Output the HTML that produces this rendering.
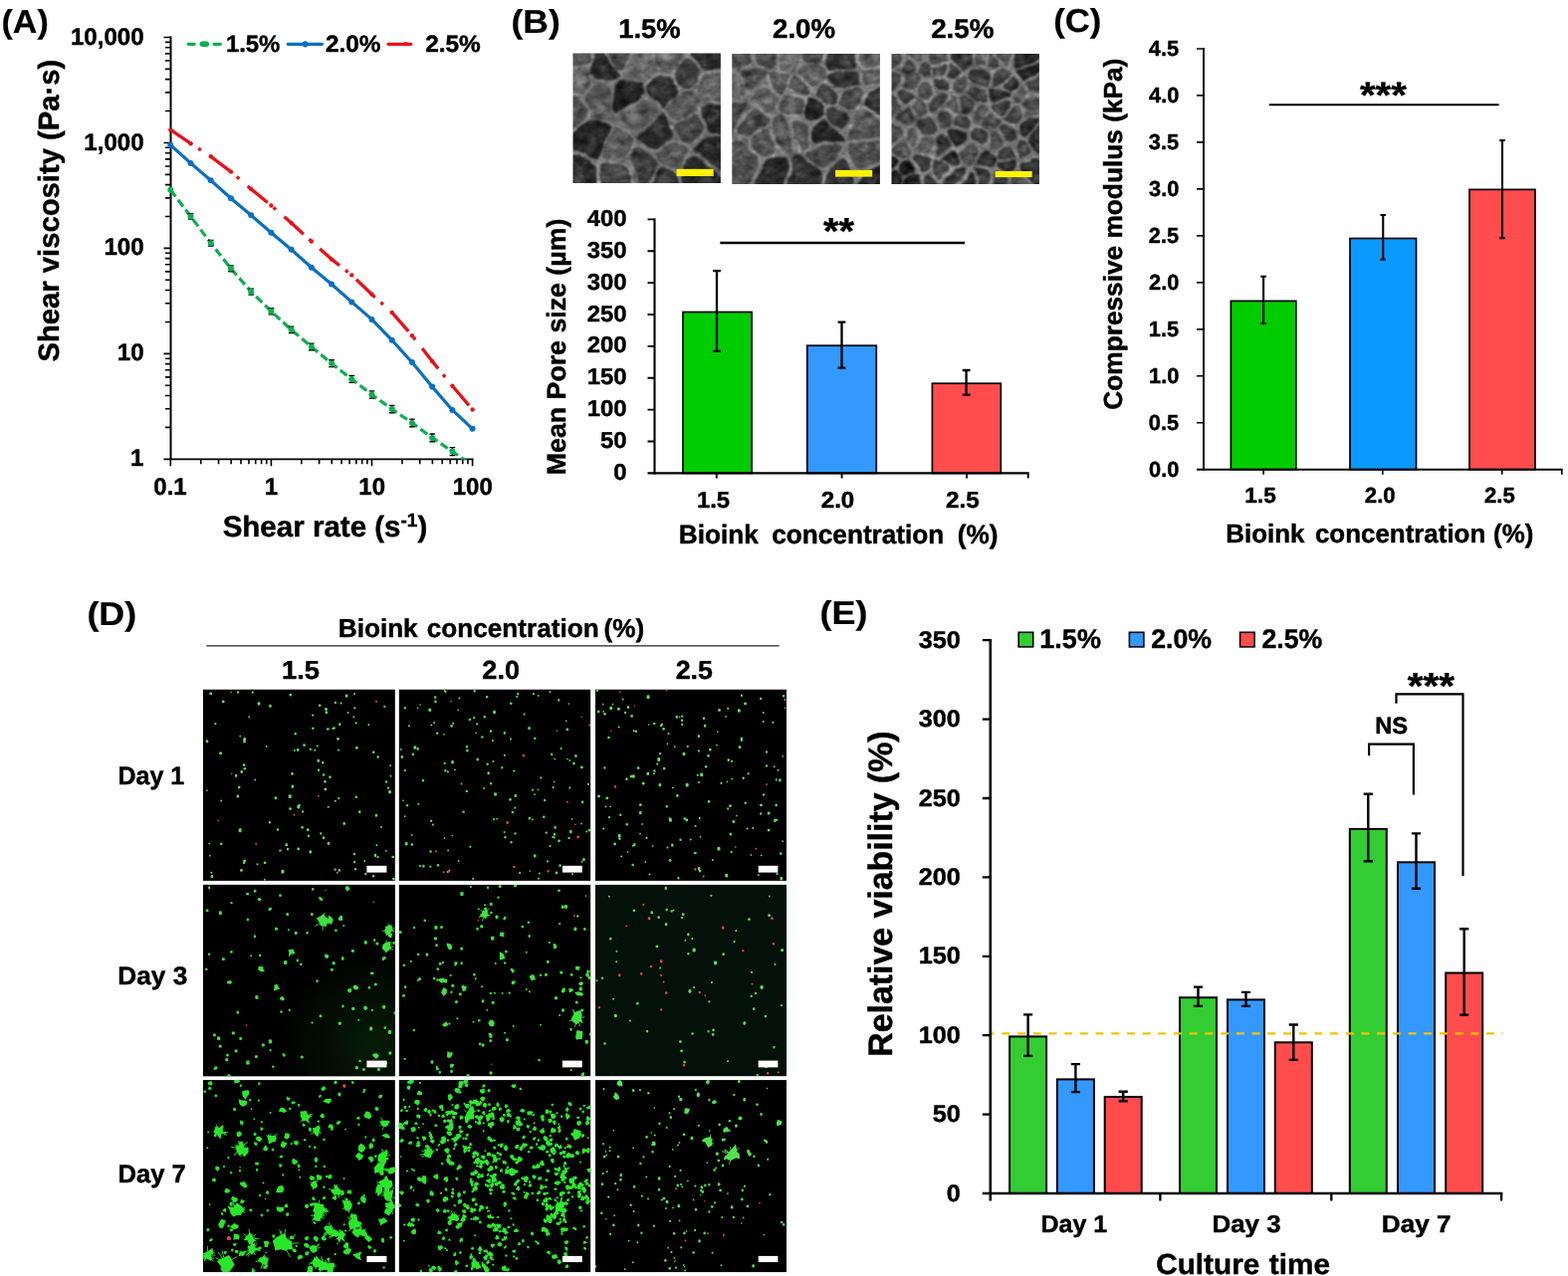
<!DOCTYPE html>
<html><head><meta charset="utf-8"><title>Figure</title>
<style>
html,body{margin:0;padding:0;background:#fff;width:1575px;height:1282px;overflow:hidden;}
svg{display:block;}
text{font-family:"Liberation Sans",sans-serif;font-weight:bold;fill:#000;stroke:#000;stroke-width:0.45px;stroke-linejoin:round;font-kerning:none;text-rendering:geometricPrecision;}
text.pl{stroke-width:0.2px;}
</style></head><body>
<svg width="1575" height="1282" viewBox="0 0 1575 1282">
<defs>
<filter id="semblur" x="-5%" y="-5%" width="110%" height="110%"><feGaussianBlur stdDeviation="0.8"/></filter>
<filter id="semtex" x="0" y="0" width="100%" height="100%" color-interpolation-filters="sRGB"><feTurbulence type="fractalNoise" baseFrequency="0.045" numOctaves="2" seed="3" result="w"/><feDisplacementMap in="SourceGraphic" in2="w" scale="9" xChannelSelector="R" yChannelSelector="G" result="d"/><feGaussianBlur in="d" stdDeviation="0.8" result="b"/><feTurbulence type="fractalNoise" baseFrequency="0.09 0.13" numOctaves="3" seed="7" result="n"/><feColorMatrix in="n" type="matrix" values="0.33 0.33 0.33 0 0  0.33 0.33 0.33 0 0  0.33 0.33 0.33 0 0  0 0 0 0 1" result="ng"/><feComposite in="b" in2="ng" operator="arithmetic" k1="0.9" k2="0.62" k3="0.3" k4="-0.15"/></filter>
<filter id="fblur" x="-5%" y="-5%" width="110%" height="110%"><feGaussianBlur stdDeviation="0.45"/></filter>
<radialGradient id="glow1" gradientUnits="userSpaceOnUse" cx="170" cy="160" r="95"><stop offset="0" stop-color="#071c07"/><stop offset="1" stop-color="#000"/></radialGradient>
</defs>
<rect x="0" y="0" width="1575" height="1282" fill="#fff"/>
<g id="panelA">
<text class="pl" transform="translate(1.51 33.3) scale(1.0300 1)" font-size="33">(A)</text>
<line x1="171.5" y1="36.6" x2="171.5" y2="462.2" stroke="#000" stroke-width="2" />
<line x1="164.5" y1="461.3" x2="475.5" y2="461.3" stroke="#000" stroke-width="1.8" />
<path d="M166 429.41H171.5M166 410.75H171.5M166 397.51H171.5M166 387.24H171.5M166 378.85H171.5M166 371.76H171.5M166 365.62H171.5M166 360.2H171.5M164.5 355.35H171.5M166 323.46H171.5M166 304.8H171.5M166 291.56H171.5M166 281.29H171.5M166 272.9H171.5M166 265.81H171.5M166 259.67H171.5M166 254.25H171.5M164.5 249.4H171.5M166 217.51H171.5M166 198.85H171.5M166 185.61H171.5M166 175.34H171.5M166 166.95H171.5M166 159.86H171.5M166 153.72H171.5M166 148.3H171.5M164.5 143.45H171.5M166 111.56H171.5M166 92.9H171.5M166 79.66H171.5M166 69.39H171.5M166 61H171.5M166 53.91H171.5M166 47.77H171.5M166 42.35H171.5M164.5 37.5H171.5M171.3 461.3V468.3M201.73 461.3V466.3M219.54 461.3V466.3M232.17 461.3V466.3M241.97 461.3V466.3M249.97 461.3V466.3M256.74 461.3V466.3M262.6 461.3V466.3M267.77 461.3V466.3M272.4 461.3V468.3M302.83 461.3V466.3M320.64 461.3V466.3M333.27 461.3V466.3M343.07 461.3V466.3M351.07 461.3V466.3M357.84 461.3V466.3M363.7 461.3V466.3M368.87 461.3V466.3M373.5 461.3V468.3M403.93 461.3V466.3M421.74 461.3V466.3M434.37 461.3V466.3M444.17 461.3V466.3M452.17 461.3V466.3M458.94 461.3V466.3M464.8 461.3V466.3M469.97 461.3V466.3M474.6 461.3V468.3" stroke="#000" stroke-width="1.6" fill="none"/>
<text transform="translate(130.96 467.9) scale(1.0050 1)" font-size="24">1</text>
<text transform="translate(117.86 362.12) scale(1.0050 1)" font-size="24">10</text>
<text transform="translate(104.45 256.34) scale(1.0050 1)" font-size="24">100</text>
<text transform="translate(84.33 150.56) scale(1.0050 1)" font-size="24">1,000</text>
<text transform="translate(70.92 44.78) scale(1.0050 1)" font-size="24">10,000</text>
<text transform="translate(154.28 497.3) scale(1.0000 1)" font-size="24">0.1</text>
<text transform="translate(265.7 497.3) scale(1.0000 1)" font-size="24">1</text>
<text transform="translate(360.29 497.3) scale(1.0000 1)" font-size="24">10</text>
<text transform="translate(454.71 497.3) scale(1.0000 1)" font-size="24">100</text>
<text transform="translate(58.8 363.54) rotate(-90) scale(1.0017 1)" font-size="29.2">Shear viscosity (Pa·s)</text>
<text transform="translate(223.64 538.5) scale(1.0009 1)" font-size="29.5">Shear rate (s<tspan dy="-9.5" font-size="19">-1</tspan><tspan dy="9.5">)</tspan></text>
<clipPath id="clipA"><rect x="165.5" y="30" width="317.1" height="431.8"/></clipPath>
<g clip-path="url(#clipA)">
<polyline points="171.3,190.7 191.52,217.4 211.74,244.3 231.96,269.8 252.18,293.1 272.4,312.8 292.62,331.3 312.84,348.4 333.06,365.2 353.28,380.9 373.5,396.5 393.72,411.1 413.94,424.9 434.16,439.9 454.38,453.6 474.6,467.5" fill="none" stroke="#0AAF50" stroke-width="3.2" stroke-dasharray="8.5 4"/>
<path d="M191.52 214.7V220.1M188.72 214.7H194.32M188.72 220.1H194.32M211.74 241.5V247.1M208.94 241.5H214.54M208.94 247.1H214.54M231.96 266.9V272.7M229.16 266.9H234.76M229.16 272.7H234.76M252.18 290.1V296.1M249.38 290.1H254.98M249.38 296.1H254.98M272.4 309.7V315.9M269.6 309.7H275.2M269.6 315.9H275.2M292.62 328.1V334.5M289.82 328.1H295.42M289.82 334.5H295.42M312.84 345.1V351.7M310.04 345.1H315.64M310.04 351.7H315.64M333.06 361.8V368.6M330.26 361.8H335.86M330.26 368.6H335.86M353.28 377.4V384.4M350.48 377.4H356.08M350.48 384.4H356.08M373.5 392.9V400.1M370.7 392.9H376.3M370.7 400.1H376.3M393.72 407.4V414.8M390.92 407.4H396.52M390.92 414.8H396.52M413.94 421.1V428.7M411.14 421.1H416.74M411.14 428.7H416.74M434.16 436V443.8M431.36 436H436.96M431.36 443.8H436.96M454.38 449.6V457.6M451.58 449.6H457.18M451.58 457.6H457.18M474.6 463.4V471.6M471.8 463.4H477.4M471.8 471.6H477.4" stroke="#000" stroke-width="1.4" fill="none"/>
<circle cx="171.3" cy="190.7" r="3" fill="#0AAF50"/>
<circle cx="191.52" cy="217.4" r="3" fill="#0AAF50"/>
<circle cx="211.74" cy="244.3" r="3" fill="#0AAF50"/>
<circle cx="231.96" cy="269.8" r="3" fill="#0AAF50"/>
<circle cx="252.18" cy="293.1" r="3" fill="#0AAF50"/>
<circle cx="272.4" cy="312.8" r="3" fill="#0AAF50"/>
<circle cx="292.62" cy="331.3" r="3" fill="#0AAF50"/>
<circle cx="312.84" cy="348.4" r="3" fill="#0AAF50"/>
<circle cx="333.06" cy="365.2" r="3" fill="#0AAF50"/>
<circle cx="353.28" cy="380.9" r="3" fill="#0AAF50"/>
<circle cx="373.5" cy="396.5" r="3" fill="#0AAF50"/>
<circle cx="393.72" cy="411.1" r="3" fill="#0AAF50"/>
<circle cx="413.94" cy="424.9" r="3" fill="#0AAF50"/>
<circle cx="434.16" cy="439.9" r="3" fill="#0AAF50"/>
<circle cx="454.38" cy="453.6" r="3" fill="#0AAF50"/>
<circle cx="474.6" cy="467.5" r="3" fill="#0AAF50"/>
<polyline points="171.3,145.7 191.52,163.9 211.74,181.3 231.96,199.3 252.18,216.3 272.4,233.8 292.62,250.8 312.84,268.7 333.06,285.5 353.28,303.4 373.5,320.9 393.72,341.8 413.94,364.1 434.16,388.6 454.38,412 474.6,430.8" fill="none" stroke="#0B6FC2" stroke-width="3.2"/>
<circle cx="171.3" cy="145.7" r="3" fill="#0B6FC2"/>
<circle cx="191.52" cy="163.9" r="3" fill="#0B6FC2"/>
<circle cx="211.74" cy="181.3" r="3" fill="#0B6FC2"/>
<circle cx="231.96" cy="199.3" r="3" fill="#0B6FC2"/>
<circle cx="252.18" cy="216.3" r="3" fill="#0B6FC2"/>
<circle cx="272.4" cy="233.8" r="3" fill="#0B6FC2"/>
<circle cx="292.62" cy="250.8" r="3" fill="#0B6FC2"/>
<circle cx="312.84" cy="268.7" r="3" fill="#0B6FC2"/>
<circle cx="333.06" cy="285.5" r="3" fill="#0B6FC2"/>
<circle cx="353.28" cy="303.4" r="3" fill="#0B6FC2"/>
<circle cx="373.5" cy="320.9" r="3" fill="#0B6FC2"/>
<circle cx="393.72" cy="341.8" r="3" fill="#0B6FC2"/>
<circle cx="413.94" cy="364.1" r="3" fill="#0B6FC2"/>
<circle cx="434.16" cy="388.6" r="3" fill="#0B6FC2"/>
<circle cx="454.38" cy="412" r="3" fill="#0B6FC2"/>
<circle cx="474.6" cy="430.8" r="3" fill="#0B6FC2"/>
<polyline points="171.3,130.4 191.52,144.2 211.74,157.3 231.96,172.6 252.18,190 272.4,206.5 292.62,224 312.84,242.5 333.06,260.4 353.28,276.4 373.5,295.7 393.72,313.9 413.94,337.2 434.16,363 454.38,387.7 474.6,411.5" fill="none" stroke="#E61218" stroke-width="3.3" stroke-dasharray="26 7.6 3.3 11.1"/>
<circle cx="171.3" cy="130.4" r="2.2" fill="#E61218"/>
<circle cx="191.52" cy="144.2" r="2.2" fill="#E61218"/>
<circle cx="211.74" cy="157.3" r="2.2" fill="#E61218"/>
<circle cx="231.96" cy="172.6" r="2.2" fill="#E61218"/>
<circle cx="252.18" cy="190" r="2.2" fill="#E61218"/>
<circle cx="272.4" cy="206.5" r="2.2" fill="#E61218"/>
<circle cx="292.62" cy="224" r="2.2" fill="#E61218"/>
<circle cx="312.84" cy="242.5" r="2.2" fill="#E61218"/>
<circle cx="333.06" cy="260.4" r="2.2" fill="#E61218"/>
<circle cx="353.28" cy="276.4" r="2.2" fill="#E61218"/>
<circle cx="373.5" cy="295.7" r="2.2" fill="#E61218"/>
<circle cx="393.72" cy="313.9" r="2.2" fill="#E61218"/>
<circle cx="413.94" cy="337.2" r="2.2" fill="#E61218"/>
<circle cx="434.16" cy="363" r="2.2" fill="#E61218"/>
<circle cx="454.38" cy="387.7" r="2.2" fill="#E61218"/>
<circle cx="474.6" cy="411.5" r="2.2" fill="#E61218"/>
</g>
<line x1="189.3" y1="44.3" x2="195.1" y2="44.3" stroke="#0AAF50" stroke-width="3.3" stroke-linecap="round"/>
<line x1="215.2" y1="44.3" x2="221.3" y2="44.3" stroke="#0AAF50" stroke-width="3.3" stroke-linecap="round"/>
<ellipse cx="205.3" cy="44.3" rx="4.8" ry="3" fill="#0AAF50"/>
<text transform="translate(226.9 51.9) scale(1.0163 1)" font-size="23.5">1.5%</text>
<line x1="289.3" y1="44.3" x2="323.4" y2="44.3" stroke="#0B6FC2" stroke-width="3.3" stroke-linecap="round"/>
<circle cx="306.6" cy="44.3" r="3.1" fill="#0B6FC2"/>
<text transform="translate(326.96 51.9) scale(1.0340 1)" font-size="23.5">2.0%</text>
<line x1="390.1" y1="44.3" x2="412.8" y2="44.3" stroke="#E61218" stroke-width="3.3" stroke-linecap="round"/>
<circle cx="407.4" cy="44.3" r="2.2" fill="#E61218"/>
<text transform="translate(427.15 51.9) scale(1.0378 1)" font-size="23.5">2.5%</text>
</g>
<g id="panelB">
<text class="pl" transform="translate(513.43 33) scale(1.0771 1)" font-size="33">(B)</text>
<text transform="translate(621.17 37.8) scale(1.0147 1)" font-size="27">1.5%</text>
<text transform="translate(776.04 37.8) scale(1.0235 1)" font-size="27">2.0%</text>
<text transform="translate(935.14 37.8) scale(1.0302 1)" font-size="27">2.5%</text>
<clipPath id="sc1"><rect x="0" y="0" width="148.4" height="130.7"/></clipPath>
<g transform="translate(575.5 53.4)" clip-path="url(#sc1)">
<g filter="url(#semtex)" stroke-linejoin="round">
<rect x="-12" y="-12" width="172.4" height="154.7" fill="rgb(100,100,100)"/>
<path d="M48.2 23.7L49 21.3Q49.7 19.5 43.2 11L34.5 -0.4Q28 -9 27.3 -8.6L26.4 -8Q25.8 -7.6 22.3 -1.5L17.6 6.7Q14.2 12.9 17.4 17.9L21.7 24.5Q25 29.5 29.4 29.5L35.4 29.4Q39.9 29.3 42.2 28.2L45.2 26.6Q47.5 25.5 48.2 23.7Z" fill="rgb(36,36,36)" stroke="rgb(153,153,153)" stroke-width="1"/>
<ellipse cx="30.4" cy="18.5" rx="8.5" ry="4.7" fill="rgb(66,66,66)" opacity="0.5" transform="rotate(81 30.4 18.5)"/>
<path d="M40.8 55.4L40.4 43.4Q40.2 34.4 43 31.3L46.8 27.3Q49.6 24.2 56.3 26.6L65.3 29.7Q72 32.1 72.3 35.2L72.8 39.4Q73.2 42.5 63.5 49.1L50.7 57.8Q41 64.4 40.8 55.4Z" fill="rgb(30,30,30)" stroke="rgb(133,133,133)" stroke-width="1"/>
<ellipse cx="53.6" cy="37.8" rx="8.5" ry="4.7" fill="rgb(60,60,60)" opacity="0.5" transform="rotate(117 53.6 37.8)"/>
<path d="M76.5 41.7L74.8 38.2Q73.6 35.5 77 31.1L81.5 25.3Q84.9 20.9 89.5 21.2L95.8 21.7Q100.4 22.1 103.2 26.9L106.9 33.2Q109.6 38 103.8 44L96 51.9Q90.2 57.9 89.6 57.8L88.8 57.8Q88.2 57.7 85 53.7L80.9 48.4Q77.7 44.4 76.5 41.7Z" fill="rgb(42,42,42)" stroke="rgb(161,161,161)" stroke-width="1.1"/>
<ellipse cx="85.9" cy="36.6" rx="8.6" ry="4.7" fill="rgb(72,72,72)" opacity="0.5" transform="rotate(127 85.9 36.6)"/>
<path d="M34.9 68.6L25.8 66.6Q19.1 65.1 10.4 72L-1.1 81.3Q-9.8 88.2 -9.6 89.7L-9.3 91.7Q-9.1 93.2 1.2 97.7L15 103.7Q25.3 108.2 25.5 107.8L25.8 107.2Q26.1 106.7 30.7 95.7L37 81.1Q41.6 70.1 34.9 68.6Z" fill="rgb(33,33,33)" stroke="rgb(144,144,144)" stroke-width="1"/>
<ellipse cx="18.3" cy="89.1" rx="10.6" ry="5.8" fill="rgb(63,63,63)" opacity="0.5" transform="rotate(100 18.3 89.1)"/>
<path d="M64.1 85.9L65.2 87.6Q66 88.8 71.5 91.3L78.8 94.5Q84.2 97 89.8 93.3L97.2 88.5Q102.7 84.9 101.8 80.4L100.5 74.4Q99.6 69.8 95.6 65.9L90.4 60.7Q86.5 56.7 87.4 57.1L88.7 57.6Q89.6 58 81.7 66L71.2 76.6Q63.2 84.6 64.1 85.9Z" fill="rgb(38,38,38)" stroke="rgb(137,137,137)" stroke-width="1"/>
<ellipse cx="87.6" cy="76" rx="8.7" ry="4.8" fill="rgb(68,68,68)" opacity="0.5" transform="rotate(68 87.6 76)"/>
<path d="M130.6 64.9L133.2 73.3Q135.2 79.6 142.4 81.5L151.9 84Q159 85.9 159.1 75L159.2 60.4Q159.3 49.5 150.4 50.8L138.4 52.6Q129.4 53.9 129.2 55.3L128.8 57.3Q128.5 58.7 130.6 64.9Z" fill="rgb(36,36,36)" stroke="rgb(162,162,162)" stroke-width="0.8"/>
<ellipse cx="141.5" cy="63.7" rx="8.8" ry="4.8" fill="rgb(66,66,66)" opacity="0.5" transform="rotate(141 141.5 63.7)"/>
<path d="M129.5 108.5L145.2 116.9Q156.9 123.2 156.8 128.3L156.5 135Q156.4 140.1 143 140.2L125.1 140.3Q111.7 140.4 110.4 133.6L108.6 124.6Q107.3 117.9 110.4 113.2L114.6 106.9Q117.7 102.2 129.5 108.5Z" fill="rgb(34,34,34)" stroke="rgb(131,131,131)" stroke-width="0.9"/>
<ellipse cx="131.2" cy="129.1" rx="11" ry="6" fill="rgb(64,64,64)" opacity="0.5" transform="rotate(141 131.2 129.1)"/>
<path d="M122.7 91.5L128.7 86.6Q133.1 83 140.6 83.3L150.5 83.7Q158 84 157.2 94.9L156.2 109.5Q155.4 120.4 144.9 114.2L130.8 106Q120.2 99.8 119.7 98.4L118.9 96.6Q118.3 95.2 122.7 91.5Z" fill="rgb(36,36,36)" stroke="rgb(149,149,149)" stroke-width="0.8"/>
<ellipse cx="135.6" cy="92.9" rx="9.1" ry="5" fill="rgb(66,66,66)" opacity="0.5" transform="rotate(40 135.6 92.9)"/>
<path d="M102.4 76.4L103.7 81.2Q104.6 84.9 107.8 87.5L112.1 91.1Q115.3 93.7 120.6 89.4L127.7 83.5Q133 79.1 130.9 72.9L128 64.5Q125.9 58.2 118.6 62.6L108.8 68.4Q101.5 72.8 102.4 76.4Z" fill="rgb(62,62,62)" stroke="rgb(134,134,134)" stroke-width="1.3"/>
<ellipse cx="114.6" cy="79.3" rx="7.6" ry="4.2" fill="rgb(92,92,92)" opacity="0.5" transform="rotate(53 114.6 79.3)"/>
<path d="M129.1 -9.8L146.3 -10.2Q159.1 -10.4 158.4 -3L157.5 6.8Q156.8 14.3 149.8 15.3L140.4 16.7Q133.3 17.8 127.8 13.1L120.5 6.9Q115 2.2 115.4 -1.4L115.8 -6.1Q116.2 -9.6 129.1 -9.8Z" fill="rgb(36,36,36)" stroke="rgb(164,164,164)" stroke-width="1.3"/>
<ellipse cx="136.3" cy="5.4" rx="9.5" ry="5.2" fill="rgb(66,66,66)" opacity="0.5" transform="rotate(115 136.3 5.4)"/>
<path d="M0.4 140.2L14.6 140.1Q25.2 140 24.9 130.9L24.4 118.7Q24 109.6 13.5 105.3L-0.4 99.6Q-10.9 95.3 -10.7 108.8L-10.4 126.8Q-10.2 140.3 0.4 140.2Z" fill="rgb(42,42,42)" stroke="rgb(159,159,159)" stroke-width="1.4"/>
<ellipse cx="5.9" cy="125" rx="10.9" ry="6" fill="rgb(72,72,72)" opacity="0.5" transform="rotate(79 5.9 125)"/>
<path d="M-8.4 32.6L-9.7 24.2Q-10.6 17.9 -3.5 17.3L5.9 16.4Q13 15.7 16.2 20.3L20.5 26.4Q23.7 30.9 19.6 35L14.2 40.4Q10.1 44.4 4.8 42.8L-2.2 40.6Q-7.5 38.9 -8.4 32.6Z" fill="rgb(92,92,92)" stroke="rgb(157,157,157)" stroke-width="1"/>
<ellipse cx="8.8" cy="31.4" rx="7.9" ry="4.3" fill="rgb(122,122,122)" opacity="0.5" transform="rotate(159 8.8 31.4)"/>
<path d="M41 67.6L40.6 67.4Q40.4 67.2 34.4 66.5L26.3 65.6Q20.2 64.9 17.5 58.2L13.9 49.2Q11.3 42.5 15.1 39L20.3 34.4Q24.2 31 28.6 31.5L34.4 32.1Q38.8 32.6 40.1 43.4L41.8 57.8Q43.2 68.6 42.6 68.3L41.8 68Q41.2 67.8 41 67.6Z" fill="rgb(78,78,78)" stroke="rgb(132,132,132)" stroke-width="0.7"/>
<ellipse cx="29.7" cy="58.2" rx="8.7" ry="4.8" fill="rgb(108,108,108)" opacity="0.5" transform="rotate(34 29.7 58.2)"/>
<path d="M80 11.8L78.2 0.8Q76.8 -7.5 74.6 -8.1L71.7 -8.9Q69.6 -9.5 64.3 -0.3L57.2 12Q51.8 21.2 51.5 22.6L51 24.5Q50.6 26 56.9 28.2L65.4 31.3Q71.7 33.5 74.7 29.5L78.5 24.1Q81.4 20.1 80 11.8Z" fill="rgb(92,92,92)" stroke="rgb(130,130,130)" stroke-width="0.8"/>
<ellipse cx="70.1" cy="11" rx="8.4" ry="4.6" fill="rgb(122,122,122)" opacity="0.5" transform="rotate(85 70.1 11)"/>
<path d="M104.3 15.2L109 7.6Q112.6 1.9 112.3 -1L111.9 -4.9Q111.6 -7.8 101.5 -7.7L88.1 -7.5Q78 -7.4 80.2 0.6L83 11.3Q85.2 19.3 89.9 19.8L96.1 20.4Q100.8 20.9 104.3 15.2Z" fill="rgb(88,88,88)" stroke="rgb(128,128,128)" stroke-width="1.1"/>
<ellipse cx="93.7" cy="1.4" rx="8.2" ry="4.5" fill="rgb(118,118,118)" opacity="0.5" transform="rotate(37 93.7 1.4)"/>
<path d="M139.9 50.2L150.2 49.6Q157.9 49.1 157.6 39.8L157.3 27.3Q157 18 149.1 17.9L138.5 17.9Q130.6 17.9 127.6 24.5L123.4 33.3Q120.4 40 123.9 43.2L128.6 47.5Q132.1 50.7 139.9 50.2Z" fill="rgb(86,86,86)" stroke="rgb(161,161,161)" stroke-width="1.1"/>
<ellipse cx="139.4" cy="32.9" rx="9.6" ry="5.3" fill="rgb(116,116,116)" opacity="0.5" transform="rotate(11 139.4 32.9)"/>
<path d="M49.8 71.2L57.5 77.1Q63.3 81.4 69.9 74.6L78.7 65.5Q85.3 58.7 81.5 53.9L76.5 47.6Q72.8 42.9 64.5 50.2L53.5 59.9Q45.2 67.2 44.8 67.1L44.4 67Q44 66.9 49.8 71.2Z" fill="rgb(84,84,84)" stroke="rgb(130,130,130)" stroke-width="0.8"/>
<ellipse cx="59.9" cy="66.1" rx="8.1" ry="4.5" fill="rgb(114,114,114)" opacity="0.5" transform="rotate(26 59.9 66.1)"/>
<path d="M83.1 103.4L84.6 108Q85.8 111.4 80.6 119.4L73.7 130.1Q68.5 138.1 64.5 129L59.1 116.7Q55.1 107.5 57.9 102.4L61.5 95.6Q64.2 90.5 69.5 93.3L76.6 97.1Q81.9 100 83.1 103.4Z" fill="rgb(56,56,56)" stroke="rgb(156,156,156)" stroke-width="0.7"/>
<ellipse cx="74.3" cy="111.3" rx="8.5" ry="4.7" fill="rgb(86,86,86)" opacity="0.5" transform="rotate(81 74.3 111.3)"/>
<path d="M88.9 94L96.1 90.1Q101.5 87.1 106.3 89.8L112.5 93.3Q117.2 96 116.8 97.2L116.3 98.7Q115.9 99.9 113.1 106.1L109.4 114.3Q106.5 120.5 100.5 117.8L92.4 114.2Q86.3 111.6 85.5 107.2L84.3 101.3Q83.5 97 88.9 94Z" fill="rgb(76,76,76)" stroke="rgb(134,134,134)" stroke-width="1.2"/>
<ellipse cx="102.3" cy="99.7" rx="8" ry="4.4" fill="rgb(106,106,106)" opacity="0.5" transform="rotate(63 102.3 99.7)"/>
<path d="M44.2 110.2L33.4 110.1Q25.2 110 25.1 109.9L25 109.6Q24.9 109.5 25.5 118.3L26.2 130Q26.8 138.8 39.1 138.6L55.4 138.3Q67.7 138 66.7 138.6L65.5 139.3Q64.6 139.9 61 131L56.1 119.2Q52.4 110.3 44.2 110.2Z" fill="rgb(62,62,62)" stroke="rgb(161,161,161)" stroke-width="1.1"/>
<ellipse cx="41.9" cy="120.7" rx="9.1" ry="5" fill="rgb(92,92,92)" opacity="0.5" transform="rotate(156 41.9 120.7)"/>
<path d="M114.2 36.4L117 36.1Q119.1 35.9 122.2 30.3L126.4 22.9Q129.5 17.3 124.9 12.6L118.8 6.4Q114.2 1.8 109.8 7.5L104 15.2Q99.6 21 103.3 25.7L108.4 32Q112.1 36.7 114.2 36.4Z" fill="rgb(52,52,52)" stroke="rgb(156,156,156)" stroke-width="0.9"/>
<ellipse cx="115.5" cy="26" rx="7.2" ry="4" fill="rgb(82,82,82)" opacity="0.5" transform="rotate(39 115.5 26)"/>
<path d="M-10.6 -0.9L-10.2 9Q-9.9 16.4 -2.4 15.3L7.6 13.9Q15.1 12.9 17.3 5.8L20.2 -3.7Q22.4 -10.8 12.4 -10L-0.9 -9Q-10.9 -8.2 -10.6 -0.9Z" fill="rgb(70,70,70)" stroke="rgb(136,136,136)" stroke-width="1.3"/>
<ellipse cx="6.6" cy="5.6" rx="7.9" ry="4.3" fill="rgb(100,100,100)" opacity="0.5" transform="rotate(154 6.6 5.6)"/>
<path d="M33.9 0.9L42 12.6Q48 21.4 53.1 11.9L59.9 -0.7Q65.1 -10.2 53.9 -9.5L39.1 -8.6Q27.9 -7.9 33.9 0.9Z" fill="rgb(60,60,60)" stroke="rgb(156,156,156)" stroke-width="1.3"/>
<ellipse cx="51.3" cy="2.7" rx="7.1" ry="3.9" fill="rgb(90,90,90)" opacity="0.5" transform="rotate(176 51.3 2.7)"/>
<path d="M113.4 37.1L117.2 37.3Q120.1 37.5 123.4 41.6L127.7 47Q131 51.2 129.9 53.3L128.6 56.2Q127.6 58.3 120 61.7L109.8 66.1Q102.1 69.4 98.1 65.5L92.8 60.3Q88.8 56.4 95.3 50.6L104 42.8Q110.5 36.9 113.4 37.1Z" fill="rgb(80,80,80)" stroke="rgb(124,124,124)" stroke-width="1.1"/>
<ellipse cx="116.2" cy="49.4" rx="8.5" ry="4.7" fill="rgb(110,110,110)" opacity="0.5" transform="rotate(124 116.2 49.4)"/>
<path d="M40.5 70.5L41.1 70.4Q41.6 70.3 36.7 81.2L30.2 95.7Q25.3 106.6 33.2 106.3L43.8 106Q51.7 105.7 55.2 101.4L59.8 95.7Q63.3 91.4 62.8 89.2L62.1 86.1Q61.5 83.9 55.1 79.9L46.5 74.6Q40.1 70.6 40.5 70.5Z" fill="rgb(80,80,80)" stroke="rgb(133,133,133)" stroke-width="1.1"/>
<ellipse cx="44.2" cy="88.4" rx="8.5" ry="4.7" fill="rgb(110,110,110)" opacity="0.5" transform="rotate(128 44.2 88.4)"/>
<path d="M69.6 140.7L69.6 140.7Q69.7 140.7 81.1 140.3L96.5 139.8Q108 139.4 107.4 134.2L106.6 127.1Q106.1 121.8 100.1 118.8L92.2 114.7Q86.2 111.6 81.2 120.3L74.6 132Q69.6 140.7 69.6 140.7Z" fill="rgb(50,50,50)" stroke="rgb(153,153,153)" stroke-width="1.1"/>
<ellipse cx="88.4" cy="134.1" rx="8" ry="4.4" fill="rgb(80,80,80)" opacity="0.5" transform="rotate(56 88.4 134.1)"/>
<path d="M-4.5 41.4L4.4 43.9Q11.1 45.8 12.8 52L15 60.3Q16.7 66.5 9.4 72L-0.5 79.3Q-7.8 84.8 -8.8 71.2L-10.2 53.1Q-11.2 39.5 -4.5 41.4Z" fill="rgb(70,70,70)" stroke="rgb(158,158,158)" stroke-width="1.2"/>
<ellipse cx="1.5" cy="60.8" rx="8.5" ry="4.7" fill="rgb(100,100,100)" opacity="0.5" transform="rotate(118 1.5 60.8)"/>
</g></g>
<rect x="679.6" y="169.8" width="37.1" height="7.2" fill="#FFF200"/>
<clipPath id="sc2"><rect x="0" y="0" width="148.6" height="131"/></clipPath>
<g transform="translate(735.3 54.1)" clip-path="url(#sc2)">
<g filter="url(#semtex)" stroke-linejoin="round">
<rect x="-12" y="-12" width="172.6" height="155" fill="rgb(105,105,105)"/>
<path d="M147.9 140.7L132.8 139.4Q121.5 138.3 123.4 133.3L125.8 126.5Q127.7 121.4 136.8 116.5L148.9 110Q158.1 105.1 158.4 116.1L158.9 130.8Q159.2 141.8 147.9 140.7Z" fill="rgb(31,31,31)" stroke="rgb(153,153,153)" stroke-width="1.1"/>
<ellipse cx="141.8" cy="123.5" rx="9" ry="4.9" fill="rgb(61,61,61)" opacity="0.5" transform="rotate(110 141.8 123.5)"/>
<path d="M16.9 94.3L24.2 100.1Q29.7 104.6 25.4 115.3L19.6 129.7Q15.3 140.4 8.1 140.4L-1.6 140.3Q-8.8 140.3 -8.4 124.6L-7.8 103.7Q-7.4 88 -4.3 88.1L-0.1 88.4Q3 88.5 5.5 88.9L8.9 89.4Q11.4 89.8 16.9 94.3Z" fill="rgb(73,73,73)" stroke="rgb(165,165,165)" stroke-width="1"/>
<ellipse cx="2.5" cy="103.8" rx="11.8" ry="6.5" fill="rgb(103,103,103)" opacity="0.5" transform="rotate(59 2.5 103.8)"/>
<path d="M97.1 27.5L103.4 33Q108.1 37 108 40.7L107.8 45.6Q107.7 49.2 103.2 50.7L97.3 52.6Q92.9 54 90.2 50.2L86.7 45.3Q84 41.5 84.5 39.9L85.2 37.7Q85.7 36.1 87.7 32.3L90.3 27.3Q92.3 23.5 97.1 27.5Z" fill="rgb(59,59,59)" stroke="rgb(142,142,142)" stroke-width="1.3"/>
<ellipse cx="98.2" cy="42.6" rx="6.5" ry="3.6" fill="rgb(89,89,89)" opacity="0.5" transform="rotate(41 98.2 42.6)"/>
<path d="M113.9 86.8L113.1 87.8Q112.6 88.7 102.3 89.1L88.7 89.6Q78.4 90 79.2 84.3L80.3 76.7Q81.1 71 85.2 69.2L90.7 66.8Q94.8 65.1 100 71.1L106.9 79.1Q112.1 85.1 112.8 85.4L113.8 85.7Q114.5 85.9 113.9 86.8Z" fill="rgb(30,30,30)" stroke="rgb(158,158,158)" stroke-width="0.9"/>
<ellipse cx="98.9" cy="80.4" rx="7.1" ry="3.9" fill="rgb(60,60,60)" opacity="0.5" transform="rotate(168 98.9 80.4)"/>
<path d="M48.2 47.9L47.2 54Q46.4 58.5 49.6 59.9L54 61.9Q57.2 63.3 61.2 62.6L66.4 61.6Q70.3 60.9 72.5 56.1L75.3 49.8Q77.5 45 70.3 44L60.7 42.7Q53.5 41.8 52.1 42.3L50.4 42.9Q49 43.4 48.2 47.9Z" fill="rgb(78,78,78)" stroke="rgb(152,152,152)" stroke-width="1.2"/>
<ellipse cx="56.9" cy="50.7" rx="6.6" ry="3.6" fill="rgb(108,108,108)" opacity="0.5" transform="rotate(131 56.9 50.7)"/>
<path d="M93.1 57.1L93.6 60.9Q94 63.8 89.6 64.8L83.7 66.2Q79.3 67.2 77 66.2L74 64.9Q71.7 63.8 72.9 58.1L74.5 50.4Q75.8 44.7 77.1 43.9L78.8 42.9Q80.1 42.1 83.9 45.7L89 50.6Q92.7 54.3 93.1 57.1Z" fill="rgb(33,33,33)" stroke="rgb(166,166,166)" stroke-width="1.2"/>
<ellipse cx="84" cy="53.5" rx="5.8" ry="3.2" fill="rgb(63,63,63)" opacity="0.5" transform="rotate(68 84 53.5)"/>
<path d="M-9.2 8L-8.1 -1.8Q-7.4 -9.3 0.8 -9.7L11.7 -10.4Q19.9 -10.8 19.5 -5.5L19.1 1.7Q18.7 7 15.8 9.8L12 13.5Q9.1 16.2 3.4 16L-4.2 15.7Q-9.9 15.5 -9.2 8Z" fill="rgb(64,64,64)" stroke="rgb(128,128,128)" stroke-width="1.4"/>
<ellipse cx="7.6" cy="1.3" rx="7.8" ry="4.3" fill="rgb(94,94,94)" opacity="0.5" transform="rotate(65 7.6 1.3)"/>
<path d="M126.9 87L144.5 86.2Q157.7 85.6 156.8 81.7L155.7 76.3Q154.8 72.4 148.1 66.8L139.2 59.3Q132.5 53.8 129.8 55.5L126.2 57.7Q123.5 59.4 121.3 66.6L118.5 76.3Q116.4 83.5 115.6 84.8L114.5 86.4Q113.6 87.6 126.9 87Z" fill="rgb(77,77,77)" stroke="rgb(139,139,139)" stroke-width="1.2"/>
<ellipse cx="132.6" cy="72" rx="9.1" ry="5" fill="rgb(107,107,107)" opacity="0.5" transform="rotate(141 132.6 72)"/>
<path d="M32.7 15L27.1 11.7Q22.9 9.3 22.7 4L22.6 -3Q22.4 -8.2 29.7 -8.8L39.4 -9.6Q46.7 -10.1 46.2 -3.6L45.6 5.1Q45.1 11.7 42.6 13.4L39.3 15.7Q36.9 17.4 32.7 15Z" fill="rgb(65,65,65)" stroke="rgb(146,146,146)" stroke-width="0.8"/>
<ellipse cx="36.5" cy="1.2" rx="6.9" ry="3.8" fill="rgb(95,95,95)" opacity="0.5" transform="rotate(149 36.5 1.2)"/>
<path d="M34 59.9L25 56.2Q18.3 53.5 13.3 62.5L6.7 74.4Q1.7 83.4 5.4 84.4L10.2 85.7Q13.9 86.7 20.9 82.1L30.3 76.1Q37.3 71.5 38.3 68.9L39.7 65.3Q40.7 62.7 34 59.9Z" fill="rgb(66,66,66)" stroke="rgb(138,138,138)" stroke-width="1.2"/>
<ellipse cx="19" cy="68.4" rx="7.8" ry="4.3" fill="rgb(96,96,96)" opacity="0.5" transform="rotate(116 19 68.4)"/>
<path d="M145.1 87.8L129 88.6Q116.9 89.2 116.6 88.9L116.1 88.5Q115.8 88.1 115.2 90.9L114.3 94.7Q113.7 97.5 117.4 103.9L122.3 112.5Q125.9 118.9 135.5 114.7L148.2 109Q157.8 104.7 157.6 99.5L157.4 92.5Q157.2 87.2 145.1 87.8Z" fill="rgb(73,73,73)" stroke="rgb(145,145,145)" stroke-width="0.9"/>
<ellipse cx="130.5" cy="92.8" rx="9.4" ry="5.2" fill="rgb(103,103,103)" opacity="0.5" transform="rotate(9 130.5 92.8)"/>
<path d="M130.7 46.5L131.4 40.1Q132 35.3 130.4 34.1L128.3 32.5Q126.7 31.3 122.4 32.6L116.7 34.4Q112.4 35.8 110.4 39.9L107.7 45.4Q105.6 49.6 110.1 52.5L116.1 56.5Q120.6 59.5 123.5 57L127.3 53.8Q130.1 51.4 130.7 46.5Z" fill="rgb(71,71,71)" stroke="rgb(156,156,156)" stroke-width="1"/>
<ellipse cx="123.5" cy="42.8" rx="6.6" ry="3.6" fill="rgb(101,101,101)" opacity="0.5" transform="rotate(111 123.5 42.8)"/>
<path d="M157.1 25.6L157.4 18.7Q157.6 13.6 149.3 13.8L138.2 14Q129.8 14.2 129.6 14.9L129.3 15.7Q129 16.4 129.1 20.4L129.3 25.8Q129.4 29.8 131.1 31L133.3 32.7Q135 33.9 141.5 32.9L150.3 31.7Q156.9 30.7 157.1 25.6Z" fill="rgb(84,84,84)" stroke="rgb(156,156,156)" stroke-width="1"/>
<ellipse cx="141.7" cy="22.3" rx="6.8" ry="3.7" fill="rgb(114,114,114)" opacity="0.5" transform="rotate(175 141.7 22.3)"/>
<path d="M106.5 75.7L98.7 69.1Q92.9 64.2 93.9 61.5L95.2 57.9Q96.2 55.2 98.7 53.8L102.1 52Q104.7 50.6 109.1 54.1L115.1 58.7Q119.5 62.1 117.4 67.7L114.5 75.1Q112.4 80.6 106.5 75.7Z" fill="rgb(46,46,46)" stroke="rgb(127,127,127)" stroke-width="1.1"/>
<ellipse cx="102.6" cy="60.8" rx="6.3" ry="3.5" fill="rgb(76,76,76)" opacity="0.5" transform="rotate(19 102.6 60.8)"/>
<path d="M67.2 99.2L68.2 98.9Q68.9 98.6 75.3 105.2L83.7 114Q90.1 120.6 90 126.7L89.8 134.8Q89.7 140.9 79.4 140L65.7 138.7Q55.4 137.8 56.4 127.6L57.7 114Q58.7 103.7 61 102.4L64.1 100.7Q66.4 99.4 67.2 99.2Z" fill="rgb(46,46,46)" stroke="rgb(136,136,136)" stroke-width="1"/>
<ellipse cx="68.1" cy="118.4" rx="9.9" ry="5.4" fill="rgb(76,76,76)" opacity="0.5" transform="rotate(120 68.1 118.4)"/>
<path d="M69.1 97.2L69.8 96.6Q70.3 96 72.4 94.9L75.2 93.3Q77.3 92.1 77.5 85.8L77.9 77.4Q78.1 71.1 75.5 69.4L72 67.1Q69.4 65.4 65.9 66.2L61.2 67.2Q57.6 67.9 60.9 76.9L65.3 88.8Q68.5 97.8 69.1 97.2Z" fill="rgb(79,79,79)" stroke="rgb(140,140,140)" stroke-width="1.3"/>
<ellipse cx="68.4" cy="80.8" rx="6.1" ry="3.4" fill="rgb(109,109,109)" opacity="0.5" transform="rotate(66 68.4 80.8)"/>
<path d="M47.3 48.5L45.7 53.8Q44.5 57.8 43.5 58.8L42.2 60.3Q41.2 61.4 34.2 57.7L24.9 52.7Q17.9 49 17.7 48.4L17.3 47.5Q17.1 46.8 18.1 44.9L19.4 42.4Q20.4 40.5 25 37.9L31.1 34.6Q35.7 32.1 39.5 35.8L44.6 40.8Q48.5 44.5 47.3 48.5Z" fill="rgb(87,87,87)" stroke="rgb(129,129,129)" stroke-width="1.3"/>
<ellipse cx="35" cy="46.5" rx="6.9" ry="3.8" fill="rgb(117,117,117)" opacity="0.5" transform="rotate(171 35 46.5)"/>
<path d="M56.2 114.2L54.4 128.1Q52.9 138.5 42.1 139.4L27.7 140.5Q16.9 141.3 21.6 130.4L27.9 115.9Q32.6 104.9 36.9 103.8L42.7 102.2Q47 101 50.2 101.8L54.5 102.9Q57.7 103.8 56.2 114.2Z" fill="rgb(34,34,34)" stroke="rgb(134,134,134)" stroke-width="1.1"/>
<ellipse cx="38" cy="122.6" rx="10" ry="5.5" fill="rgb(64,64,64)" opacity="0.5" transform="rotate(60 38 122.6)"/>
<path d="M45.1 40.1L40 34.5Q36.2 30.2 35.9 26.5L35.5 21.6Q35.3 17.9 37.7 16.8L41 15.5Q43.4 14.5 48.3 15.9L54.8 17.9Q59.7 19.3 57.6 25.5L54.8 33.7Q52.7 39.9 51.5 41.2L50 43Q48.9 44.4 45.1 40.1Z" fill="rgb(81,81,81)" stroke="rgb(157,157,157)" stroke-width="1"/>
<ellipse cx="49" cy="28.8" rx="6.4" ry="3.5" fill="rgb(111,111,111)" opacity="0.5" transform="rotate(120 49 28.8)"/>
<path d="M101.2 140.5L113 141.1Q121.9 141.5 122 135.5L122.2 127.6Q122.4 121.6 119.6 115.3L116 106.8Q113.3 100.5 106.5 107.5L97.3 116.8Q90.5 123.8 91 128.7L91.8 135.2Q92.3 140 101.2 140.5Z" fill="rgb(46,46,46)" stroke="rgb(164,164,164)" stroke-width="1"/>
<ellipse cx="112.2" cy="122.9" rx="9" ry="5" fill="rgb(76,76,76)" opacity="0.5" transform="rotate(134 112.2 122.9)"/>
<path d="M105.7 17.7L117.3 16.6Q126 15.8 125.5 15.4L124.8 14.8Q124.2 14.4 124.2 7.6L124.1 -1.6Q124.1 -8.4 116.9 -8.1L107.3 -7.7Q100 -7.3 97.8 -1.5L94.8 6.3Q92.5 12.1 93.9 14L95.7 16.6Q97 18.6 105.7 17.7Z" fill="rgb(45,45,45)" stroke="rgb(135,135,135)" stroke-width="1.2"/>
<ellipse cx="112.5" cy="6.9" rx="8" ry="4.4" fill="rgb(75,75,75)" opacity="0.5" transform="rotate(49 112.5 6.9)"/>
<path d="M156.8 5.1L156.1 -2.7Q155.5 -8.5 146.4 -8.7L134.3 -9Q125.3 -9.2 125.8 -2.5L126.5 6.5Q127.1 13.1 136.2 12.5L148.3 11.6Q157.4 11 156.8 5.1Z" fill="rgb(83,83,83)" stroke="rgb(159,159,159)" stroke-width="1.4"/>
<ellipse cx="141" cy="4.2" rx="7.6" ry="4.2" fill="rgb(113,113,113)" opacity="0.5" transform="rotate(136 141 4.2)"/>
<path d="M15.6 33.2L12 25.6Q9.3 19.8 4.1 19.3L-3 18.5Q-8.3 18 -8.8 26.4L-9.4 37.6Q-9.9 46 -3 45.1L6.2 43.9Q13.1 42.9 14.7 41.7L16.7 40.1Q18.3 38.9 15.6 33.2Z" fill="rgb(86,86,86)" stroke="rgb(134,134,134)" stroke-width="1.2"/>
<ellipse cx="6.3" cy="35.5" rx="7.3" ry="4" fill="rgb(116,116,116)" opacity="0.5" transform="rotate(103 6.3 35.5)"/>
<path d="M30.4 15.9L25.5 12.8Q21.8 10.5 17.7 13.1L12.1 16.5Q7.9 19.1 11.6 24.9L16.5 32.5Q20.2 38.3 23.8 35.4L28.5 31.6Q32.1 28.8 32.7 25.6L33.5 21.4Q34.1 18.3 30.4 15.9Z" fill="rgb(72,72,72)" stroke="rgb(127,127,127)" stroke-width="1"/>
<ellipse cx="20.5" cy="24.9" rx="6.1" ry="3.4" fill="rgb(102,102,102)" opacity="0.5" transform="rotate(144 20.5 24.9)"/>
<path d="M60.6 19.7L59.2 19.8Q58.2 19.8 54.6 17.7L49.7 14.9Q46 12.8 47.3 5.8L49 -3.5Q50.2 -10.5 54.8 -10.2L60.9 -9.9Q65.4 -9.6 66.5 -3.7L67.9 4.1Q69 10 66.8 12.9L63.9 16.8Q61.7 19.7 60.6 19.7Z" fill="rgb(96,96,96)" stroke="rgb(144,144,144)" stroke-width="1.2"/>
<ellipse cx="60.3" cy="4.1" rx="6.9" ry="3.8" fill="rgb(126,126,126)" opacity="0.5" transform="rotate(162 60.3 4.1)"/>
<path d="M42.2 62.7L44.6 61.3Q46.4 60.3 49 61.6L52.4 63.2Q55 64.5 57.8 74.7L61.4 88.4Q64.2 98.6 62 99.6L59.1 100.9Q57 101.9 53.8 100.6L49.7 99Q46.5 97.8 44.3 89.9L41.4 79.3Q39.2 71.4 39.5 69.1L40 66.1Q40.4 63.7 42.2 62.7Z" fill="rgb(78,78,78)" stroke="rgb(136,136,136)" stroke-width="1.3"/>
<ellipse cx="49.1" cy="78.7" rx="7.6" ry="4.2" fill="rgb(108,108,108)" opacity="0.5" transform="rotate(92 49.1 78.7)"/>
<path d="M-3.2 84.6L-7 85.9Q-9.9 87 -9.2 75.2L-8.2 59.6Q-7.4 47.8 -0.5 48L8.6 48.2Q15.5 48.4 15.9 48.8L16.5 49.4Q16.9 49.8 11.8 60L4.9 73.4Q-0.3 83.5 -3.2 84.6Z" fill="rgb(59,59,59)" stroke="rgb(135,135,135)" stroke-width="0.9"/>
<ellipse cx="4.4" cy="62.1" rx="7.5" ry="4.1" fill="rgb(89,89,89)" opacity="0.5" transform="rotate(91 4.4 62.1)"/>
<path d="M38.8 78.8L43 91Q46.1 100.2 41.1 101.5L34.5 103.3Q29.6 104.5 24.8 99.1L18.4 91.9Q13.7 86.5 20.3 81.5L29.1 74.7Q35.7 69.6 38.8 78.8Z" fill="rgb(70,70,70)" stroke="rgb(152,152,152)" stroke-width="1.2"/>
<ellipse cx="32.3" cy="92.2" rx="7.4" ry="4.1" fill="rgb(100,100,100)" opacity="0.5" transform="rotate(82 32.3 92.2)"/>
<path d="M95.1 20.6L95 22.8Q94.8 24.5 91.7 27.8L87.4 32.2Q84.2 35.5 77.8 30.8L69.2 24.4Q62.8 19.6 65.2 16.5L68.4 12.3Q70.8 9.2 77.1 9.5L85.5 10.1Q91.8 10.4 92.8 13L94.2 16.4Q95.2 19 95.1 20.6Z" fill="rgb(85,85,85)" stroke="rgb(142,142,142)" stroke-width="1.4"/>
<ellipse cx="82.6" cy="21.9" rx="7" ry="3.9" fill="rgb(115,115,115)" opacity="0.5" transform="rotate(47 82.6 21.9)"/>
<path d="M61.9 19.5L61.7 19.5Q61.6 19.4 59 25.2L55.5 32.9Q52.9 38.6 60.4 40.2L70.4 42.2Q78 43.7 79.1 42.1L80.5 39.8Q81.6 38.2 81.6 37.5L81.6 36.6Q81.5 35.9 75.7 31L67.8 24.5Q62 19.6 61.9 19.5Z" fill="rgb(73,73,73)" stroke="rgb(150,150,150)" stroke-width="1.1"/>
<ellipse cx="69.2" cy="35.5" rx="5.8" ry="3.2" fill="rgb(103,103,103)" opacity="0.5" transform="rotate(92 69.2 35.5)"/>
<path d="M87.7 92.2L100.2 89.7Q109.6 87.9 109.7 90.8L110 94.7Q110.1 97.6 104.2 104.3L96.3 113.2Q90.3 119.8 84.6 113L77 103.8Q71.3 96.9 73.4 96L76.2 94.9Q78.3 94 87.7 92.2Z" fill="rgb(62,62,62)" stroke="rgb(153,153,153)" stroke-width="0.9"/>
<ellipse cx="91.6" cy="98.8" rx="7.7" ry="4.2" fill="rgb(92,92,92)" opacity="0.5" transform="rotate(156 91.6 98.8)"/>
<path d="M92.6 3.4L95.5 -4Q97.8 -9.6 88.5 -9.9L76.1 -10.4Q66.9 -10.8 67.8 -4.6L69.1 3.6Q70.1 9.7 76.1 9.5L84.2 9.2Q90.3 9 92.6 3.4Z" fill="rgb(56,56,56)" stroke="rgb(160,160,160)" stroke-width="0.9"/>
<ellipse cx="81.8" cy="-0.7" rx="6.7" ry="3.7" fill="rgb(86,86,86)" opacity="0.5" transform="rotate(13 81.8 -0.7)"/>
<path d="M157.5 59.2L157.9 44.6Q158.1 33.7 151.2 34.8L141.9 36.4Q134.9 37.6 134.2 42.3L133.3 48.5Q132.6 53.2 140 58.3L149.8 65.1Q157.2 70.1 157.5 59.2Z" fill="rgb(45,45,45)" stroke="rgb(169,169,169)" stroke-width="1.4"/>
<ellipse cx="147.9" cy="48.4" rx="7.6" ry="4.2" fill="rgb(75,75,75)" opacity="0.5" transform="rotate(105 147.9 48.4)"/>
<path d="M105.1 17.4L117.6 16.4Q126.9 15.6 127.2 20L127.6 25.9Q127.9 30.3 123.2 32L117 34.3Q112.4 36 106.9 32L99.5 26.7Q94 22.7 94.6 21.4L95.2 19.5Q95.7 18.2 105.1 17.4Z" fill="rgb(43,43,43)" stroke="rgb(157,157,157)" stroke-width="1"/>
<ellipse cx="109.4" cy="26.1" rx="6.5" ry="3.6" fill="rgb(73,73,73)" opacity="0.5" transform="rotate(56 109.4 26.1)"/>
</g></g>
<rect x="839.1" y="170.9" width="37.1" height="6.7" fill="#FFF200"/>
<clipPath id="sc3"><rect x="0" y="0" width="148.4" height="131"/></clipPath>
<g transform="translate(895.5 54.1)" clip-path="url(#sc3)">
<g filter="url(#semtex)" stroke-linejoin="round">
<rect x="-12" y="-12" width="172.4" height="155" fill="rgb(105,105,105)"/>
<path d="M35.3 80.2L39.9 80.4Q43.4 80.6 44.7 79.3L46.4 77.5Q47.7 76.2 45.6 72.2L42.9 66.9Q40.9 62.9 40.3 62L39.5 60.7Q38.9 59.8 35.4 61.7L30.8 64.4Q27.4 66.4 26.9 67.8L26.2 69.8Q25.7 71.2 27.5 73.8L29.9 77.3Q31.8 80 35.3 80.2Z" fill="rgb(56,56,56)" stroke="rgb(129,129,129)" stroke-width="1.1"/>
<ellipse cx="37.3" cy="73" rx="5.1" ry="2.8" fill="rgb(86,86,86)" opacity="0.5" transform="rotate(133 37.3 73)"/>
<path d="M86.1 89.1L82.1 85.7Q79 83.2 79.1 81.3L79.4 78.8Q79.5 76.9 80.4 76L81.6 74.8Q82.4 73.9 84 73.6L86 73.3Q87.6 73 91.4 74.9L96.4 77.5Q100.2 79.4 98.7 83.1L96.6 88.1Q95.1 91.8 93.3 91.8L91 91.7Q89.2 91.7 86.1 89.1Z" fill="rgb(52,52,52)" stroke="rgb(147,147,147)" stroke-width="1.2"/>
<ellipse cx="89.3" cy="80.1" rx="4.9" ry="2.7" fill="rgb(82,82,82)" opacity="0.5" transform="rotate(93 89.3 80.1)"/>
<path d="M-8.8 95.7L-9.5 96.6Q-10.1 97.4 -9.9 103.8L-9.6 112.3Q-9.4 118.8 -5.2 118.1L0.4 117.3Q4.6 116.7 5.9 113.9L7.5 110.2Q8.8 107.4 3.7 103.6L-3.1 98.7Q-8.3 95 -8.8 95.7Z" fill="rgb(23,23,23)" stroke="rgb(147,147,147)" stroke-width="1.1"/>
<ellipse cx="-0.2" cy="107.9" rx="5.1" ry="2.8" fill="rgb(53,53,53)" opacity="0.5" transform="rotate(7 -0.2 107.9)"/>
<path d="M51.4 137.9L50.4 133.3Q49.7 129.8 46.5 127.3L42.2 124Q39 121.5 36.5 121.5L33.2 121.6Q30.8 121.6 30.3 126.9L29.8 133.8Q29.4 139.1 36.2 139.8L45.3 140.7Q52.1 141.4 51.4 137.9Z" fill="rgb(45,45,45)" stroke="rgb(147,147,147)" stroke-width="1.3"/>
<ellipse cx="38.1" cy="128.1" rx="5.5" ry="3" fill="rgb(75,75,75)" opacity="0.5" transform="rotate(163 38.1 128.1)"/>
<path d="M126.1 51.6L127.6 52.3Q128.7 52.9 130.7 55.6L133.3 59.3Q135.2 62 132 65.2L127.7 69.5Q124.5 72.7 120.7 71.6L115.7 70.2Q111.9 69.1 111.7 68.2L111.3 67Q111.1 66.1 115.3 61.6L120.8 55.5Q124.9 51 126.1 51.6Z" fill="rgb(55,55,55)" stroke="rgb(160,160,160)" stroke-width="0.9"/>
<ellipse cx="125.3" cy="62.3" rx="5.1" ry="2.8" fill="rgb(85,85,85)" opacity="0.5" transform="rotate(9 125.3 62.3)"/>
<path d="M28.1 83.9L25 89.5Q22.7 93.7 19.4 91.8L15.1 89.2Q11.8 87.2 12.6 84L13.6 79.6Q14.4 76.4 16.6 75.5L19.5 74.4Q21.7 73.5 24.3 75.4L27.8 77.9Q30.4 79.7 28.1 83.9Z" fill="rgb(77,77,77)" stroke="rgb(163,163,163)" stroke-width="0.9"/>
<ellipse cx="22.4" cy="82.1" rx="4.5" ry="2.5" fill="rgb(107,107,107)" opacity="0.5" transform="rotate(117 22.4 82.1)"/>
<path d="M86.3 92.4L81.7 89.1Q78.3 86.7 74.4 89.7L69.3 93.7Q65.5 96.7 68 100.6L71.3 105.9Q73.8 109.8 75.1 110.9L76.9 112.4Q78.2 113.5 79.4 112.7L81 111.7Q82.2 110.9 84.4 106.1L87.4 99.7Q89.7 94.8 86.3 92.4Z" fill="rgb(71,71,71)" stroke="rgb(136,136,136)" stroke-width="0.9"/>
<ellipse cx="76.4" cy="103.5" rx="5.7" ry="3.1" fill="rgb(101,101,101)" opacity="0.5" transform="rotate(148 76.4 103.5)"/>
<path d="M21.5 96.5L22 96.8Q22.4 97 21.6 99L20.6 101.6Q19.9 103.6 17 105L13.1 106.8Q10.2 108.2 5.6 104.1L-0.5 98.6Q-5.2 94.5 -0 93L6.9 90.9Q12 89.3 14.7 91.4L18.4 94.2Q21.1 96.3 21.5 96.5Z" fill="rgb(68,68,68)" stroke="rgb(124,124,124)" stroke-width="1.4"/>
<ellipse cx="12.7" cy="99" rx="5.1" ry="2.8" fill="rgb(98,98,98)" opacity="0.5" transform="rotate(76 12.7 99)"/>
<path d="M57.5 5.1L57.4 4.9Q57.3 4.8 57.9 0.8L58.6 -4.6Q59.2 -8.6 52.4 -8.8L43.3 -9Q36.5 -9.2 36.3 -5.6L36 -0.7Q35.8 2.9 37.7 5.5L40.2 9Q42.1 11.7 46.7 9.7L52.9 7.2Q57.5 5.2 57.5 5.1Z" fill="rgb(72,72,72)" stroke="rgb(132,132,132)" stroke-width="0.9"/>
<ellipse cx="49.9" cy="-0.1" rx="5.8" ry="3.2" fill="rgb(102,102,102)" opacity="0.5" transform="rotate(47 49.9 -0.1)"/>
<path d="M134 86.5L130.2 85.9Q127.4 85.5 126.1 87.5L124.3 90.3Q123 92.4 123.9 96.8L125.1 102.6Q126 107 126.7 106.4L127.7 105.6Q128.4 105 132.5 103.5L137.8 101.5Q141.8 100 140.3 96.1L138.3 90.9Q136.8 86.9 134 86.5Z" fill="rgb(64,64,64)" stroke="rgb(134,134,134)" stroke-width="1.1"/>
<ellipse cx="131.6" cy="93.9" rx="4.8" ry="2.7" fill="rgb(94,94,94)" opacity="0.5" transform="rotate(48 131.6 93.9)"/>
<path d="M67.5 112.8L63.2 114.2Q60 115.2 56.2 112L51.2 107.7Q47.4 104.4 52.1 101.8L58.2 98.2Q62.8 95.5 63.6 95.4L64.6 95.3Q65.3 95.2 67 100.2L69.1 106.7Q70.8 111.7 67.5 112.8Z" fill="rgb(39,39,39)" stroke="rgb(158,158,158)" stroke-width="1.1"/>
<ellipse cx="61.5" cy="104.4" rx="4.9" ry="2.7" fill="rgb(69,69,69)" opacity="0.5" transform="rotate(74 61.5 104.4)"/>
<path d="M157.2 116.3L157.8 128.6Q158.3 137.7 156.2 138.4L153.4 139.4Q151.3 140.1 144.7 132.8L136 123.2Q129.4 115.9 129.1 114.1L128.6 111.7Q128.3 109.9 132.9 107.6L139.1 104.5Q143.8 102.2 147.7 103.7L152.9 105.7Q156.8 107.2 157.2 116.3Z" fill="rgb(43,43,43)" stroke="rgb(158,158,158)" stroke-width="1.2"/>
<ellipse cx="145.6" cy="118.7" rx="8" ry="4.4" fill="rgb(73,73,73)" opacity="0.5" transform="rotate(73 145.6 118.7)"/>
<path d="M21.2 36.7L16.8 34.9Q13.5 33.5 14.1 29.5L15 24.1Q15.7 20.1 17.7 19.5L20.3 18.6Q22.3 18 25.2 20.9L29.1 24.9Q32 27.8 29.8 30.9L26.8 35Q24.6 38.1 21.2 36.7Z" fill="rgb(75,75,75)" stroke="rgb(160,160,160)" stroke-width="0.8"/>
<ellipse cx="20.7" cy="25.5" rx="4.6" ry="2.5" fill="rgb(105,105,105)" opacity="0.5" transform="rotate(123 20.7 25.5)"/>
<path d="M56.4 82.7L60.7 89Q63.9 93.7 64.4 93.5L65.1 93.3Q65.6 93.2 69.1 90.6L73.8 87.3Q77.4 84.7 76.8 82.6L76.1 79.8Q75.6 77.7 71.4 76.7L65.9 75.4Q61.8 74.4 59.2 75.5L55.8 77Q53.2 78.1 56.4 82.7Z" fill="rgb(34,34,34)" stroke="rgb(138,138,138)" stroke-width="1.2"/>
<ellipse cx="64.4" cy="84" rx="5" ry="2.7" fill="rgb(64,64,64)" opacity="0.5" transform="rotate(30 64.4 84)"/>
<path d="M75.1 60.7L73.4 59.7Q72.1 58.9 71.1 54L69.6 47.5Q68.5 42.5 71.1 42.3L74.6 41.9Q77.2 41.7 78.9 44.5L81.3 48.2Q83 51 81 54.1L78.4 58.3Q76.4 61.4 75.1 60.7Z" fill="rgb(56,56,56)" stroke="rgb(145,145,145)" stroke-width="0.9"/>
<ellipse cx="75.1" cy="50.9" rx="4" ry="2.2" fill="rgb(86,86,86)" opacity="0.5" transform="rotate(0 75.1 50.9)"/>
<path d="M153.6 102.9L146.8 100.3Q141.7 98.3 140.7 94L139.3 88.3Q138.2 84 143.2 79.2L149.8 72.8Q154.8 68 155.6 67.5L156.7 66.7Q157.5 66.2 157.9 77.8L158.3 93.3Q158.6 104.9 153.6 102.9Z" fill="rgb(40,40,40)" stroke="rgb(139,139,139)" stroke-width="0.8"/>
<ellipse cx="149.4" cy="83.6" rx="6.7" ry="3.7" fill="rgb(70,70,70)" opacity="0.5" transform="rotate(67 149.4 83.6)"/>
<path d="M118.3 128.4L118 135Q117.8 140 128.1 139.9L141.7 139.7Q151.9 139.5 144 132.1L133.4 122.1Q125.5 114.6 123.4 117.3L120.6 120.7Q118.5 123.4 118.3 128.4Z" fill="rgb(68,68,68)" stroke="rgb(148,148,148)" stroke-width="1"/>
<ellipse cx="131" cy="129" rx="6.6" ry="3.6" fill="rgb(98,98,98)" opacity="0.5" transform="rotate(11 131 129)"/>
<path d="M29.3 99.9L35.9 101.2Q40.8 102.1 41.5 102.5L42.3 103Q43 103.4 41.4 107.7L39.3 113.5Q37.7 117.9 34.8 118.3L30.9 119Q28 119.4 27.7 118.7L27.2 117.6Q26.9 116.8 25.1 113.3L22.8 108.5Q21.1 104.9 22 103.2L23.3 100.8Q24.3 99 29.3 99.9Z" fill="rgb(48,48,48)" stroke="rgb(162,162,162)" stroke-width="1.3"/>
<ellipse cx="30.9" cy="111.4" rx="5.2" ry="2.9" fill="rgb(78,78,78)" opacity="0.5" transform="rotate(67 30.9 111.4)"/>
<path d="M55.5 24.3L58.8 26.6Q61.2 28.4 64.8 25.9L69.7 22.7Q73.4 20.2 68.9 15.9L63 10.1Q58.6 5.7 58.4 6.2L58.2 6.9Q58 7.4 56.5 11.9L54.6 18Q53.1 22.5 55.5 24.3Z" fill="rgb(54,54,54)" stroke="rgb(153,153,153)" stroke-width="1.3"/>
<ellipse cx="60.7" cy="15.6" rx="4.6" ry="2.5" fill="rgb(84,84,84)" opacity="0.5" transform="rotate(99 60.7 15.6)"/>
<path d="M118.8 107L111.6 107.7Q106.2 108.2 105.1 109.9L103.7 112.2Q102.6 114 107.6 116.1L114.3 118.9Q119.3 121 121.5 119L124.5 116.4Q126.6 114.4 126.7 112.9L126.8 110.8Q126.8 109.3 126 108.4L125 107.3Q124.2 106.5 118.8 107Z" fill="rgb(36,36,36)" stroke="rgb(156,156,156)" stroke-width="1.1"/>
<ellipse cx="115.6" cy="113.6" rx="4.6" ry="2.5" fill="rgb(66,66,66)" opacity="0.5" transform="rotate(130 115.6 113.6)"/>
<path d="M82.2 -3.8L83.1 4.3Q83.7 10.3 87.2 10.9L91.9 11.6Q95.3 12.1 97.3 6.1L99.9 -1.9Q101.8 -7.9 101 -7.8L100 -7.6Q99.2 -7.5 93.9 -8.2L86.8 -9.1Q81.5 -9.8 82.2 -3.8Z" fill="rgb(72,72,72)" stroke="rgb(142,142,142)" stroke-width="1.2"/>
<ellipse cx="93.3" cy="2.1" rx="5.4" ry="2.9" fill="rgb(102,102,102)" opacity="0.5" transform="rotate(64 93.3 2.1)"/>
<path d="M46.2 125.7L41.7 121.4Q38.3 118.2 39.6 114L41.4 108.4Q42.7 104.1 44.3 104.2L46.4 104.2Q47.9 104.2 51.3 107.2L55.7 111.2Q59.1 114.2 56.2 118.6L52.5 124.5Q49.6 128.9 46.2 125.7Z" fill="rgb(61,61,61)" stroke="rgb(154,154,154)" stroke-width="1.2"/>
<ellipse cx="48.4" cy="114.4" rx="5.2" ry="2.8" fill="rgb(91,91,91)" opacity="0.5" transform="rotate(123 48.4 114.4)"/>
<path d="M80.5 139.6L71.3 139.3Q64.3 139.1 68.3 132.1L73.7 122.9Q77.7 115.9 80.6 123.1L84.5 132.6Q87.4 139.8 80.5 139.6Z" fill="rgb(39,39,39)" stroke="rgb(162,162,162)" stroke-width="1.2"/>
<ellipse cx="76.8" cy="133.8" rx="4.9" ry="2.7" fill="rgb(69,69,69)" opacity="0.5" transform="rotate(34 76.8 133.8)"/>
<path d="M10.7 28.3L11.8 24Q12.7 20.7 10.9 20L8.6 19Q6.9 18.3 2.6 18.3L-3.1 18.3Q-7.4 18.3 -7.6 24.1L-7.9 31.7Q-8.2 37.4 -5.1 37.9L-1.1 38.5Q2 38.9 4.3 36.7L7.5 33.8Q9.8 31.6 10.7 28.3Z" fill="rgb(53,53,53)" stroke="rgb(132,132,132)" stroke-width="0.9"/>
<ellipse cx="-0.3" cy="27.7" rx="5.6" ry="3.1" fill="rgb(83,83,83)" opacity="0.5" transform="rotate(97 -0.3 27.7)"/>
<path d="M78.6 23.9L80.4 27.1Q81.7 29.5 86.7 29.9L93.3 30.6Q98.3 31.1 98.6 30.9L99 30.7Q99.4 30.5 99.2 27.4L99 23.1Q98.9 20 98.1 18.4L97 16.3Q96.2 14.8 92 14.9L86.3 15.1Q82 15.3 80.6 17.2L78.7 19.6Q77.3 21.5 78.6 23.9Z" fill="rgb(51,51,51)" stroke="rgb(162,162,162)" stroke-width="0.8"/>
<ellipse cx="92.1" cy="24.8" rx="5.1" ry="2.8" fill="rgb(81,81,81)" opacity="0.5" transform="rotate(11 92.1 24.8)"/>
<path d="M124.9 50.1L126.4 51Q127.4 51.7 130.4 48.7L134.2 44.7Q137.2 41.7 135.8 38.4L134 34.1Q132.7 30.9 131.6 30.8L130.1 30.7Q129 30.6 125.9 33.9L121.9 38.4Q118.8 41.8 119.4 42.8L120.2 44.2Q120.8 45.3 121.7 46.5L122.9 48.1Q123.8 49.3 124.9 50.1Z" fill="rgb(75,75,75)" stroke="rgb(159,159,159)" stroke-width="0.9"/>
<ellipse cx="126.3" cy="41" rx="4.5" ry="2.5" fill="rgb(105,105,105)" opacity="0.5" transform="rotate(21 126.3 41)"/>
<path d="M65.4 73.1L72.5 74.5Q77.8 75.4 78.5 74.5L79.3 73.2Q79.9 72.2 78.9 68.8L77.5 64.2Q76.5 60.8 74.5 60.4L71.9 59.8Q70 59.3 67.7 60.4L64.8 61.8Q62.5 62.9 61.8 65.7L60.8 69.4Q60.1 72.2 65.4 73.1Z" fill="rgb(60,60,60)" stroke="rgb(143,143,143)" stroke-width="1.2"/>
<ellipse cx="69.8" cy="66.8" rx="4.5" ry="2.5" fill="rgb(90,90,90)" opacity="0.5" transform="rotate(70 69.8 66.8)"/>
<path d="M98.4 123.3L97.4 132.4Q96.7 139.3 94.3 139.3L91.2 139.3Q88.8 139.3 86 132.2L82.2 122.7Q79.4 115.6 79.1 115.4L78.7 115Q78.4 114.8 79.6 114.5L81.2 114.1Q82.4 113.7 87.4 114.5L94.1 115.6Q99.1 116.4 98.4 123.3Z" fill="rgb(46,46,46)" stroke="rgb(157,157,157)" stroke-width="1.4"/>
<ellipse cx="85.5" cy="125.5" rx="5.5" ry="3" fill="rgb(76,76,76)" opacity="0.5" transform="rotate(86 85.5 125.5)"/>
<path d="M29.4 44.9L32.6 46.8Q35.1 48.1 37.7 45.3L41.1 41.7Q43.7 38.9 42.1 35.8L40 31.7Q38.4 28.5 36.3 28.7L33.5 29Q31.4 29.2 29.8 31.5L27.7 34.6Q26.1 36.9 26.4 38.9L26.7 41.6Q27 43.6 29.4 44.9Z" fill="rgb(71,71,71)" stroke="rgb(150,150,150)" stroke-width="1.3"/>
<ellipse cx="32.1" cy="39.4" rx="4.5" ry="2.5" fill="rgb(101,101,101)" opacity="0.5" transform="rotate(36 32.1 39.4)"/>
<path d="M9.6 50.3L4.7 45Q1 41 -2.2 40.5L-6.5 39.8Q-9.7 39.3 -9.6 47.8L-9.3 59.1Q-9.2 67.5 -6.4 66.8L-2.8 65.8Q-0 65.1 4 61.9L9.3 57.6Q13.3 54.3 9.6 50.3Z" fill="rgb(63,63,63)" stroke="rgb(146,146,146)" stroke-width="0.8"/>
<ellipse cx="-0.8" cy="53" rx="6.1" ry="3.4" fill="rgb(93,93,93)" opacity="0.5" transform="rotate(25 -0.8 53)"/>
<path d="M8 74.2L3.8 70.5Q0.6 67.7 -2.3 68L-6.2 68.4Q-9 68.7 -8.8 76L-8.5 85.7Q-8.2 93 -8 93.1L-7.6 93.2Q-7.4 93.2 -1.9 91.7L5.3 89.7Q10.8 88.2 10.9 84.8L11.1 80.3Q11.2 76.9 8 74.2Z" fill="rgb(70,70,70)" stroke="rgb(158,158,158)" stroke-width="0.9"/>
<ellipse cx="-2.8" cy="80.3" rx="6" ry="3.3" fill="rgb(100,100,100)" opacity="0.5" transform="rotate(25 -2.8 80.3)"/>
<path d="M55.1 83.8L60.2 88.9Q64 92.8 59 95.7L52.3 99.5Q47.2 102.4 46.4 102.1L45.4 101.8Q44.6 101.5 44.5 100.8L44.4 99.9Q44.4 99.2 44.6 94.5L45 88.2Q45.3 83.4 46.5 82.3L48.2 80.8Q49.4 79.7 50 79.8L50.8 79.9Q51.3 80 55.1 83.8Z" fill="rgb(48,48,48)" stroke="rgb(131,131,131)" stroke-width="0.8"/>
<ellipse cx="50.4" cy="90.8" rx="4.8" ry="2.7" fill="rgb(78,78,78)" opacity="0.5" transform="rotate(75 50.4 90.8)"/>
<path d="M-9.5 -0.1L-8.4 10.1Q-7.7 17.8 -3.2 17.1L2.8 16.1Q7.3 15.4 8.4 11L9.8 5.2Q10.9 0.8 10.3 -1.9L9.4 -5.5Q8.8 -8.1 3.1 -8L-4.5 -7.9Q-10.3 -7.8 -9.5 -0.1Z" fill="rgb(61,61,61)" stroke="rgb(159,159,159)" stroke-width="0.9"/>
<ellipse cx="1.5" cy="3.6" rx="6.4" ry="3.5" fill="rgb(91,91,91)" opacity="0.5" transform="rotate(162 1.5 3.6)"/>
<path d="M149.2 19.1L140.6 25.7Q134.1 30.7 135.5 33.2L137.3 36.6Q138.7 39.2 144 40.6L151 42.6Q156.3 44 156.1 35.1L155.9 23.1Q155.7 14.2 149.2 19.1Z" fill="rgb(59,59,59)" stroke="rgb(144,144,144)" stroke-width="0.7"/>
<ellipse cx="147.5" cy="31.5" rx="5.9" ry="3.3" fill="rgb(89,89,89)" opacity="0.5" transform="rotate(144 147.5 31.5)"/>
<path d="M93.3 50.7L88.4 50.7Q84.8 50.7 82.5 47.8L79.4 43.9Q77 41 78.2 38.2L79.8 34.6Q81 31.8 85.8 32.3L92.3 32.8Q97.2 33.3 97 37.9L96.8 44Q96.7 48.6 96.8 49.2L96.9 50.1Q97 50.7 93.3 50.7Z" fill="rgb(56,56,56)" stroke="rgb(137,137,137)" stroke-width="0.9"/>
<ellipse cx="90.9" cy="40.2" rx="5.3" ry="2.9" fill="rgb(86,86,86)" opacity="0.5" transform="rotate(153 90.9 40.2)"/>
<path d="M38.6 51.6L39 56.4Q39.3 60 40.9 59.7L43.1 59.3Q44.8 59 46.6 57.5L49 55.7Q50.8 54.2 52.7 50.4L55.2 45.2Q57 41.3 53.4 41L48.5 40.7Q44.8 40.4 42.8 42.7L40.2 45.8Q38.3 48.1 38.6 51.6Z" fill="rgb(59,59,59)" stroke="rgb(158,158,158)" stroke-width="1"/>
<ellipse cx="46.8" cy="50.3" rx="4.6" ry="2.5" fill="rgb(89,89,89)" opacity="0.5" transform="rotate(121 46.8 50.3)"/>
<path d="M114.4 12.2L116.6 12.9Q118.2 13.4 119.6 6.7L121.4 -2.4Q122.8 -9.1 116.9 -9.2L109.1 -9.2Q103.2 -9.3 102.8 -8.2L102.2 -6.8Q101.7 -5.7 105 -0.5L109.4 6.5Q112.8 11.7 114.4 12.2Z" fill="rgb(68,68,68)" stroke="rgb(138,138,138)" stroke-width="1.2"/>
<ellipse cx="111.2" cy="0.1" rx="5.2" ry="2.9" fill="rgb(98,98,98)" opacity="0.5" transform="rotate(152 111.2 0.1)"/>
<path d="M117.8 43.7L118.3 41.6Q118.7 40.1 115.9 38.1L112.3 35.4Q109.5 33.3 106.8 32.5L103.2 31.3Q100.5 30.5 99.6 31.3L98.4 32.3Q97.5 33.1 98.2 37.9L99.2 44.3Q99.9 49 105.2 47.9L112.2 46.3Q117.4 45.2 117.8 43.7Z" fill="rgb(42,42,42)" stroke="rgb(148,148,148)" stroke-width="0.8"/>
<ellipse cx="107.2" cy="36.8" rx="4.8" ry="2.7" fill="rgb(72,72,72)" opacity="0.5" transform="rotate(5 107.2 36.8)"/>
<path d="M117.9 24.1L113.3 28.7Q109.8 32.1 112.4 34.1L115.7 36.7Q118.3 38.7 121.6 36.5L126 33.6Q129.2 31.5 126.9 28.2L123.7 23.9Q121.3 20.6 117.9 24.1Z" fill="rgb(40,40,40)" stroke="rgb(133,133,133)" stroke-width="1.3"/>
<ellipse cx="119.8" cy="29.5" rx="4" ry="2.2" fill="rgb(70,70,70)" opacity="0.5" transform="rotate(85 119.8 29.5)"/>
<path d="M21.9 46.1L17.9 49.4Q14.8 51.8 14.7 51.9L14.5 52.1Q14.4 52.3 11 48.6L6.5 43.8Q3.1 40.2 6.1 38.2L10.1 35.5Q13.1 33.5 16.1 34.8L20.1 36.5Q23.1 37.8 23.7 39.6L24.4 41.9Q25 43.7 21.9 46.1Z" fill="rgb(55,55,55)" stroke="rgb(149,149,149)" stroke-width="1.3"/>
<ellipse cx="14.7" cy="42" rx="4.5" ry="2.5" fill="rgb(85,85,85)" opacity="0.5" transform="rotate(174 14.7 42)"/>
<path d="M38.5 24.3L39.7 23.2Q40.5 22.4 40.7 19L40.8 14.5Q41 11.1 38.8 9.6L35.8 7.5Q33.6 5.9 31.2 7.3L28.1 9.2Q25.8 10.6 25.2 13.3L24.4 16.9Q23.8 19.6 26.6 21.6L30.3 24.3Q33.1 26.3 34.5 26L36.3 25.5Q37.7 25.1 38.5 24.3Z" fill="rgb(61,61,61)" stroke="rgb(138,138,138)" stroke-width="1"/>
<ellipse cx="34.4" cy="17.2" rx="4.7" ry="2.6" fill="rgb(91,91,91)" opacity="0.5" transform="rotate(155 34.4 17.2)"/>
<path d="M104.9 108.4L103.7 111.4Q102.9 113.8 102.3 114.1L101.6 114.5Q101 114.9 95.6 113.9L88.4 112.6Q83 111.6 85.5 106.7L88.9 100.1Q91.4 95.2 92.8 95.3L94.8 95.4Q96.2 95.5 98.2 97.1L100.8 99.3Q102.8 100.9 103.7 102.4L104.9 104.5Q105.8 106 104.9 108.4Z" fill="rgb(41,41,41)" stroke="rgb(131,131,131)" stroke-width="1"/>
<ellipse cx="98.7" cy="105" rx="5.1" ry="2.8" fill="rgb(71,71,71)" opacity="0.5" transform="rotate(113 98.7 105)"/>
<path d="M61.2 42.1L63.6 42.6Q65.5 43 66.9 47.5L68.7 53.7Q70.1 58.2 68.1 58.9L65.4 59.7Q63.4 60.4 60.5 58.5L56.6 55.9Q53.6 54 55.1 50L57.1 44.7Q58.6 40.6 58.9 41L59.2 41.4Q59.4 41.7 61.2 42.1Z" fill="rgb(69,69,69)" stroke="rgb(155,155,155)" stroke-width="1"/>
<ellipse cx="62.2" cy="48.6" rx="4.2" ry="2.3" fill="rgb(99,99,99)" opacity="0.5" transform="rotate(60 62.2 48.6)"/>
<path d="M32.9 0.9L33.1 -4.6Q33.3 -8.8 25.7 -8.9L15.7 -9.1Q8.1 -9.2 9.9 -6.3L12.2 -2.5Q13.9 0.4 17.9 2.5L23.2 5.2Q27.1 7.2 28.8 6.6L31.1 5.7Q32.8 5 32.9 0.9Z" fill="rgb(70,70,70)" stroke="rgb(156,156,156)" stroke-width="0.8"/>
<ellipse cx="25.1" cy="-1.9" rx="5.1" ry="2.8" fill="rgb(100,100,100)" opacity="0.5" transform="rotate(79 25.1 -1.9)"/>
<path d="M75.8 114L76.4 114.2Q76.9 114.4 72 121.6L65.5 131.1Q60.6 138.3 58.6 138.6L56 139.2Q54 139.6 52.9 136.5L51.4 132.4Q50.3 129.4 53.6 125.2L58.1 119.5Q61.4 115.3 64.5 114.5L68.7 113.3Q71.8 112.5 72.9 112.9L74.3 113.4Q75.3 113.8 75.8 114Z" fill="rgb(54,54,54)" stroke="rgb(148,148,148)" stroke-width="1.2"/>
<ellipse cx="66.2" cy="124.2" rx="5.6" ry="3.1" fill="rgb(84,84,84)" opacity="0.5" transform="rotate(48 66.2 124.2)"/>
<path d="M39.8 27.5L40.2 26.6Q40.5 25.9 44.4 25.5L49.6 24.9Q53.5 24.5 54.8 26.3L56.4 28.7Q57.7 30.5 57.4 33L57 36.3Q56.7 38.8 56.7 39.5L56.6 40.5Q56.6 41.2 53.5 39.8L49.4 37.9Q46.3 36.5 44.3 34L41.5 30.7Q39.5 28.1 39.8 27.5Z" fill="rgb(52,52,52)" stroke="rgb(151,151,151)" stroke-width="1"/>
<ellipse cx="51.3" cy="31.5" rx="4.1" ry="2.3" fill="rgb(82,82,82)" opacity="0.5" transform="rotate(169 51.3 31.5)"/>
<path d="M148.4 65.2L142.8 64.6Q138.6 64.1 134.8 66.4L129.7 69.5Q125.9 71.9 127 75.2L128.3 79.6Q129.3 82.9 131.8 82.9L135.1 83Q137.6 83 142.1 77.8L148.1 70.9Q152.6 65.7 148.4 65.2Z" fill="rgb(35,35,35)" stroke="rgb(143,143,143)" stroke-width="0.9"/>
<ellipse cx="134.1" cy="74.4" rx="5.1" ry="2.8" fill="rgb(65,65,65)" opacity="0.5" transform="rotate(93 134.1 74.4)"/>
<path d="M117.6 23.3L113.7 27Q110.7 29.7 107.6 30.1L103.5 30.7Q100.5 31.2 100.8 27.6L101.2 22.9Q101.5 19.3 104.3 17.4L108.1 14.8Q110.9 12.9 112.9 13.9L115.5 15.3Q117.5 16.3 118.6 16.9L120 17.7Q121.1 18.3 120.9 19L120.7 19.9Q120.6 20.6 117.6 23.3Z" fill="rgb(59,59,59)" stroke="rgb(149,149,149)" stroke-width="1.4"/>
<ellipse cx="114.1" cy="21" rx="4.6" ry="2.5" fill="rgb(89,89,89)" opacity="0.5" transform="rotate(107 114.1 21)"/>
<path d="M110.6 66.5L111.2 68.1Q111.7 69.2 110.8 71.6L109.5 74.8Q108.6 77.2 106.2 77.7L102.9 78.3Q100.5 78.8 96.9 77L92.1 74.7Q88.5 72.9 91.8 68.7L96 63.1Q99.3 58.9 102.5 60.8L106.9 63.4Q110.1 65.3 110.6 66.5Z" fill="rgb(63,63,63)" stroke="rgb(129,129,129)" stroke-width="0.7"/>
<ellipse cx="103.4" cy="67.7" rx="5" ry="2.8" fill="rgb(93,93,93)" opacity="0.5" transform="rotate(120 103.4 67.7)"/>
<path d="M155 -5L155.3 -1.1Q155.5 1.9 145.6 6.1L132.3 11.8Q122.4 16 122.2 15L121.9 13.6Q121.7 12.6 122.6 6L123.8 -2.8Q124.7 -9.3 133.7 -8.9L145.8 -8.4Q154.8 -8 155 -5Z" fill="rgb(33,33,33)" stroke="rgb(126,126,126)" stroke-width="1"/>
<ellipse cx="133.9" cy="4.5" rx="7.1" ry="3.9" fill="rgb(63,63,63)" opacity="0.5" transform="rotate(179 133.9 4.5)"/>
<path d="M22.7 69.1L23.8 67.5Q24.6 66.3 22.4 62.9L19.5 58.4Q17.3 55.1 16.6 55L15.7 55Q15 55 11.3 58.4L6.3 63.1Q2.5 66.6 6.2 69.1L11.2 72.5Q14.9 75 17 73.6L19.8 71.7Q21.9 70.3 22.7 69.1Z" fill="rgb(55,55,55)" stroke="rgb(139,139,139)" stroke-width="0.7"/>
<ellipse cx="14.4" cy="66.5" rx="4.7" ry="2.6" fill="rgb(85,85,85)" opacity="0.5" transform="rotate(62 14.4 66.5)"/>
<path d="M50.1 22.5L44.4 23.2Q40.2 23.8 40.4 19.9L40.7 14.8Q40.9 11 46.2 9.4L53.3 7.3Q58.6 5.8 57.3 10.6L55.6 17.1Q54.3 21.9 50.1 22.5Z" fill="rgb(62,62,62)" stroke="rgb(156,156,156)" stroke-width="1.4"/>
<ellipse cx="47.8" cy="18.3" rx="4.5" ry="2.5" fill="rgb(92,92,92)" opacity="0.5" transform="rotate(92 47.8 18.3)"/>
<path d="M119.8 88.5L116.9 88.1Q114.8 87.7 113 84.3L110.5 79.7Q108.7 76.3 109.5 74.6L110.6 72.4Q111.5 70.7 114.6 71.4L118.8 72.2Q122 72.8 123.4 76.4L125.2 81Q126.6 84.5 125.2 85.8L123.3 87.6Q121.9 88.9 119.8 88.5Z" fill="rgb(53,53,53)" stroke="rgb(134,134,134)" stroke-width="1"/>
<ellipse cx="116.1" cy="80.3" rx="4.4" ry="2.4" fill="rgb(83,83,83)" opacity="0.5" transform="rotate(160 116.1 80.3)"/>
<path d="M55 75.5L58 74.1Q60.2 73.1 61.1 70.2L62.4 66.2Q63.3 63.2 60.5 61.2L56.7 58.6Q53.9 56.6 51.1 58L47.5 59.7Q44.7 61.1 45.7 65.5L46.9 71.4Q47.8 75.8 49.3 76L51.3 76.3Q52.7 76.5 55 75.5Z" fill="rgb(62,62,62)" stroke="rgb(143,143,143)" stroke-width="0.7"/>
<ellipse cx="51" cy="69.6" rx="4.8" ry="2.6" fill="rgb(92,92,92)" opacity="0.5" transform="rotate(117 51 69.6)"/>
<path d="M64.9 27.6L70.4 24.7Q74.6 22.6 75.1 22.4L75.9 22.1Q76.4 21.9 77.7 24.2L79.3 27.2Q80.5 29.4 79 32.4L76.9 36.3Q75.4 39.2 73.3 40.1L70.6 41.4Q68.5 42.3 65.7 41.5L62 40.4Q59.2 39.5 59.6 36.6L60.3 32.6Q60.7 29.7 64.9 27.6Z" fill="rgb(67,67,67)" stroke="rgb(156,156,156)" stroke-width="1"/>
<ellipse cx="70.3" cy="34.3" rx="5" ry="2.7" fill="rgb(97,97,97)" opacity="0.5" transform="rotate(39 70.3 34.3)"/>
<path d="M103.8 15.9L107.3 14Q109.8 12.5 107.2 7L103.6 -0.5Q100.9 -6.1 99.6 -0.6L97.8 6.8Q96.5 12.3 97.9 13.8L99.8 15.8Q101.2 17.3 103.8 15.9Z" fill="rgb(63,63,63)" stroke="rgb(148,148,148)" stroke-width="0.9"/>
<ellipse cx="101.1" cy="8.1" rx="3.8" ry="2.1" fill="rgb(93,93,93)" opacity="0.5" transform="rotate(68 101.1 8.1)"/>
<path d="M156.2 59.2L156.5 51.9Q156.8 46.3 151.6 45.3L144.8 44Q139.7 43 137 45.6L133.3 49Q130.5 51.6 133.3 54.4L137.1 58.1Q139.8 60.9 143.9 62.4L149.3 64.5Q153.4 66 154.1 65.6L155.2 65.1Q156 64.8 156.2 59.2Z" fill="rgb(73,73,73)" stroke="rgb(134,134,134)" stroke-width="0.9"/>
<ellipse cx="148.6" cy="57.9" rx="6" ry="3.3" fill="rgb(103,103,103)" opacity="0.5" transform="rotate(81 148.6 57.9)"/>
<path d="M9.5 111.3L7.3 114.7Q5.6 117.2 7.9 119.5L10.9 122.6Q13.2 124.9 16.6 123.5L21.2 121.5Q24.6 120.1 23.4 115.9L21.7 110.4Q20.4 106.3 17.6 107L13.9 108Q11.2 108.8 9.5 111.3Z" fill="rgb(20,20,20)" stroke="rgb(149,149,149)" stroke-width="0.8"/>
<ellipse cx="13.4" cy="116.3" rx="4.4" ry="2.4" fill="rgb(50,50,50)" opacity="0.5" transform="rotate(1 13.4 116.3)"/>
<path d="M126.7 23.6L129.4 26.6Q131.5 28.8 132.3 28.9L133.3 29.1Q134.1 29.3 140.5 24.1L149.2 17.3Q155.6 12.2 155.5 9.6L155.4 6.2Q155.3 3.6 145.3 7.3L131.9 12.2Q121.9 15.9 122.7 17.5L123.8 19.7Q124.6 21.4 126.7 23.6Z" fill="rgb(28,28,28)" stroke="rgb(152,152,152)" stroke-width="1.2"/>
<ellipse cx="136.8" cy="17.9" rx="6.1" ry="3.4" fill="rgb(58,58,58)" opacity="0.5" transform="rotate(2 136.8 17.9)"/>
<path d="M35 80.8L40.3 81.1Q44.2 81.4 43.1 87.4L41.5 95.4Q40.4 101.3 35.8 99.8L29.8 97.6Q25.2 96.1 25.1 96.1L25 96.1Q25 96.1 26.8 91.4L29.3 85.2Q31.1 80.5 35 80.8Z" fill="rgb(80,80,80)" stroke="rgb(128,128,128)" stroke-width="1"/>
<ellipse cx="32.4" cy="94" rx="4.9" ry="2.7" fill="rgb(110,110,110)" opacity="0.5" transform="rotate(71 32.4 94)"/>
<path d="M12.2 128.7L11.3 134.8Q10.6 139.5 15.9 139.7L23 139.9Q28.2 140.1 28.5 134L28.8 125.9Q29 119.8 27.8 119.6L26.1 119.3Q24.9 119 21.3 120.5L16.5 122.5Q12.9 124 12.2 128.7Z" fill="rgb(30,30,30)" stroke="rgb(126,126,126)" stroke-width="1"/>
<ellipse cx="21.3" cy="131.4" rx="5.3" ry="2.9" fill="rgb(60,60,60)" opacity="0.5" transform="rotate(26 21.3 131.4)"/>
<path d="M93.9 51.7L88.4 52Q84.3 52.2 82.8 55.3L80.9 59.3Q79.4 62.4 80.2 64.9L81.2 68.2Q82 70.7 83.9 70.6L86.6 70.5Q88.5 70.4 91.8 66.6L96.1 61.6Q99.3 57.8 99 56L98.5 53.4Q98.1 51.5 93.9 51.7Z" fill="rgb(76,76,76)" stroke="rgb(148,148,148)" stroke-width="0.8"/>
<ellipse cx="90.6" cy="62.5" rx="4.9" ry="2.7" fill="rgb(106,106,106)" opacity="0.5" transform="rotate(45 90.6 62.5)"/>
<path d="M101.3 124.4L100.7 132.8Q100.3 139.1 105.5 138.9L112.6 138.7Q117.8 138.5 117.8 133.7L117.7 127.2Q117.6 122.3 113.2 120.4L107.3 117.8Q102.9 115.9 102.6 116.6L102.1 117.5Q101.7 118.1 101.3 124.4Z" fill="rgb(49,49,49)" stroke="rgb(130,130,130)" stroke-width="1.1"/>
<ellipse cx="105.5" cy="126.8" rx="5.5" ry="3" fill="rgb(79,79,79)" opacity="0.5" transform="rotate(145 105.5 126.8)"/>
<path d="M102.1 96L99 93.4Q96.7 91.4 98 88L99.6 83.5Q100.8 80.2 102.5 79.4L104.8 78.5Q106.5 77.8 108.7 81.4L111.7 86.3Q113.9 89.9 111 92.3L107.3 95.5Q104.4 97.9 102.1 96Z" fill="rgb(70,70,70)" stroke="rgb(136,136,136)" stroke-width="1"/>
<ellipse cx="103.9" cy="88.1" rx="4.2" ry="2.3" fill="rgb(100,100,100)" opacity="0.5" transform="rotate(88 103.9 88.1)"/>
<path d="M120.4 107.3L112.4 107.2Q106.5 107.1 105.8 104.3L104.9 100.6Q104.2 97.8 107.6 96L112 93.5Q115.4 91.7 116.7 91.9L118.4 92.3Q119.6 92.5 121.6 97L124.3 102.9Q126.3 107.4 120.4 107.3Z" fill="rgb(49,49,49)" stroke="rgb(163,163,163)" stroke-width="0.9"/>
<ellipse cx="114.3" cy="98.7" rx="4.7" ry="2.6" fill="rgb(79,79,79)" opacity="0.5" transform="rotate(136 114.3 98.7)"/>
<path d="M24.1 47.2L20.4 51.3Q17.6 54.3 20.3 57.1L23.9 60.7Q26.5 63.5 30.1 62.2L34.9 60.4Q38.5 59 37.8 56.1L36.8 52.2Q36 49.2 33.3 47.7L29.6 45.7Q26.8 44.2 24.1 47.2Z" fill="rgb(68,68,68)" stroke="rgb(139,139,139)" stroke-width="0.9"/>
<ellipse cx="27.2" cy="52.6" rx="4.7" ry="2.6" fill="rgb(98,98,98)" opacity="0.5" transform="rotate(131 27.2 52.6)"/>
<path d="M118.5 55.3L114.9 60.5Q112.2 64.3 109.2 62.1L105.3 59Q102.3 56.7 101.4 54.9L100 52.5Q99.1 50.7 99.3 50.5L99.7 50.1Q100 49.8 105.3 48.6L112.2 46.9Q117.4 45.7 118.6 47.4L120.1 49.7Q121.2 51.5 118.5 55.3Z" fill="rgb(55,55,55)" stroke="rgb(147,147,147)" stroke-width="1.3"/>
<ellipse cx="107" cy="51.8" rx="4.6" ry="2.5" fill="rgb(85,85,85)" opacity="0.5" transform="rotate(94 107 51.8)"/>
<path d="M77.3 16.1L80.4 13.4Q82.7 11.3 81.7 5.2L80.3 -3.1Q79.2 -9.2 73.6 -8.8L66.2 -8.1Q60.6 -7.6 60.3 -3.6L59.8 1.7Q59.5 5.7 63.6 9.9L69 15.6Q73 19.8 73.6 19.3L74.4 18.6Q75 18.1 77.3 16.1Z" fill="rgb(45,45,45)" stroke="rgb(132,132,132)" stroke-width="1.3"/>
<ellipse cx="71.1" cy="7.2" rx="6.6" ry="3.6" fill="rgb(75,75,75)" opacity="0.5" transform="rotate(130 71.1 7.2)"/>
<path d="M12.1 129.6L10.5 136.1Q9.2 141 3.6 140.3L-3.8 139.5Q-9.4 138.9 -9 133.5L-8.3 126.3Q-7.8 120.9 -4.2 119.8L0.7 118.5Q4.4 117.4 7.1 119.6L10.6 122.6Q13.3 124.8 12.1 129.6Z" fill="rgb(22,22,22)" stroke="rgb(124,124,124)" stroke-width="0.9"/>
<ellipse cx="3.9" cy="126.9" rx="6.1" ry="3.3" fill="rgb(52,52,52)" opacity="0.5" transform="rotate(70 3.9 126.9)"/>
<path d="M20.5 7L16 3.9Q12.6 1.7 12 5.8L11.1 11.4Q10.5 15.6 11.3 17L12.4 18.8Q13.2 20.2 16.2 19.9L20.3 19.4Q23.3 19 23.5 16.1L23.7 12.2Q23.9 9.2 20.5 7Z" fill="rgb(60,60,60)" stroke="rgb(159,159,159)" stroke-width="0.7"/>
<ellipse cx="17.5" cy="12.4" rx="4" ry="2.2" fill="rgb(90,90,90)" opacity="0.5" transform="rotate(2 17.5 12.4)"/>
</g></g>
<rect x="999.6" y="172" width="37.1" height="6.1" fill="#FFF200"/>
<rect x="686" y="313.5" width="69.1" height="161.9" fill="#00CC00" stroke="#000" stroke-width="1.7"/>
<path d="M720 272.2V352.9M716.1 272.2H723.9M716.1 352.9H723.9" stroke="#000" stroke-width="2.3" fill="none"/>
<rect x="810.8" y="347.2" width="69.5" height="128.2" fill="#3399FF" stroke="#000" stroke-width="1.7"/>
<path d="M845.5 323.7V369.7M841.6 323.7H849.4M841.6 369.7H849.4" stroke="#000" stroke-width="2.3" fill="none"/>
<rect x="936.4" y="385.2" width="68.9" height="90.2" fill="#FF4D4D" stroke="#000" stroke-width="1.7"/>
<path d="M970.6 372V396.7M966.7 372H974.5M966.7 396.7H974.5" stroke="#000" stroke-width="2.3" fill="none"/>
<line x1="657.5" y1="219.4" x2="657.5" y2="476.4" stroke="#000" stroke-width="2.1" />
<line x1="650.5" y1="475.4" x2="1033.6" y2="475.4" stroke="#000" stroke-width="2.1" />
<path d="M650.5 443.52H657.5M650.5 411.65H657.5M650.5 379.77H657.5M650.5 347.9H657.5M650.5 316.02H657.5M650.5 284.15H657.5M650.5 252.28H657.5M650.5 220.4H657.5M719.8 475.4V480.4M845.6 475.4V480.4M971 475.4V480.4M1032.7 475.4V480.4" stroke="#000" stroke-width="1.9" fill="none"/>
<text transform="translate(616.24 481.9) scale(1.0350 1)" font-size="23">0</text>
<text transform="translate(603 450.02) scale(1.0350 1)" font-size="23">50</text>
<text transform="translate(589.76 418.15) scale(1.0350 1)" font-size="23">100</text>
<text transform="translate(589.76 386.27) scale(1.0350 1)" font-size="23">150</text>
<text transform="translate(589.76 354.4) scale(1.0350 1)" font-size="23">200</text>
<text transform="translate(589.76 322.52) scale(1.0350 1)" font-size="23">250</text>
<text transform="translate(589.76 290.65) scale(1.0350 1)" font-size="23">300</text>
<text transform="translate(589.76 258.77) scale(1.0350 1)" font-size="23">350</text>
<text transform="translate(589.76 226.9) scale(1.0350 1)" font-size="23">400</text>
<text transform="translate(699.9 510) scale(1.0373 1)" font-size="23">1.5</text>
<text transform="translate(824.76 510) scale(1.0485 1)" font-size="23">2.0</text>
<text transform="translate(949.96 510) scale(1.0545 1)" font-size="23">2.5</text>
<line x1="723.3" y1="244" x2="969.1" y2="244" stroke="#000" stroke-width="2.4" />
<text transform="translate(826.98 244.79) scale(1.0568 1)" font-size="37.63">**</text>
<text transform="translate(568.1 477.19) rotate(-90) scale(1.0087 1)" font-size="26.5">Mean Pore size (µm)</text>
<text transform="translate(0 545.8) scale(0.9882 1)" font-size="26.5" xml:space="preserve"><tspan x="689.89">Bioink </tspan><tspan x="784.48">concentration </tspan><tspan x="973.27">(%)</tspan></text>
</g>
<g id="panelC">
<text class="pl" transform="translate(1058.17 32.3) scale(1.0535 1)" font-size="33">(C)</text>
<rect x="1236.4" y="302.4" width="65.4" height="169.3" fill="#00CC00" stroke="#000" stroke-width="1.7"/>
<path d="M1269.1 277.8V325M1266.3 277.8H1271.9M1266.3 325H1271.9" stroke="#000" stroke-width="2.1" fill="none"/>
<rect x="1356" y="239.5" width="66.5" height="232.2" fill="#0A99FF" stroke="#000" stroke-width="1.7"/>
<path d="M1389.25 216V260.7M1386.45 216H1392.05M1386.45 260.7H1392.05" stroke="#000" stroke-width="2.1" fill="none"/>
<rect x="1476" y="190.4" width="66" height="281.3" fill="#FF4D4D" stroke="#000" stroke-width="1.7"/>
<path d="M1509 141V239.1M1506.2 141H1511.8M1506.2 239.1H1511.8" stroke="#000" stroke-width="2.1" fill="none"/>
<line x1="1209" y1="48" x2="1209" y2="472.7" stroke="#000" stroke-width="2" />
<line x1="1202" y1="471.7" x2="1569.5" y2="471.7" stroke="#000" stroke-width="2" />
<path d="M1202 424.73H1209M1202 377.77H1209M1202 330.8H1209M1202 283.83H1209M1202 236.87H1209M1202 189.9H1209M1202 142.93H1209M1202 95.97H1209M1202 49H1209M1269.1 471.7V476.7M1388.8 471.7V476.7M1508.7 471.7V476.7M1568.8 471.7V476.7" stroke="#000" stroke-width="1.7" fill="none"/>
<text transform="translate(1154.09 478.5) scale(1.0000 1)" font-size="21.8">0.0</text>
<text transform="translate(1153.8 431.53) scale(1.0000 1)" font-size="21.8">0.5</text>
<text transform="translate(1154.09 384.57) scale(1.0000 1)" font-size="21.8">1.0</text>
<text transform="translate(1153.8 337.6) scale(1.0000 1)" font-size="21.8">1.5</text>
<text transform="translate(1154.09 290.63) scale(1.0000 1)" font-size="21.8">2.0</text>
<text transform="translate(1153.8 243.67) scale(1.0000 1)" font-size="21.8">2.5</text>
<text transform="translate(1154.09 196.7) scale(1.0000 1)" font-size="21.8">3.0</text>
<text transform="translate(1153.8 149.73) scale(1.0000 1)" font-size="21.8">3.5</text>
<text transform="translate(1154.09 102.77) scale(1.0000 1)" font-size="21.8">4.0</text>
<text transform="translate(1153.8 55.8) scale(1.0000 1)" font-size="21.8">4.5</text>
<text transform="translate(1250.27 505.2) scale(1.0379 1)" font-size="21.8">1.5</text>
<text transform="translate(1370.83 505.2) scale(1.0190 1)" font-size="21.8">2.0</text>
<text transform="translate(1491.03 505.2) scale(1.0158 1)" font-size="21.8">2.5</text>
<line x1="1274.9" y1="105.3" x2="1505.6" y2="105.3" stroke="#000" stroke-width="2" />
<text transform="translate(1365.98 107.64) scale(1.0875 1)" font-size="36.83">***</text>
<text transform="translate(1127.4 411.68) rotate(-90) scale(1.0024 1)" font-size="26.2">Compressive modulus (kPa)</text>
<text transform="translate(0 544.8) scale(0.9897 1)" font-size="26.2" xml:space="preserve"><tspan x="1244.11">Bioink </tspan><tspan x="1334.66">concentration </tspan><tspan x="1515.73">(%)</tspan></text>
</g>
<g id="panelD">
<text class="pl" transform="translate(87.41 627.6) scale(1.0865 1)" font-size="33">(D)</text>
<text transform="translate(0 640) scale(1.0060 1)" font-size="26" xml:space="preserve"><tspan x="337.73">Bioink </tspan><tspan x="426.13">concentration </tspan><tspan x="603.01">(%)</tspan></text>
<line x1="207.3" y1="648.9" x2="782.7" y2="648.9" stroke="#222" stroke-width="1.3" />
<text transform="translate(283.08 682) scale(1.0508 1)" font-size="26">1.5</text>
<text transform="translate(484.36 682) scale(1.0387 1)" font-size="26">2.0</text>
<text transform="translate(678.67 682) scale(1.0284 1)" font-size="26">2.5</text>
<text transform="translate(118.42 787.7) scale(0.9828 1)" font-size="25.5">Day 1</text>
<text transform="translate(118.35 988.5) scale(1.0272 1)" font-size="25.5">Day 3</text>
<text transform="translate(118.39 1188.3) scale(1.0043 1)" font-size="25.5">Day 7</text>
<clipPath id="fc00"><rect x="0" y="0" width="193" height="192.4"/></clipPath>
<g transform="translate(203.9 692.5)" clip-path="url(#fc00)">
<rect x="0" y="0" width="193" height="192.4" fill="#000"/>
<g filter="url(#fblur)" fill="#62df62">
<path d="M85.9 107.6a1.5 1.5 0 1 0 2.9 0a1.5 1.5 0 1 0 -2.9 0ZM88.7 97.7a1.3 1.3 0 1 0 2.5 0a1.3 1.3 0 1 0 -2.5 0ZM35 98.5a1.3 1.3 0 1 0 2.6 0a1.3 1.3 0 1 0 -2.6 0ZM151.4 18.9a1.1 1.1 0 1 0 2.2 0a1.1 1.1 0 1 0 -2.2 0ZM17 155.2a1.3 1.3 0 1 0 2.6 0a1.3 1.3 0 1 0 -2.6 0ZM7.5 188a1.5 1.5 0 1 0 3 0a1.5 1.5 0 1 0 -3 0ZM124.9 118.2a1 1 0 1 0 2 0a1 1 0 1 0 -2 0ZM2.9 101.6a0.9 0.9 0 1 0 1.9 0a0.9 0.9 0 1 0 -1.9 0ZM36.4 47.1a0.9 0.9 0 1 0 1.8 0a0.9 0.9 0 1 0 -1.8 0ZM88.2 84.9a1.4 1.4 0 1 0 2.8 0a1.4 1.4 0 1 0 -2.8 0ZM99 122.9a1.2 1.2 0 1 0 2.4 0a1.2 1.2 0 1 0 -2.4 0ZM126.5 88.1a1.1 1.1 0 1 0 2.1 0a1.1 1.1 0 1 0 -2.1 0ZM190.1 190.6a1.4 1.4 0 1 0 2.8 0a1.4 1.4 0 1 0 -2.8 0ZM135.2 61a1 1 0 1 0 2.1 0a1 1 0 1 0 -2.1 0ZM54.8 14.4a1.4 1.4 0 1 0 2.7 0a1.4 1.4 0 1 0 -2.7 0ZM76.3 162.2a1.1 1.1 0 1 0 2.3 0a1.1 1.1 0 1 0 -2.3 0ZM183.1 162.3a0.9 0.9 0 1 0 1.8 0a0.9 0.9 0 1 0 -1.8 0ZM39.9 174.3a1.2 1.2 0 1 0 2.4 0a1.2 1.2 0 1 0 -2.4 0ZM187.3 76.7a0.9 0.9 0 1 0 1.9 0a0.9 0.9 0 1 0 -1.9 0ZM120.2 149.2a1.1 1.1 0 1 0 2.1 0a1.1 1.1 0 1 0 -2.1 0ZM16.2 64.3a1.5 1.5 0 1 0 3 0a1.5 1.5 0 1 0 -3 0ZM144.7 23.5a1 1 0 1 0 2.1 0a1 1 0 1 0 -2.1 0ZM18.9 12.4a1.4 1.4 0 1 0 2.8 0a1.4 1.4 0 1 0 -2.8 0ZM33.8 107.5a1.2 1.2 0 1 0 2.3 0a1.2 1.2 0 1 0 -2.3 0ZM36.4 140.4a1 1 0 1 0 2 0a1 1 0 1 0 -2 0ZM122.8 23.2a1.2 1.2 0 1 0 2.3 0a1.2 1.2 0 1 0 -2.3 0ZM40.2 52.4a1.5 1.5 0 1 0 3 0a1.5 1.5 0 1 0 -3 0ZM153 58.9a1.4 1.4 0 1 0 2.9 0a1.4 1.4 0 1 0 -2.9 0ZM39.8 76.1a1.4 1.4 0 1 0 2.8 0a1.4 1.4 0 1 0 -2.8 0ZM122.1 20.1a1.5 1.5 0 1 0 3 0a1.5 1.5 0 1 0 -3 0ZM40.4 50.2a1.4 1.4 0 1 0 2.7 0a1.4 1.4 0 1 0 -2.7 0ZM62.9 57.4a0.9 0.9 0 1 0 1.9 0a0.9 0.9 0 1 0 -1.9 0ZM17.2 112a1 1 0 1 0 2.1 0a1 1 0 1 0 -2.1 0ZM114.7 71.8a1.2 1.2 0 1 0 2.3 0a1.2 1.2 0 1 0 -2.3 0ZM182.9 93.1a1.2 1.2 0 1 0 2.5 0a1.2 1.2 0 1 0 -2.5 0ZM165.5 35.8a1 1 0 1 0 2 0a1 1 0 1 0 -2 0ZM173.5 156.7a1 1 0 1 0 2.1 0a1 1 0 1 0 -2.1 0ZM35.8 141.8a1.5 1.5 0 1 0 2.9 0a1.5 1.5 0 1 0 -2.9 0ZM37.1 181.9a1.4 1.4 0 1 0 2.9 0a1.4 1.4 0 1 0 -2.9 0ZM115.3 81.2a1 1 0 1 0 1.9 0a1 1 0 1 0 -1.9 0ZM7.3 184.3a1 1 0 1 0 2.1 0a1 1 0 1 0 -2.1 0ZM134.2 49.9a1.4 1.4 0 1 0 2.8 0a1.4 1.4 0 1 0 -2.8 0ZM113.9 56.9a1 1 0 1 0 2 0a1 1 0 1 0 -2 0ZM137.6 14.1a1 1 0 1 0 2.1 0a1 1 0 1 0 -2.1 0ZM106.6 163.3a1.3 1.3 0 1 0 2.5 0a1.3 1.3 0 1 0 -2.5 0ZM53.5 175.7a1 1 0 1 0 2 0a1 1 0 1 0 -2 0ZM3 52.3a1.2 1.2 0 1 0 2.3 0a1.2 1.2 0 1 0 -2.3 0ZM11.4 34.6a1.1 1.1 0 1 0 2.2 0a1.1 1.1 0 1 0 -2.2 0ZM109.2 26.1a1.1 1.1 0 1 0 2.2 0a1.1 1.1 0 1 0 -2.2 0ZM169.9 187.7a1.3 1.3 0 1 0 2.6 0a1.3 1.3 0 1 0 -2.6 0ZM132 112.3a1 1 0 1 0 2 0a1 1 0 1 0 -2 0ZM6.3 4.4a1.4 1.4 0 1 0 2.9 0a1.4 1.4 0 1 0 -2.9 0ZM134 184.3a0.9 0.9 0 1 0 1.8 0a0.9 0.9 0 1 0 -1.8 0ZM121.2 92.8a1.3 1.3 0 1 0 2.7 0a1.3 1.3 0 1 0 -2.7 0ZM61 191.3a0.9 0.9 0 1 0 1.9 0a0.9 0.9 0 1 0 -1.9 0ZM103.9 141.3a1.4 1.4 0 1 0 2.9 0a1.4 1.4 0 1 0 -2.9 0ZM140.4 135a1.4 1.4 0 1 0 2.8 0a1.4 1.4 0 1 0 -2.8 0ZM174.5 68a1.3 1.3 0 1 0 2.6 0a1.3 1.3 0 1 0 -2.6 0ZM171.9 166.9a1.2 1.2 0 1 0 2.3 0a1.2 1.2 0 1 0 -2.3 0ZM150.7 165.4a1.2 1.2 0 1 0 2.5 0a1.2 1.2 0 1 0 -2.5 0ZM119.1 73.8a1.2 1.2 0 1 0 2.5 0a1.2 1.2 0 1 0 -2.5 0ZM116 16.3a1.3 1.3 0 1 0 2.6 0a1.3 1.3 0 1 0 -2.6 0ZM189.4 168.5a1.3 1.3 0 1 0 2.7 0a1.3 1.3 0 1 0 -2.7 0ZM73.9 141a1.2 1.2 0 1 0 2.5 0a1.2 1.2 0 1 0 -2.5 0ZM84.2 160.6a1 1 0 1 0 1.9 0a1 1 0 1 0 -1.9 0ZM143 6.7a1.3 1.3 0 1 0 2.5 0a1.3 1.3 0 1 0 -2.5 0ZM91.5 44.8a1.3 1.3 0 1 0 2.6 0a1.3 1.3 0 1 0 -2.6 0ZM94.5 118a1.5 1.5 0 1 0 2.9 0a1.5 1.5 0 1 0 -2.9 0ZM48.8 3.2a1.1 1.1 0 1 0 2.2 0a1.1 1.1 0 1 0 -2.2 0ZM129.5 39.6a1 1 0 1 0 2 0a1 1 0 1 0 -2 0ZM172.8 126.7a1.2 1.2 0 1 0 2.3 0a1.2 1.2 0 1 0 -2.3 0ZM170 63.3a1.3 1.3 0 1 0 2.6 0a1.3 1.3 0 1 0 -2.6 0ZM37.5 83a1.4 1.4 0 1 0 2.8 0a1.4 1.4 0 1 0 -2.8 0ZM174.5 168.6a1.1 1.1 0 1 0 2.3 0a1.1 1.1 0 1 0 -2.3 0ZM111.4 61.3a1 1 0 1 0 2 0a1 1 0 1 0 -2 0ZM94.4 160.4a1.4 1.4 0 1 0 2.8 0a1.4 1.4 0 1 0 -2.8 0ZM135.8 181.9a1.1 1.1 0 1 0 2.1 0a1.1 1.1 0 1 0 -2.1 0ZM32.2 86.8a1.1 1.1 0 1 0 2.1 0a1.1 1.1 0 1 0 -2.1 0ZM40.6 79.8a1.3 1.3 0 1 0 2.6 0a1.3 1.3 0 1 0 -2.6 0ZM93.9 61a1.4 1.4 0 1 0 2.8 0a1.4 1.4 0 1 0 -2.8 0ZM187.6 87.2a0.9 0.9 0 1 0 1.9 0a0.9 0.9 0 1 0 -1.9 0ZM6.1 167.2a0.9 0.9 0 1 0 1.8 0a0.9 0.9 0 1 0 -1.8 0ZM135.3 109.6a1.1 1.1 0 1 0 2.2 0a1.1 1.1 0 1 0 -2.2 0ZM151.2 4.6a1 1 0 1 0 2 0a1 1 0 1 0 -2 0ZM86.5 5.7a1.4 1.4 0 1 0 2.8 0a1.4 1.4 0 1 0 -2.8 0ZM45.4 27.8a0.9 0.9 0 1 0 1.9 0a0.9 0.9 0 1 0 -1.9 0ZM119.9 86a1.3 1.3 0 1 0 2.6 0a1.3 1.3 0 1 0 -2.6 0ZM124.6 154.7a1.5 1.5 0 1 0 3 0a1.5 1.5 0 1 0 -3 0ZM130.6 39a1.2 1.2 0 1 0 2.4 0a1.2 1.2 0 1 0 -2.4 0ZM33.9 3a1.2 1.2 0 1 0 2.4 0a1.2 1.2 0 1 0 -2.4 0ZM136.3 35.1a1.1 1.1 0 1 0 2.1 0a1.1 1.1 0 1 0 -2.1 0ZM65.8 133.8a1.2 1.2 0 1 0 2.4 0a1.2 1.2 0 1 0 -2.4 0ZM117.2 145a1.1 1.1 0 1 0 2.3 0a1.1 1.1 0 1 0 -2.3 0ZM151.3 173.5a1 1 0 1 0 1.9 0a1 1 0 1 0 -1.9 0ZM178.1 138.5a1 1 0 1 0 2 0a1 1 0 1 0 -2 0ZM86.2 120.1a1.4 1.4 0 1 0 2.9 0a1.4 1.4 0 1 0 -2.9 0ZM71.5 109.3a1.4 1.4 0 1 0 2.9 0a1.4 1.4 0 1 0 -2.9 0ZM152 180.8a1.2 1.2 0 1 0 2.4 0a1.2 1.2 0 1 0 -2.4 0ZM124.1 40a1.3 1.3 0 1 0 2.7 0a1.3 1.3 0 1 0 -2.7 0ZM156 123.2a1.3 1.3 0 1 0 2.7 0a1.3 1.3 0 1 0 -2.7 0ZM40.3 172.4a1.5 1.5 0 1 0 3 0a1.5 1.5 0 1 0 -3 0ZM186.3 103.2a1.4 1.4 0 1 0 2.7 0a1.4 1.4 0 1 0 -2.7 0ZM60.8 174.3a1.4 1.4 0 1 0 2.8 0a1.4 1.4 0 1 0 -2.8 0ZM66.4 16.8a1.2 1.2 0 1 0 2.3 0a1.2 1.2 0 1 0 -2.3 0ZM104.9 147.3a1.2 1.2 0 1 0 2.4 0a1.2 1.2 0 1 0 -2.4 0ZM5.5 155.1a0.9 0.9 0 1 0 1.9 0a0.9 0.9 0 1 0 -1.9 0ZM152.7 33.9a1.1 1.1 0 1 0 2.2 0a1.1 1.1 0 1 0 -2.2 0ZM150.5 27.8a1 1 0 1 0 2 0a1 1 0 1 0 -2 0ZM98.3 138.8a1.4 1.4 0 1 0 2.8 0a1.4 1.4 0 1 0 -2.8 0ZM131.5 181.1a1.2 1.2 0 1 0 2.4 0a1.2 1.2 0 1 0 -2.4 0ZM181.3 17.4a1 1 0 1 0 2.1 0a1 1 0 1 0 -2.1 0ZM100.3 56.2a1.3 1.3 0 1 0 2.7 0a1.3 1.3 0 1 0 -2.7 0ZM121.6 100.5a1.4 1.4 0 1 0 2.8 0a1.4 1.4 0 1 0 -2.8 0ZM106.8 60.3a1.1 1.1 0 1 0 2.3 0a1.1 1.1 0 1 0 -2.3 0ZM161.4 172.5a1 1 0 1 0 2 0a1 1 0 1 0 -2 0ZM162.3 185.4a1.2 1.2 0 1 0 2.4 0a1.2 1.2 0 1 0 -2.4 0ZM109.2 39.3a1.2 1.2 0 1 0 2.4 0a1.2 1.2 0 1 0 -2.4 0ZM96.2 116.2a0.9 0.9 0 1 0 1.8 0a0.9 0.9 0 1 0 -1.8 0ZM185 99.2a1.1 1.1 0 1 0 2.3 0a1.1 1.1 0 1 0 -2.3 0ZM152.8 108.2a1.2 1.2 0 1 0 2.4 0a1.2 1.2 0 1 0 -2.4 0ZM131.8 13.5a1.2 1.2 0 1 0 2.4 0a1.2 1.2 0 1 0 -2.4 0ZM78.6 183.2a1.5 1.5 0 1 0 2.9 0a1.5 1.5 0 1 0 -2.9 0ZM51.4 91.1a1 1 0 1 0 2 0a1 1 0 1 0 -2 0ZM82.4 156.3a1.4 1.4 0 1 0 2.9 0a1.4 1.4 0 1 0 -2.9 0ZM91 61.4a1 1 0 1 0 2 0a1 1 0 1 0 -2 0Z"/>
</g>
<path d="M90.6 126.2a1 1 0 1 0 2 0a1 1 0 1 0 -2 0ZM27.3 3.1a0.9 0.9 0 1 0 1.8 0a0.9 0.9 0 1 0 -1.8 0ZM52.3 155.3a1 1 0 1 0 2 0a1 1 0 1 0 -2 0ZM114.9 107.3a1 1 0 1 0 2 0a1 1 0 1 0 -2 0ZM27.9 84.8a0.8 0.8 0 1 0 1.7 0a0.8 0.8 0 1 0 -1.7 0ZM173 12.2a1 1 0 1 0 2.1 0a1 1 0 1 0 -2.1 0ZM14.3 131.8a0.9 0.9 0 1 0 1.8 0a0.9 0.9 0 1 0 -1.8 0ZM77.5 161.4a0.8 0.8 0 1 0 1.6 0a0.8 0.8 0 1 0 -1.6 0Z" fill="#e0453f" filter="url(#fblur)"/>
</g>
<rect x="368.4" y="869.8" width="20" height="6.8" fill="#fff"/>
<clipPath id="fc01"><rect x="0" y="0" width="192.8" height="192.4"/></clipPath>
<g transform="translate(400.6 692.5)" clip-path="url(#fc01)">
<rect x="0" y="0" width="192.8" height="192.4" fill="#000"/>
<g filter="url(#fblur)" fill="#55dd55">
<path d="M31.3 132.3a1.2 1.2 0 1 0 2.4 0a1.2 1.2 0 1 0 -2.4 0ZM91.1 42.1a1.3 1.3 0 1 0 2.6 0a1.3 1.3 0 1 0 -2.6 0ZM154 98.6a1.1 1.1 0 1 0 2.2 0a1.1 1.1 0 1 0 -2.2 0ZM45 1.6a1 1 0 1 0 2 0a1 1 0 1 0 -2 0ZM111.4 14.2a1.3 1.3 0 1 0 2.6 0a1.3 1.3 0 1 0 -2.6 0ZM44.5 45.3a0.8 0.8 0 1 0 1.7 0a0.8 0.8 0 1 0 -1.7 0ZM190 141.6a1.3 1.3 0 1 0 2.7 0a1.3 1.3 0 1 0 -2.7 0ZM117.5 7.5a1 1 0 1 0 2 0a1 1 0 1 0 -2 0ZM94.6 23.1a1.4 1.4 0 1 0 2.7 0a1.4 1.4 0 1 0 -2.7 0ZM70 30.5a1.3 1.3 0 1 0 2.6 0a1.3 1.3 0 1 0 -2.6 0ZM23.8 177.7a1.1 1.1 0 1 0 2.1 0a1.1 1.1 0 1 0 -2.1 0ZM105.2 66.3a1.1 1.1 0 1 0 2.2 0a1.1 1.1 0 1 0 -2.2 0ZM35.3 8.1a1.3 1.3 0 1 0 2.6 0a1.3 1.3 0 1 0 -2.6 0ZM44.9 149.6a0.9 0.9 0 1 0 1.9 0a0.9 0.9 0 1 0 -1.9 0ZM184.6 171.2a1.3 1.3 0 1 0 2.5 0a1.3 1.3 0 1 0 -2.5 0ZM145.3 111.6a1.2 1.2 0 1 0 2.5 0a1.2 1.2 0 1 0 -2.5 0ZM23.1 91.7a1.3 1.3 0 1 0 2.6 0a1.3 1.3 0 1 0 -2.6 0ZM38 176.8a1.3 1.3 0 1 0 2.7 0a1.3 1.3 0 1 0 -2.7 0ZM78.1 70.5a1.1 1.1 0 1 0 2.1 0a1.1 1.1 0 1 0 -2.1 0ZM73.6 190.4a1 1 0 1 0 2.1 0a1 1 0 1 0 -2.1 0ZM4.9 18.8a1.2 1.2 0 1 0 2.5 0a1.2 1.2 0 1 0 -2.5 0ZM189.3 95.4a1.1 1.1 0 1 0 2.2 0a1.1 1.1 0 1 0 -2.2 0ZM105.1 143.5a0.9 0.9 0 1 0 1.9 0a0.9 0.9 0 1 0 -1.9 0ZM116 107a1.2 1.2 0 1 0 2.3 0a1.2 1.2 0 1 0 -2.3 0ZM34.5 33.4a1 1 0 1 0 2 0a1 1 0 1 0 -2 0ZM176.7 67a1.2 1.2 0 1 0 2.3 0a1.2 1.2 0 1 0 -2.3 0ZM58.7 20.7a0.8 0.8 0 1 0 1.7 0a0.8 0.8 0 1 0 -1.7 0ZM155.2 148.9a1 1 0 1 0 2 0a1 1 0 1 0 -2 0ZM130 129.7a1.3 1.3 0 1 0 2.7 0a1.3 1.3 0 1 0 -2.7 0ZM182.4 78.5a1.4 1.4 0 1 0 2.8 0a1.4 1.4 0 1 0 -2.8 0ZM183.1 113.4a1.3 1.3 0 1 0 2.7 0a1.3 1.3 0 1 0 -2.7 0ZM93.7 72.5a0.9 0.9 0 1 0 1.9 0a0.9 0.9 0 1 0 -1.9 0ZM167.3 31.9a0.8 0.8 0 1 0 1.7 0a0.8 0.8 0 1 0 -1.7 0ZM153.6 148.4a1.1 1.1 0 1 0 2.2 0a1.1 1.1 0 1 0 -2.2 0ZM159.7 10.9a1 1 0 1 0 1.9 0a1 1 0 1 0 -1.9 0ZM55.4 80.9a0.9 0.9 0 1 0 1.8 0a0.9 0.9 0 1 0 -1.8 0ZM12.9 65.4a1.3 1.3 0 1 0 2.7 0a1.3 1.3 0 1 0 -2.7 0ZM187.6 143a1.1 1.1 0 1 0 2.2 0a1.1 1.1 0 1 0 -2.2 0ZM48 183.6a1.1 1.1 0 1 0 2.2 0a1.1 1.1 0 1 0 -2.2 0ZM139.1 6.4a0.9 0.9 0 1 0 1.9 0a0.9 0.9 0 1 0 -1.9 0ZM159.6 152.4a1.3 1.3 0 1 0 2.7 0a1.3 1.3 0 1 0 -2.7 0ZM114.6 82.1a1.1 1.1 0 1 0 2.3 0a1.1 1.1 0 1 0 -2.3 0ZM161.9 59.6a1.1 1.1 0 1 0 2.2 0a1.1 1.1 0 1 0 -2.2 0ZM52.9 147.3a0.8 0.8 0 1 0 1.6 0a0.8 0.8 0 1 0 -1.6 0ZM130.9 182.6a0.8 0.8 0 1 0 1.6 0a0.8 0.8 0 1 0 -1.6 0ZM113 123.6a1.3 1.3 0 1 0 2.6 0a1.3 1.3 0 1 0 -2.6 0ZM111.4 50a1 1 0 1 0 2.1 0a1 1 0 1 0 -2.1 0ZM183 173.4a0.9 0.9 0 1 0 1.8 0a0.9 0.9 0 1 0 -1.8 0ZM18.3 18.9a0.8 0.8 0 1 0 1.6 0a0.8 0.8 0 1 0 -1.6 0ZM84.9 27.8a1.3 1.3 0 1 0 2.6 0a1.3 1.3 0 1 0 -2.6 0ZM124.9 25.1a1.1 1.1 0 1 0 2.2 0a1.1 1.1 0 1 0 -2.2 0ZM61.9 95a0.9 0.9 0 1 0 1.9 0a0.9 0.9 0 1 0 -1.9 0ZM31.7 36a1 1 0 1 0 2.1 0a1 1 0 1 0 -2.1 0ZM135.6 105.7a0.8 0.8 0 1 0 1.7 0a0.8 0.8 0 1 0 -1.7 0ZM135.4 167.4a1.3 1.3 0 1 0 2.5 0a1.3 1.3 0 1 0 -2.5 0ZM150.8 2.5a1.1 1.1 0 1 0 2.2 0a1.1 1.1 0 1 0 -2.2 0ZM12.2 146.5a0.9 0.9 0 1 0 1.8 0a0.9 0.9 0 1 0 -1.8 0ZM135.5 49.2a1.2 1.2 0 1 0 2.4 0a1.2 1.2 0 1 0 -2.4 0ZM59.8 9a1 1 0 1 0 2.1 0a1 1 0 1 0 -2.1 0ZM59.1 172.5a1 1 0 1 0 2 0a1 1 0 1 0 -2 0ZM95.6 105.6a1.4 1.4 0 1 0 2.7 0a1.4 1.4 0 1 0 -2.7 0ZM18.7 115.5a1.1 1.1 0 1 0 2.2 0a1.1 1.1 0 1 0 -2.2 0ZM140.2 185.1a1 1 0 1 0 2 0a1 1 0 1 0 -2 0ZM133.3 101.1a1.1 1.1 0 1 0 2.3 0a1.1 1.1 0 1 0 -2.3 0ZM11.8 156.1a1.4 1.4 0 1 0 2.8 0a1.4 1.4 0 1 0 -2.8 0ZM67.4 61.6a1.4 1.4 0 1 0 2.8 0a1.4 1.4 0 1 0 -2.8 0ZM20.7 15.5a0.8 0.8 0 1 0 1.7 0a0.8 0.8 0 1 0 -1.7 0ZM155.3 145.7a1.1 1.1 0 1 0 2.1 0a1.1 1.1 0 1 0 -2.1 0ZM118.4 4.8a1.2 1.2 0 1 0 2.4 0a1.2 1.2 0 1 0 -2.4 0ZM84.4 99.5a1 1 0 1 0 2.1 0a1 1 0 1 0 -2.1 0ZM76.8 43.9a0.8 0.8 0 1 0 1.7 0a0.8 0.8 0 1 0 -1.7 0ZM82.6 48a1.2 1.2 0 1 0 2.4 0a1.2 1.2 0 1 0 -2.4 0ZM155.9 138.8a1.1 1.1 0 1 0 2.1 0a1.1 1.1 0 1 0 -2.1 0ZM45 74.4a1.1 1.1 0 1 0 2.2 0a1.1 1.1 0 1 0 -2.2 0ZM120.7 184.4a0.9 0.9 0 1 0 1.7 0a0.9 0.9 0 1 0 -1.7 0ZM91.3 94.7a1.2 1.2 0 1 0 2.5 0a1.2 1.2 0 1 0 -2.5 0ZM169.7 149.4a1.2 1.2 0 1 0 2.4 0a1.2 1.2 0 1 0 -2.4 0ZM144.4 128.2a1.3 1.3 0 1 0 2.6 0a1.3 1.3 0 1 0 -2.6 0ZM133.4 131a0.9 0.9 0 1 0 1.9 0a0.9 0.9 0 1 0 -1.9 0ZM174.7 74.5a1.2 1.2 0 1 0 2.3 0a1.2 1.2 0 1 0 -2.3 0ZM157 184.5a1.4 1.4 0 1 0 2.8 0a1.4 1.4 0 1 0 -2.8 0ZM1.2 60.5a1 1 0 1 0 2 0a1 1 0 1 0 -2 0ZM74.5 28.7a1.1 1.1 0 1 0 2.3 0a1.1 1.1 0 1 0 -2.3 0ZM14.8 58.6a1.4 1.4 0 1 0 2.7 0a1.4 1.4 0 1 0 -2.7 0ZM141.8 89a0.9 0.9 0 1 0 1.7 0a0.9 0.9 0 1 0 -1.7 0ZM182.5 135a0.9 0.9 0 1 0 1.8 0a0.9 0.9 0 1 0 -1.8 0ZM63.8 123.2a1.2 1.2 0 1 0 2.4 0a1.2 1.2 0 1 0 -2.4 0ZM49.8 182.1a1 1 0 1 0 2 0a1 1 0 1 0 -2 0ZM48.6 162a0.9 0.9 0 1 0 1.8 0a0.9 0.9 0 1 0 -1.8 0ZM129.8 39.1a1.2 1.2 0 1 0 2.3 0a1.2 1.2 0 1 0 -2.3 0ZM52.6 73.2a1.4 1.4 0 1 0 2.7 0a1.4 1.4 0 1 0 -2.7 0ZM88.9 84.2a1.2 1.2 0 1 0 2.3 0a1.2 1.2 0 1 0 -2.3 0ZM53.5 34.2a1 1 0 1 0 2.1 0a1 1 0 1 0 -2.1 0ZM51.6 36.9a1.4 1.4 0 1 0 2.8 0a1.4 1.4 0 1 0 -2.8 0ZM6.2 155.3a1.4 1.4 0 1 0 2.7 0a1.4 1.4 0 1 0 -2.7 0ZM134.3 4.6a1.1 1.1 0 1 0 2.2 0a1.1 1.1 0 1 0 -2.2 0ZM7.3 116.7a1.2 1.2 0 1 0 2.4 0a1.2 1.2 0 1 0 -2.4 0ZM45.7 2.4a1.1 1.1 0 1 0 2.3 0a1.1 1.1 0 1 0 -2.3 0ZM18 59.8a1.1 1.1 0 1 0 2.1 0a1.1 1.1 0 1 0 -2.1 0ZM170.8 71.5a0.9 0.9 0 1 0 1.8 0a0.9 0.9 0 1 0 -1.8 0ZM150.9 157.6a1.1 1.1 0 1 0 2.2 0a1.1 1.1 0 1 0 -2.2 0ZM9.3 36.7a1 1 0 1 0 2.1 0a1 1 0 1 0 -2.1 0ZM105 43.9a1.3 1.3 0 1 0 2.6 0a1.3 1.3 0 1 0 -2.6 0ZM160.6 177.2a1.3 1.3 0 1 0 2.7 0a1.3 1.3 0 1 0 -2.7 0ZM3.5 111.8a0.8 0.8 0 1 0 1.7 0a0.8 0.8 0 1 0 -1.7 0ZM171.4 143.2a1.3 1.3 0 1 0 2.5 0a1.3 1.3 0 1 0 -2.5 0ZM35.6 12.4a1.3 1.3 0 1 0 2.6 0a1.3 1.3 0 1 0 -2.6 0ZM115.6 119.1a1.1 1.1 0 1 0 2.2 0a1.1 1.1 0 1 0 -2.2 0ZM152.7 65.4a1 1 0 1 0 1.9 0a1 1 0 1 0 -1.9 0ZM67.2 57.7a1.2 1.2 0 1 0 2.4 0a1.2 1.2 0 1 0 -2.4 0ZM170 14.5a0.8 0.8 0 1 0 1.7 0a0.8 0.8 0 1 0 -1.7 0ZM97.7 130.1a0.9 0.9 0 1 0 1.8 0a0.9 0.9 0 1 0 -1.8 0ZM51.7 12.2a0.8 0.8 0 1 0 1.6 0a0.8 0.8 0 1 0 -1.6 0ZM94.3 130.6a1.2 1.2 0 1 0 2.4 0a1.2 1.2 0 1 0 -2.4 0ZM29.8 20.8a1.4 1.4 0 1 0 2.7 0a1.4 1.4 0 1 0 -2.7 0ZM102.5 78.8a1.2 1.2 0 1 0 2.4 0a1.2 1.2 0 1 0 -2.4 0ZM139 100.9a0.8 0.8 0 1 0 1.7 0a0.8 0.8 0 1 0 -1.7 0ZM158 41.7a0.8 0.8 0 1 0 1.6 0a0.8 0.8 0 1 0 -1.6 0ZM67 102.4a1.2 1.2 0 1 0 2.4 0a1.2 1.2 0 1 0 -2.4 0ZM33.1 136.1a1.1 1.1 0 1 0 2.2 0a1.1 1.1 0 1 0 -2.2 0ZM30.6 163a1.3 1.3 0 1 0 2.6 0a1.3 1.3 0 1 0 -2.6 0ZM173 130.4a0.9 0.9 0 1 0 1.9 0a0.9 0.9 0 1 0 -1.9 0ZM148.3 172.9a1.1 1.1 0 1 0 2.2 0a1.1 1.1 0 1 0 -2.2 0ZM173.3 185.7a1 1 0 1 0 2.1 0a1 1 0 1 0 -2.1 0ZM179.4 179.4a1.3 1.3 0 1 0 2.6 0a1.3 1.3 0 1 0 -2.6 0ZM2 68a1.2 1.2 0 1 0 2.3 0a1.2 1.2 0 1 0 -2.3 0ZM115.7 144.9a1.2 1.2 0 1 0 2.4 0a1.2 1.2 0 1 0 -2.4 0ZM30.7 178.2a1.1 1.1 0 1 0 2.2 0a1.1 1.1 0 1 0 -2.2 0ZM167.8 40.4a1.4 1.4 0 1 0 2.8 0a1.4 1.4 0 1 0 -2.8 0ZM105.6 148.7a1.2 1.2 0 1 0 2.5 0a1.2 1.2 0 1 0 -2.5 0ZM168.6 70a0.8 0.8 0 1 0 1.7 0a0.8 0.8 0 1 0 -1.7 0ZM77.3 34.9a1.1 1.1 0 1 0 2.2 0a1.1 1.1 0 1 0 -2.2 0ZM155.6 70a0.9 0.9 0 1 0 1.8 0a0.9 0.9 0 1 0 -1.8 0ZM5 81.5a1.1 1.1 0 1 0 2.3 0a1.1 1.1 0 1 0 -2.3 0ZM5.1 127.7a0.9 0.9 0 1 0 1.9 0a0.9 0.9 0 1 0 -1.9 0ZM20.3 177.6a1.1 1.1 0 1 0 2.2 0a1.1 1.1 0 1 0 -2.2 0ZM170.9 98.9a0.9 0.9 0 1 0 1.7 0a0.9 0.9 0 1 0 -1.7 0ZM45.6 81.8a1.2 1.2 0 1 0 2.4 0a1.2 1.2 0 1 0 -2.4 0ZM146.9 144.1a1.2 1.2 0 1 0 2.4 0a1.2 1.2 0 1 0 -2.4 0ZM48.2 82.9a1 1 0 1 0 2.1 0a1 1 0 1 0 -2.1 0ZM93.3 51.5a1.1 1.1 0 1 0 2.2 0a1.1 1.1 0 1 0 -2.2 0ZM87.2 7.8a1.3 1.3 0 1 0 2.6 0a1.3 1.3 0 1 0 -2.6 0ZM111.7 153.8a1.2 1.2 0 1 0 2.5 0a1.2 1.2 0 1 0 -2.5 0ZM139.4 190.2a1 1 0 1 0 2.1 0a1 1 0 1 0 -2.1 0ZM74.9 1.7a1.2 1.2 0 1 0 2.4 0a1.2 1.2 0 1 0 -2.4 0ZM110.5 110.8a1.4 1.4 0 1 0 2.8 0a1.4 1.4 0 1 0 -2.8 0ZM37.3 44.3a1.2 1.2 0 1 0 2.5 0a1.2 1.2 0 1 0 -2.5 0ZM155.2 92.9a0.8 0.8 0 1 0 1.7 0a0.8 0.8 0 1 0 -1.7 0ZM70.6 158.3a1.1 1.1 0 1 0 2.2 0a1.1 1.1 0 1 0 -2.2 0ZM87.9 75.2a1.2 1.2 0 1 0 2.4 0a1.2 1.2 0 1 0 -2.4 0Z"/>
</g>
<path d="M183 27.7a0.8 0.8 0 1 0 1.6 0a0.8 0.8 0 1 0 -1.6 0ZM190.7 36.1a0.9 0.9 0 1 0 1.7 0a0.9 0.9 0 1 0 -1.7 0ZM124 66.8a1.3 1.3 0 1 0 2.7 0a1.3 1.3 0 1 0 -2.7 0ZM44.2 183.7a1 1 0 1 0 2 0a1 1 0 1 0 -2 0ZM114.5 178.5a1.2 1.2 0 1 0 2.4 0a1.2 1.2 0 1 0 -2.4 0ZM176.4 135.8a0.8 0.8 0 1 0 1.7 0a0.8 0.8 0 1 0 -1.7 0ZM168.2 113.3a1 1 0 1 0 2 0a1 1 0 1 0 -2 0ZM36.1 162.8a1.1 1.1 0 1 0 2.3 0a1.1 1.1 0 1 0 -2.3 0ZM178.6 148.4a1.4 1.4 0 1 0 2.8 0a1.4 1.4 0 1 0 -2.8 0ZM107.9 134a1.2 1.2 0 1 0 2.3 0a1.2 1.2 0 1 0 -2.3 0ZM49.3 183.2a1 1 0 1 0 2 0a1 1 0 1 0 -2 0ZM148.8 182.8a1.2 1.2 0 1 0 2.4 0a1.2 1.2 0 1 0 -2.4 0Z" fill="#e0453f" filter="url(#fblur)"/>
</g>
<rect x="564.9" y="869.8" width="19.9" height="6.8" fill="#fff"/>
<clipPath id="fc02"><rect x="0" y="0" width="192.3" height="192.4"/></clipPath>
<g transform="translate(597.9 692.5)" clip-path="url(#fc02)">
<rect x="0" y="0" width="192.3" height="192.4" fill="#000"/>
<g filter="url(#fblur)" fill="#62df62">
<path d="M2.3 22.4a1.1 1.1 0 1 0 2.1 0a1.1 1.1 0 1 0 -2.1 0ZM130.3 27.4a0.9 0.9 0 1 0 1.8 0a0.9 0.9 0 1 0 -1.8 0ZM44.2 145.2a0.9 0.9 0 1 0 1.8 0a0.9 0.9 0 1 0 -1.8 0ZM141.1 127.1a0.9 0.9 0 1 0 1.8 0a0.9 0.9 0 1 0 -1.8 0ZM101.8 86.3a1.1 1.1 0 1 0 2.2 0a1.1 1.1 0 1 0 -2.2 0ZM189.8 18.7a0.8 0.8 0 1 0 1.6 0a0.8 0.8 0 1 0 -1.6 0ZM178.9 77.7a0.9 0.9 0 1 0 1.9 0a0.9 0.9 0 1 0 -1.9 0ZM62.4 70.5a1.5 1.5 0 1 0 2.9 0a1.5 1.5 0 1 0 -2.9 0ZM39.8 42.3a1.2 1.2 0 1 0 2.4 0a1.2 1.2 0 1 0 -2.4 0ZM103.8 182.6a1.4 1.4 0 1 0 2.8 0a1.4 1.4 0 1 0 -2.8 0ZM67.3 39.8a1.4 1.4 0 1 0 2.8 0a1.4 1.4 0 1 0 -2.8 0ZM187.9 6.8a1.3 1.3 0 1 0 2.6 0a1.3 1.3 0 1 0 -2.6 0ZM165.3 125a1 1 0 1 0 1.9 0a1 1 0 1 0 -1.9 0ZM151.7 140a0.9 0.9 0 1 0 1.9 0a0.9 0.9 0 1 0 -1.9 0ZM122.1 42.7a0.8 0.8 0 1 0 1.7 0a0.8 0.8 0 1 0 -1.7 0ZM63.9 64.7a1.1 1.1 0 1 0 2.2 0a1.1 1.1 0 1 0 -2.2 0ZM122.6 160.2a1.5 1.5 0 1 0 2.9 0a1.5 1.5 0 1 0 -2.9 0ZM185.5 190.2a1.4 1.4 0 1 0 2.7 0a1.4 1.4 0 1 0 -2.7 0ZM58.1 34.6a1.2 1.2 0 1 0 2.5 0a1.2 1.2 0 1 0 -2.5 0ZM104 129.4a0.9 0.9 0 1 0 1.7 0a0.9 0.9 0 1 0 -1.7 0ZM36.5 176.4a1.2 1.2 0 1 0 2.4 0a1.2 1.2 0 1 0 -2.4 0ZM132.2 19.2a1.1 1.1 0 1 0 2.2 0a1.1 1.1 0 1 0 -2.2 0ZM172.7 124.6a1.5 1.5 0 1 0 3 0a1.5 1.5 0 1 0 -3 0ZM37.1 87.6a1.4 1.4 0 1 0 2.7 0a1.4 1.4 0 1 0 -2.7 0ZM84.4 151.2a1.2 1.2 0 1 0 2.4 0a1.2 1.2 0 1 0 -2.4 0ZM22 19.8a1.5 1.5 0 1 0 3 0a1.5 1.5 0 1 0 -3 0ZM22.7 38a1 1 0 1 0 2.1 0a1 1 0 1 0 -2.1 0ZM135.6 163.6a1.1 1.1 0 1 0 2.3 0a1.1 1.1 0 1 0 -2.3 0ZM94.8 151.1a1 1 0 1 0 2 0a1 1 0 1 0 -2 0ZM70.6 117.7a1.2 1.2 0 1 0 2.5 0a1.2 1.2 0 1 0 -2.5 0ZM7.3 22.3a0.9 0.9 0 1 0 1.8 0a0.9 0.9 0 1 0 -1.8 0ZM137.5 132.9a1.5 1.5 0 1 0 3 0a1.5 1.5 0 1 0 -3 0ZM145.7 49.5a1.3 1.3 0 1 0 2.7 0a1.3 1.3 0 1 0 -2.7 0ZM187.6 67.4a0.8 0.8 0 1 0 1.6 0a0.8 0.8 0 1 0 -1.6 0ZM71.5 54.8a0.9 0.9 0 1 0 1.8 0a0.9 0.9 0 1 0 -1.8 0ZM8.2 24.8a1.4 1.4 0 1 0 2.8 0a1.4 1.4 0 1 0 -2.8 0ZM9.6 117.9a0.9 0.9 0 1 0 1.9 0a0.9 0.9 0 1 0 -1.9 0ZM36.8 157.3a1 1 0 1 0 2 0a1 1 0 1 0 -2 0ZM34.7 87.6a1.3 1.3 0 1 0 2.6 0a1.3 1.3 0 1 0 -2.6 0ZM99.7 164.7a1.1 1.1 0 1 0 2.2 0a1.1 1.1 0 1 0 -2.2 0ZM99.6 137.5a1.1 1.1 0 1 0 2.2 0a1.1 1.1 0 1 0 -2.2 0ZM136.6 89.9a0.9 0.9 0 1 0 1.8 0a0.9 0.9 0 1 0 -1.8 0ZM23.2 150.1a1.3 1.3 0 1 0 2.6 0a1.3 1.3 0 1 0 -2.6 0ZM179.2 132.4a1.2 1.2 0 1 0 2.4 0a1.2 1.2 0 1 0 -2.4 0ZM31.7 163.4a0.9 0.9 0 1 0 1.8 0a0.9 0.9 0 1 0 -1.8 0ZM80.8 27.8a1.1 1.1 0 1 0 2.1 0a1.1 1.1 0 1 0 -2.1 0ZM58.2 82a1.3 1.3 0 1 0 2.6 0a1.3 1.3 0 1 0 -2.6 0ZM102.7 47.2a1.3 1.3 0 1 0 2.7 0a1.3 1.3 0 1 0 -2.7 0ZM140.1 158.5a0.8 0.8 0 1 0 1.6 0a0.8 0.8 0 1 0 -1.6 0ZM117 171.5a1 1 0 1 0 2 0a1 1 0 1 0 -2 0ZM38.4 156a1.1 1.1 0 1 0 2.1 0a1.1 1.1 0 1 0 -2.1 0ZM76.3 156.7a1.1 1.1 0 1 0 2.1 0a1.1 1.1 0 1 0 -2.1 0ZM37.7 41.8a1 1 0 1 0 2.1 0a1 1 0 1 0 -2.1 0ZM132.5 71.1a1.3 1.3 0 1 0 2.7 0a1.3 1.3 0 1 0 -2.7 0ZM12.3 48.4a1.2 1.2 0 1 0 2.5 0a1.2 1.2 0 1 0 -2.5 0ZM90.8 96.2a1.5 1.5 0 1 0 2.9 0a1.5 1.5 0 1 0 -2.9 0ZM53 35.6a0.8 0.8 0 1 0 1.6 0a0.8 0.8 0 1 0 -1.6 0ZM91.7 57.6a1.1 1.1 0 1 0 2.3 0a1.1 1.1 0 1 0 -2.3 0ZM1 1a1.1 1.1 0 1 0 2.1 0a1.1 1.1 0 1 0 -2.1 0ZM143.7 58.2a1.4 1.4 0 1 0 2.9 0a1.4 1.4 0 1 0 -2.9 0ZM109.9 77.8a1.3 1.3 0 1 0 2.7 0a1.3 1.3 0 1 0 -2.7 0ZM44 116.2a1.4 1.4 0 1 0 2.8 0a1.4 1.4 0 1 0 -2.8 0ZM103.1 61.9a0.9 0.9 0 1 0 1.7 0a0.9 0.9 0 1 0 -1.7 0ZM109.2 36.7a1.1 1.1 0 1 0 2.1 0a1.1 1.1 0 1 0 -2.1 0ZM103 180.2a1.3 1.3 0 1 0 2.5 0a1.3 1.3 0 1 0 -2.5 0ZM98.8 164.4a1 1 0 1 0 2 0a1 1 0 1 0 -2 0ZM73.6 129.9a1.2 1.2 0 1 0 2.4 0a1.2 1.2 0 1 0 -2.4 0ZM41.8 79.2a1.4 1.4 0 1 0 2.8 0a1.4 1.4 0 1 0 -2.8 0ZM46.3 135.4a0.8 0.8 0 1 0 1.7 0a0.8 0.8 0 1 0 -1.7 0ZM181.6 131.2a1 1 0 1 0 2.1 0a1 1 0 1 0 -2.1 0ZM187.3 152.7a0.8 0.8 0 1 0 1.7 0a0.8 0.8 0 1 0 -1.7 0ZM46.8 94.6a1.5 1.5 0 1 0 3 0a1.5 1.5 0 1 0 -3 0ZM26.8 10.1a1 1 0 1 0 2 0a1 1 0 1 0 -2 0ZM8.3 78.9a1.2 1.2 0 1 0 2.4 0a1.2 1.2 0 1 0 -2.4 0ZM84 27.9a0.8 0.8 0 1 0 1.6 0a0.8 0.8 0 1 0 -1.6 0ZM152.6 84.8a1.1 1.1 0 1 0 2.3 0a1.1 1.1 0 1 0 -2.3 0ZM90.5 131.5a1.4 1.4 0 1 0 2.9 0a1.4 1.4 0 1 0 -2.9 0ZM157.4 139.5a1 1 0 1 0 2.1 0a1 1 0 1 0 -2.1 0ZM31.7 18.1a1.4 1.4 0 1 0 2.8 0a1.4 1.4 0 1 0 -2.8 0ZM10.4 109.4a1.4 1.4 0 1 0 2.9 0a1.4 1.4 0 1 0 -2.9 0ZM61.2 75.1a1.1 1.1 0 1 0 2.2 0a1.1 1.1 0 1 0 -2.2 0ZM179.3 131.3a1.4 1.4 0 1 0 2.8 0a1.4 1.4 0 1 0 -2.8 0ZM7.3 140.1a1.1 1.1 0 1 0 2.2 0a1.1 1.1 0 1 0 -2.2 0ZM76.1 156.5a1.3 1.3 0 1 0 2.6 0a1.3 1.3 0 1 0 -2.6 0ZM172.8 141.6a1.4 1.4 0 1 0 2.9 0a1.4 1.4 0 1 0 -2.9 0ZM81.1 106.9a1.3 1.3 0 1 0 2.7 0a1.3 1.3 0 1 0 -2.7 0ZM86.1 27.1a1.2 1.2 0 1 0 2.4 0a1.2 1.2 0 1 0 -2.4 0ZM165.9 166.8a0.9 0.9 0 1 0 1.8 0a0.9 0.9 0 1 0 -1.8 0ZM72.5 44.5a1 1 0 1 0 2.1 0a1 1 0 1 0 -2.1 0ZM182.6 81.2a1 1 0 1 0 2 0a1 1 0 1 0 -2 0ZM51.6 84.8a1.3 1.3 0 1 0 2.5 0a1.3 1.3 0 1 0 -2.5 0ZM65.2 36.5a1 1 0 1 0 1.9 0a1 1 0 1 0 -1.9 0ZM49.5 173.5a0.9 0.9 0 1 0 1.8 0a0.9 0.9 0 1 0 -1.8 0ZM143.1 21.6a1.4 1.4 0 1 0 2.7 0a1.4 1.4 0 1 0 -2.7 0ZM50.5 149.4a1.1 1.1 0 1 0 2.2 0a1.1 1.1 0 1 0 -2.2 0ZM14.5 19a1.4 1.4 0 1 0 2.7 0a1.4 1.4 0 1 0 -2.7 0ZM103.1 93.5a1 1 0 1 0 2.1 0a1 1 0 1 0 -2.1 0ZM131.7 92.8a0.8 0.8 0 1 0 1.7 0a0.8 0.8 0 1 0 -1.7 0ZM114 60.7a1.4 1.4 0 1 0 2.8 0a1.4 1.4 0 1 0 -2.8 0ZM104.6 148.3a0.9 0.9 0 1 0 1.8 0a0.9 0.9 0 1 0 -1.8 0ZM134.2 117.2a1.4 1.4 0 1 0 2.8 0a1.4 1.4 0 1 0 -2.8 0ZM168 106a1.2 1.2 0 1 0 2.4 0a1.2 1.2 0 1 0 -2.4 0ZM145.8 51.2a1.2 1.2 0 1 0 2.4 0a1.2 1.2 0 1 0 -2.4 0ZM149.6 114.2a1.2 1.2 0 1 0 2.4 0a1.2 1.2 0 1 0 -2.4 0ZM162.9 186.7a1 1 0 1 0 2 0a1 1 0 1 0 -2 0ZM14.3 117.8a0.9 0.9 0 1 0 1.8 0a0.9 0.9 0 1 0 -1.8 0ZM184.3 91.4a1.2 1.2 0 1 0 2.3 0a1.2 1.2 0 1 0 -2.3 0ZM155.6 166.6a0.9 0.9 0 1 0 1.8 0a0.9 0.9 0 1 0 -1.8 0ZM86.2 35.4a1.1 1.1 0 1 0 2.2 0a1.1 1.1 0 1 0 -2.2 0ZM25.3 168a1 1 0 1 0 2.1 0a1 1 0 1 0 -2.1 0ZM73.7 171.9a1.4 1.4 0 1 0 2.8 0a1.4 1.4 0 1 0 -2.8 0ZM63.7 96.2a1.3 1.3 0 1 0 2.5 0a1.3 1.3 0 1 0 -2.5 0ZM35.3 26.9a1.4 1.4 0 1 0 2.8 0a1.4 1.4 0 1 0 -2.8 0ZM30.5 135.8a1.3 1.3 0 1 0 2.6 0a1.3 1.3 0 1 0 -2.6 0ZM112.2 66.8a1.4 1.4 0 1 0 2.8 0a1.4 1.4 0 1 0 -2.8 0ZM149.2 14.5a1.4 1.4 0 1 0 2.9 0a1.4 1.4 0 1 0 -2.9 0ZM121.2 56.1a0.9 0.9 0 1 0 1.8 0a0.9 0.9 0 1 0 -1.8 0ZM18.3 155.5a1.4 1.4 0 1 0 2.8 0a1.4 1.4 0 1 0 -2.8 0ZM66.3 35.3a0.9 0.9 0 1 0 1.7 0a0.9 0.9 0 1 0 -1.7 0ZM78.9 57.7a0.8 0.8 0 1 0 1.7 0a0.8 0.8 0 1 0 -1.7 0ZM56.8 157.4a0.8 0.8 0 1 0 1.7 0a0.8 0.8 0 1 0 -1.7 0ZM77 98.9a0.9 0.9 0 1 0 1.8 0a0.9 0.9 0 1 0 -1.8 0ZM7 15.1a0.9 0.9 0 1 0 1.8 0a0.9 0.9 0 1 0 -1.8 0ZM185.1 165.1a1.3 1.3 0 1 0 2.6 0a1.3 1.3 0 1 0 -2.6 0ZM171.2 63a1 1 0 1 0 1.9 0a1 1 0 1 0 -1.9 0ZM165.1 116.4a1.4 1.4 0 1 0 2.9 0a1.4 1.4 0 1 0 -2.9 0ZM68 79.6a1.3 1.3 0 1 0 2.6 0a1.3 1.3 0 1 0 -2.6 0ZM167.9 32.5a1 1 0 1 0 2 0a1 1 0 1 0 -2 0ZM2.2 107.5a1.4 1.4 0 1 0 2.9 0a1.4 1.4 0 1 0 -2.9 0ZM107.8 29.3a1.3 1.3 0 1 0 2.6 0a1.3 1.3 0 1 0 -2.6 0ZM123.2 21a1.4 1.4 0 1 0 2.9 0a1.4 1.4 0 1 0 -2.9 0ZM125.5 94.4a1 1 0 1 0 2.1 0a1 1 0 1 0 -2.1 0ZM30.5 90.1a1.1 1.1 0 1 0 2.1 0a1.1 1.1 0 1 0 -2.1 0ZM44.1 124.1a1.3 1.3 0 1 0 2.5 0a1.3 1.3 0 1 0 -2.5 0ZM181.5 185.4a1.1 1.1 0 1 0 2.3 0a1.1 1.1 0 1 0 -2.3 0ZM136.2 72.4a1.1 1.1 0 1 0 2.2 0a1.1 1.1 0 1 0 -2.2 0ZM108.1 187.8a0.8 0.8 0 1 0 1.7 0a0.8 0.8 0 1 0 -1.7 0ZM87.7 65.1a1.4 1.4 0 1 0 2.7 0a1.4 1.4 0 1 0 -2.7 0ZM181 90.9a0.9 0.9 0 1 0 1.7 0a0.9 0.9 0 1 0 -1.7 0ZM112.8 112.9a1.3 1.3 0 1 0 2.6 0a1.3 1.3 0 1 0 -2.6 0ZM147.6 89.2a1.2 1.2 0 1 0 2.4 0a1.2 1.2 0 1 0 -2.4 0ZM146.1 6.2a1 1 0 1 0 1.9 0a1 1 0 1 0 -1.9 0ZM130.4 187.1a1.5 1.5 0 1 0 2.9 0a1.5 1.5 0 1 0 -2.9 0ZM53.6 186.1a1 1 0 1 0 2 0a1 1 0 1 0 -2 0ZM85.9 31.2a1.2 1.2 0 1 0 2.4 0a1.2 1.2 0 1 0 -2.4 0ZM74.1 131.4a1.5 1.5 0 1 0 2.9 0a1.5 1.5 0 1 0 -2.9 0ZM24.1 126.2a1.2 1.2 0 1 0 2.4 0a1.2 1.2 0 1 0 -2.4 0ZM51.7 7.7a1.5 1.5 0 1 0 2.9 0a1.5 1.5 0 1 0 -2.9 0ZM132.4 120a0.9 0.9 0 1 0 1.7 0a0.9 0.9 0 1 0 -1.7 0ZM171.1 77a1.1 1.1 0 1 0 2.3 0a1.1 1.1 0 1 0 -2.3 0ZM105.4 85.9a1.5 1.5 0 1 0 2.9 0a1.5 1.5 0 1 0 -2.9 0ZM88.6 130a1.3 1.3 0 1 0 2.7 0a1.3 1.3 0 1 0 -2.7 0ZM177.5 33.4a1 1 0 1 0 2.1 0a1 1 0 1 0 -2.1 0ZM180.7 116.4a1.1 1.1 0 1 0 2.1 0a1.1 1.1 0 1 0 -2.1 0ZM167.8 23.6a1 1 0 1 0 2 0a1 1 0 1 0 -2 0ZM13 128.7a1.1 1.1 0 1 0 2.3 0a1.1 1.1 0 1 0 -2.3 0ZM58 84.7a1 1 0 1 0 2 0a1 1 0 1 0 -2 0ZM134.9 145.6a1.1 1.1 0 1 0 2.1 0a1.1 1.1 0 1 0 -2.1 0ZM165.1 9.5a1.2 1.2 0 1 0 2.4 0a1.2 1.2 0 1 0 -2.4 0ZM29 23.4a1.2 1.2 0 1 0 2.4 0a1.2 1.2 0 1 0 -2.4 0ZM16.7 15.1a0.9 0.9 0 1 0 1.8 0a0.9 0.9 0 1 0 -1.8 0ZM71.6 159.1a1 1 0 1 0 2 0a1 1 0 1 0 -2 0ZM22.9 147.2a1.4 1.4 0 1 0 2.7 0a1.4 1.4 0 1 0 -2.7 0ZM189.6 10.4a0.9 0.9 0 1 0 1.8 0a0.9 0.9 0 1 0 -1.8 0ZM82.3 189.8a1.2 1.2 0 1 0 2.4 0a1.2 1.2 0 1 0 -2.4 0Z"/>
</g>
<path d="M14.9 41.7a0.8 0.8 0 1 0 1.6 0a0.8 0.8 0 1 0 -1.6 0ZM171.4 95.5a0.9 0.9 0 1 0 1.8 0a0.9 0.9 0 1 0 -1.8 0ZM19.1 97.9a1 1 0 1 0 1.9 0a1 1 0 1 0 -1.9 0ZM99.5 180.9a1 1 0 1 0 1.9 0a1 1 0 1 0 -1.9 0ZM70.7 1.1a0.9 0.9 0 1 0 1.9 0a0.9 0.9 0 1 0 -1.9 0ZM24.1 2.8a0.9 0.9 0 1 0 1.8 0a0.9 0.9 0 1 0 -1.8 0ZM160.4 160.3a1 1 0 1 0 2 0a1 1 0 1 0 -2 0ZM38.6 16.5a0.7 0.7 0 1 0 1.5 0a0.7 0.7 0 1 0 -1.5 0Z" fill="#e0453f" filter="url(#fblur)"/>
</g>
<rect x="761.7" y="869.8" width="19.7" height="6.8" fill="#fff"/>
<clipPath id="fc10"><rect x="0" y="0" width="193" height="192.7"/></clipPath>
<g transform="translate(203.9 888.7)" clip-path="url(#fc10)">
<rect x="0" y="0" width="193" height="192.7" fill="#000"/>
<rect x="0" y="0" width="193.0" height="192.7" fill="url(#glow1)"/>
<g filter="url(#fblur)" fill="#3fe03f">
<path d="M71.9 44.5a1.6 1.6 0 1 0 3.3 0a1.6 1.6 0 1 0 -3.3 0ZM83.3 29.9a1.5 1.5 0 1 0 3 0a1.5 1.5 0 1 0 -3 0ZM9.9 151.1a1.6 1.6 0 1 0 3.2 0a1.6 1.6 0 1 0 -3.2 0ZM22.2 176a1.7 1.7 0 1 0 3.4 0a1.7 1.7 0 1 0 -3.4 0ZM161.9 58.1a1.5 1.5 0 1 0 2.9 0a1.5 1.5 0 1 0 -2.9 0ZM77.3 127.8a1.3 1.3 0 1 0 2.6 0a1.3 1.3 0 1 0 -2.6 0ZM2.7 26a1.5 1.5 0 1 0 3 0a1.5 1.5 0 1 0 -3 0ZM168.8 126.2a1.1 1.1 0 1 0 2.2 0a1.1 1.1 0 1 0 -2.2 0ZM167.3 144.8a1.5 1.5 0 1 0 2.9 0a1.5 1.5 0 1 0 -2.9 0ZM23.1 171.3a1.5 1.5 0 1 0 3 0a1.5 1.5 0 1 0 -3 0ZM184.1 46.6a1.5 1.5 0 1 0 3 0a1.5 1.5 0 1 0 -3 0ZM129.6 79.1a1.7 1.7 0 1 0 3.4 0a1.7 1.7 0 1 0 -3.4 0ZM51.8 172.9a1.6 1.6 0 1 0 3.3 0a1.6 1.6 0 1 0 -3.3 0ZM140.3 41.3a1 1 0 1 0 2 0a1 1 0 1 0 -2 0ZM33.7 128.4a1.2 1.2 0 1 0 2.3 0a1.2 1.2 0 1 0 -2.3 0ZM108.3 29.9a1.2 1.2 0 1 0 2.3 0a1.2 1.2 0 1 0 -2.3 0ZM180.3 123a1.5 1.5 0 1 0 2.9 0a1.5 1.5 0 1 0 -2.9 0ZM173.3 59.3a1.6 1.6 0 1 0 3.2 0a1.6 1.6 0 1 0 -3.2 0ZM52.4 113.2a1.6 1.6 0 1 0 3.1 0a1.6 1.6 0 1 0 -3.1 0ZM132.1 46.1a1.4 1.4 0 1 0 2.8 0a1.4 1.4 0 1 0 -2.8 0ZM43.9 35.2a1.1 1.1 0 1 0 2.1 0a1.1 1.1 0 1 0 -2.1 0ZM36.5 154.7a1.3 1.3 0 1 0 2.5 0a1.3 1.3 0 1 0 -2.5 0ZM31.6 167.2a1.6 1.6 0 1 0 3.2 0a1.6 1.6 0 1 0 -3.2 0ZM139 74.3a1.4 1.4 0 1 0 2.7 0a1.4 1.4 0 1 0 -2.7 0ZM108.5 138.9a1.1 1.1 0 1 0 2.3 0a1.1 1.1 0 1 0 -2.3 0ZM18.9 74.9a1.6 1.6 0 1 0 3.2 0a1.6 1.6 0 1 0 -3.2 0ZM191.7 129a1.3 1.3 0 1 0 2.5 0a1.3 1.3 0 1 0 -2.5 0ZM66.6 166.5a1.1 1.1 0 1 0 2.2 0a1.1 1.1 0 1 0 -2.2 0ZM15.6 162.4a1.6 1.6 0 1 0 3.3 0a1.6 1.6 0 1 0 -3.3 0ZM58.8 161.2a1.6 1.6 0 1 0 3.3 0a1.6 1.6 0 1 0 -3.3 0ZM186.3 169.3a1.6 1.6 0 1 0 3.3 0a1.6 1.6 0 1 0 -3.3 0ZM174.9 185.7a1.6 1.6 0 1 0 3.2 0a1.6 1.6 0 1 0 -3.2 0ZM148.8 66.6a1.6 1.6 0 1 0 3.3 0a1.6 1.6 0 1 0 -3.3 0ZM92 48.7a1.4 1.4 0 1 0 2.7 0a1.4 1.4 0 1 0 -2.7 0ZM190.6 58.8a1.4 1.4 0 1 0 2.8 0a1.4 1.4 0 1 0 -2.8 0ZM43.4 179a1.7 1.7 0 1 0 3.3 0a1.7 1.7 0 1 0 -3.3 0ZM85.7 126.2a1.1 1.1 0 1 0 2.3 0a1.1 1.1 0 1 0 -2.3 0ZM55.9 71.2a1.3 1.3 0 1 0 2.6 0a1.3 1.3 0 1 0 -2.6 0ZM139.5 122.2a1.1 1.1 0 1 0 2.1 0a1.1 1.1 0 1 0 -2.1 0ZM185.9 148.3a1.7 1.7 0 1 0 3.3 0a1.7 1.7 0 1 0 -3.3 0ZM50.8 6.6a1.4 1.4 0 1 0 2.9 0a1.4 1.4 0 1 0 -2.9 0ZM165.6 103.6a1.3 1.3 0 1 0 2.7 0a1.3 1.3 0 1 0 -2.7 0ZM171.9 100.2a1.5 1.5 0 1 0 3 0a1.5 1.5 0 1 0 -3 0ZM51 52.1a1.1 1.1 0 1 0 2.1 0a1.1 1.1 0 1 0 -2.1 0ZM14.2 154.6a1.6 1.6 0 1 0 3.1 0a1.6 1.6 0 1 0 -3.1 0ZM152.8 184.1a1.7 1.7 0 1 0 3.4 0a1.7 1.7 0 1 0 -3.4 0ZM27.2 67.7a1.3 1.3 0 1 0 2.7 0a1.3 1.3 0 1 0 -2.7 0ZM149.2 124.8a1.7 1.7 0 1 0 3.4 0a1.7 1.7 0 1 0 -3.4 0ZM69.2 183a1.2 1.2 0 1 0 2.4 0a1.2 1.2 0 1 0 -2.4 0ZM181.6 143.9a1.3 1.3 0 1 0 2.6 0a1.3 1.3 0 1 0 -2.6 0ZM103.6 48.5a1.1 1.1 0 1 0 2.1 0a1.1 1.1 0 1 0 -2.1 0ZM97 80.1a1.3 1.3 0 1 0 2.7 0a1.3 1.3 0 1 0 -2.7 0ZM27.4 18.4a1.2 1.2 0 1 0 2.4 0a1.2 1.2 0 1 0 -2.4 0ZM156.4 177.4a1.2 1.2 0 1 0 2.5 0a1.2 1.2 0 1 0 -2.5 0ZM97.9 173.4a1.5 1.5 0 1 0 3 0a1.5 1.5 0 1 0 -3 0ZM113.6 97a1.1 1.1 0 1 0 2.1 0a1.1 1.1 0 1 0 -2.1 0ZM81.1 78.3a1.7 1.7 0 1 0 3.3 0a1.7 1.7 0 1 0 -3.3 0ZM2.1 85.1a1.3 1.3 0 1 0 2.6 0a1.3 1.3 0 1 0 -2.6 0ZM160 185.7a1.5 1.5 0 1 0 3 0a1.5 1.5 0 1 0 -3 0ZM170.9 55.9a1.3 1.3 0 1 0 2.6 0a1.3 1.3 0 1 0 -2.6 0ZM76.2 11a1.4 1.4 0 1 0 2.8 0a1.4 1.4 0 1 0 -2.8 0ZM127.9 85.6a1.5 1.5 0 1 0 3.1 0a1.5 1.5 0 1 0 -3.1 0ZM16 28.5a1.5 1.5 0 1 0 2.9 0a1.5 1.5 0 1 0 -2.9 0ZM4.9 70.1a1.2 1.2 0 1 0 2.5 0a1.2 1.2 0 1 0 -2.5 0ZM47.3 71.6a1 1 0 1 0 2.1 0a1 1 0 1 0 -2.1 0ZM109 4.7a1.3 1.3 0 1 0 2.6 0a1.3 1.3 0 1 0 -2.6 0ZM155.4 136.1a1 1 0 1 0 2 0a1 1 0 1 0 -2 0ZM135.7 139.5a1.7 1.7 0 1 0 3.4 0a1.7 1.7 0 1 0 -3.4 0ZM93.9 76.3a1.1 1.1 0 1 0 2.1 0a1.1 1.1 0 1 0 -2.1 0ZM116.6 132a1.5 1.5 0 1 0 3 0a1.5 1.5 0 1 0 -3 0ZM28.7 149.2a1.7 1.7 0 1 0 3.4 0a1.7 1.7 0 1 0 -3.4 0ZM5.2 3.2a1.1 1.1 0 1 0 2.1 0a1.1 1.1 0 1 0 -2.1 0ZM182.2 179.3a1.6 1.6 0 1 0 3.2 0a1.6 1.6 0 1 0 -3.2 0ZM65.9 157.7a1.7 1.7 0 1 0 3.3 0a1.7 1.7 0 1 0 -3.3 0ZM85 45.5a1 1 0 1 0 2 0a1 1 0 1 0 -2 0Z"/>
<path d="M120.9 41.7L118.3 41.6L117 39L116 36.5L113.7 34.1L117.5 32.1L121 29.5L123.4 33L124.7 32.8L126.7 37.5L124.2 40.1L124.3 42.4ZM125.7 34.7L126 30.8L129.4 33L130.9 35.5L130.2 37.1L129.3 40.1L127.4 39L124.5 37.3ZM140 31.6L140.3 33.7L140.2 36.1L138.2 36.3L135.6 35.5L136.3 33.5L137.1 32.4L138.3 30.8ZM190 44.7L191.7 46.5L189 46.7L188.5 49.6L184.3 50.9L182.7 47.7L182.3 46.1L183.4 44.4L182.9 42.1L185.2 41.7L186.7 40.6L189.8 40.9ZM185.8 50.2L187.8 49.5L189.8 48.8L190 50.7L189.5 52.8L188.8 53.7L186.7 52.8L185.7 51.9ZM187.9 57L188.1 61.2L189.3 63.9L187.1 65.8L185.3 67.2L183.4 68.8L182.7 66.9L180.7 65.4L180 64.2L180.5 60.8L182.5 58.7L183.9 58.2ZM182.8 75L181.3 76.4L180 76.5L180.1 74.3L180.4 73.1L181.5 72.4L182.7 72.2L184.3 73.4ZM92.4 69.9L88.7 69.9L86.1 72.7L86.4 68.3L85.4 65.8L88.8 65L90.7 65L91.5 67ZM60.6 82.7L60.5 84.6L61.9 87.6L59.3 87.5L57 87L55.2 85.3L55.8 82.2L57.4 82ZM71.7 103.2L71.4 101.4L74.3 99.9L75.4 102.2L77.2 105L75 105.4L72.1 106.7L71 106.2ZM153.8 100.7L154.7 101.8L156.3 102.8L155.7 105.6L153.9 105.5L152.1 105.6L150.7 103.6L151 101.5ZM146.1 107.7L144.9 107.4L145.6 105L146.7 104.6L149.3 104.5L149.4 106L148.9 107.5L147.8 109.1ZM175.2 170.1L176.9 172L175.4 174L173.4 175.1L172.4 173.9L169.9 171.4L171.7 169.7L174.1 169.6ZM80.9 113.1L82 115L80.6 116.9L79.1 116.4L78.1 115.7L76.6 114.6L78.3 112.9L80 112.4ZM28.2 96.5L29.4 98.6L28.2 99.3L26.6 100L25.5 99.7L23.9 98.7L24.6 96.8L26.6 96.5ZM142.9 2.7L143.3 1.7L145.6 1.6L147.5 3.9L147.5 5.1L145 6.7L143.8 5.5L143.1 5.1ZM119.5 13.6L120.5 14.9L120.4 16.2L118.2 16L117.1 15.7L116.5 14.1L116 12.5L117.8 12.4ZM44.2 8.2L45.4 8.1L46.3 8.8L45.7 10.7L44.9 10.9L43.5 10.2L42.8 9.6L43.3 8.5ZM54.5 14.5L55.3 13.7L56.9 13.1L58.4 14.2L58.7 14.9L57.6 16.4L56 16.9L55.4 15.7ZM66.5 26.5L65.5 25.5L65.7 24.5L66.8 23L67.5 22.8L69.2 24.1L68.9 25.2L68.1 25.8ZM23.6 192.2L24.6 191.5L26 190L27.1 191L27.6 191.9L28.1 193.3L26.7 194.7L24.4 194.4ZM14.7 183.9L14.4 185L12.8 186L11.8 186.4L10.5 185.3L10.8 184.2L12.1 182.8L13.6 182.5ZM82.7 172.8L81 173L80.5 172.3L79.7 170.8L79.6 169.8L81.3 169.5L82.5 170.3L82.8 171.5ZM121.9 71.6L123.1 69.6L124 70L125.6 70.6L126.2 71.8L126.4 73L124.9 74.2L122.9 73.8ZM164.8 123.3L165.7 124.2L164.6 125.4L163 126.5L161.5 125.2L161.2 123L162 122.2L163.8 121.8ZM169 87.6L170.8 88.4L172.2 88.1L171.2 90.3L170.9 90.6L169.4 90.6L168.3 90.3L168.1 88.6Z"/>
<path d="M120.6 37.3L128.2 39.1M120.6 37.3L120.2 45.7M120.6 37.3L122.2 28.5M120.6 37.3L112.8 41.6M186.7 45L186.3 39.8M186.7 45L193 47.5M186.7 45L192.3 43.6M186.7 45L180.3 46.8M186.7 45L184.1 50.4M186.7 45L184.3 50.6M184.1 64L191 65.4M184.1 64L184.3 56.2M184.1 64L191.2 62.3M184.1 64L190.4 58.8M184.1 64L189.4 57.4" fill="none" stroke="#3fe03f" stroke-width="0.9" stroke-linecap="round"/>
</g>
<path d="M122.3 5.8a0.8 0.8 0 1 0 1.6 0a0.8 0.8 0 1 0 -1.6 0ZM42.7 141.4a0.9 0.9 0 1 0 1.8 0a0.9 0.9 0 1 0 -1.8 0ZM170.6 17.6a0.8 0.8 0 1 0 1.7 0a0.8 0.8 0 1 0 -1.7 0Z" fill="#e0453f" filter="url(#fblur)"/>
</g>
<rect x="368.4" y="1065.6" width="20" height="6.8" fill="#fff"/>
<clipPath id="fc11"><rect x="0" y="0" width="192.8" height="192.7"/></clipPath>
<g transform="translate(400.6 888.7)" clip-path="url(#fc11)">
<rect x="0" y="0" width="192.8" height="192.7" fill="#000"/>
<g filter="url(#fblur)" fill="#3fe03f">
<path d="M45.4 96.8a1.6 1.6 0 1 0 3.1 0a1.6 1.6 0 1 0 -3.1 0ZM67.8 192.1a1.7 1.7 0 1 0 3.4 0a1.7 1.7 0 1 0 -3.4 0ZM90.7 157a1.4 1.4 0 1 0 2.9 0a1.4 1.4 0 1 0 -2.9 0ZM82.8 161.3a1.6 1.6 0 1 0 3.3 0a1.6 1.6 0 1 0 -3.3 0ZM156.2 114.1a1.7 1.7 0 1 0 3.4 0a1.7 1.7 0 1 0 -3.4 0ZM88.2 3.1a1.3 1.3 0 1 0 2.6 0a1.3 1.3 0 1 0 -2.6 0ZM37.1 185.1a1.6 1.6 0 1 0 3.3 0a1.6 1.6 0 1 0 -3.3 0ZM104.7 34.4a1.3 1.3 0 1 0 2.6 0a1.3 1.3 0 1 0 -2.6 0ZM3.9 81.1a1.4 1.4 0 1 0 2.8 0a1.4 1.4 0 1 0 -2.8 0ZM39.8 188.6a1.3 1.3 0 1 0 2.7 0a1.3 1.3 0 1 0 -2.7 0ZM91.5 28.3a1.3 1.3 0 1 0 2.6 0a1.3 1.3 0 1 0 -2.6 0ZM148.4 77.6a1.3 1.3 0 1 0 2.5 0a1.3 1.3 0 1 0 -2.5 0ZM60.2 110a1.5 1.5 0 1 0 3 0a1.5 1.5 0 1 0 -3 0ZM105.3 78.8a1.2 1.2 0 1 0 2.5 0a1.2 1.2 0 1 0 -2.5 0ZM115.3 1.1a1.6 1.6 0 1 0 3.2 0a1.6 1.6 0 1 0 -3.2 0ZM40 79.5a1.5 1.5 0 1 0 3.1 0a1.5 1.5 0 1 0 -3.1 0ZM61.7 9.4a1.7 1.7 0 1 0 3.3 0a1.7 1.7 0 1 0 -3.3 0ZM177.1 118.3a1.5 1.5 0 1 0 3.1 0a1.5 1.5 0 1 0 -3.1 0ZM161.5 88.4a1.7 1.7 0 1 0 3.4 0a1.7 1.7 0 1 0 -3.4 0ZM163.6 126.4a1.4 1.4 0 1 0 2.7 0a1.4 1.4 0 1 0 -2.7 0ZM187.1 158a1.6 1.6 0 1 0 3.1 0a1.6 1.6 0 1 0 -3.1 0ZM181.7 93.7a1 1 0 1 0 2.1 0a1 1 0 1 0 -2.1 0ZM35.7 43.2a1.6 1.6 0 1 0 3.1 0a1.6 1.6 0 1 0 -3.1 0ZM100 1.8a1.6 1.6 0 1 0 3.2 0a1.6 1.6 0 1 0 -3.2 0ZM150.1 58.4a1.1 1.1 0 1 0 2.3 0a1.1 1.1 0 1 0 -2.3 0ZM89.9 150.3a1.5 1.5 0 1 0 3.1 0a1.5 1.5 0 1 0 -3.1 0ZM130.4 107.5a1 1 0 1 0 2 0a1 1 0 1 0 -2 0ZM96.1 79.3a1 1 0 1 0 2.1 0a1 1 0 1 0 -2.1 0ZM91.1 19.7a1.5 1.5 0 1 0 3.1 0a1.5 1.5 0 1 0 -3.1 0ZM97 32.6a1.5 1.5 0 1 0 2.9 0a1.5 1.5 0 1 0 -2.9 0ZM56.3 117.9a1.5 1.5 0 1 0 3.1 0a1.5 1.5 0 1 0 -3.1 0ZM178.4 31.7a1.2 1.2 0 1 0 2.5 0a1.2 1.2 0 1 0 -2.5 0ZM129 38.1a1.3 1.3 0 1 0 2.6 0a1.3 1.3 0 1 0 -2.6 0ZM127.2 68.1a1 1 0 1 0 2 0a1 1 0 1 0 -2 0ZM41.4 42.8a1.5 1.5 0 1 0 3 0a1.5 1.5 0 1 0 -3 0ZM0.1 47.7a1.5 1.5 0 1 0 3 0a1.5 1.5 0 1 0 -3 0ZM77.8 44.5a1.2 1.2 0 1 0 2.3 0a1.2 1.2 0 1 0 -2.3 0ZM146.2 90.6a1.6 1.6 0 1 0 3.2 0a1.6 1.6 0 1 0 -3.2 0ZM35.2 54.2a1.6 1.6 0 1 0 3.2 0a1.6 1.6 0 1 0 -3.2 0ZM73.9 138a1 1 0 1 0 2 0a1 1 0 1 0 -2 0ZM105.4 33.3a1.3 1.3 0 1 0 2.6 0a1.3 1.3 0 1 0 -2.6 0ZM122.8 42.4a1.4 1.4 0 1 0 2.8 0a1.4 1.4 0 1 0 -2.8 0ZM51.6 108a1.2 1.2 0 1 0 2.4 0a1.2 1.2 0 1 0 -2.4 0ZM172.1 186.4a1 1 0 1 0 2.1 0a1 1 0 1 0 -2.1 0ZM19.5 94.7a1.5 1.5 0 1 0 3 0a1.5 1.5 0 1 0 -3 0ZM188.8 87.4a1.2 1.2 0 1 0 2.3 0a1.2 1.2 0 1 0 -2.3 0ZM191.5 87.3a1.2 1.2 0 1 0 2.5 0a1.2 1.2 0 1 0 -2.5 0ZM103 109.4a1 1 0 1 0 2 0a1 1 0 1 0 -2 0ZM61.8 64.5a1.3 1.3 0 1 0 2.5 0a1.3 1.3 0 1 0 -2.5 0ZM163.3 22.6a1.4 1.4 0 1 0 2.7 0a1.4 1.4 0 1 0 -2.7 0ZM36.8 61a1.2 1.2 0 1 0 2.3 0a1.2 1.2 0 1 0 -2.3 0ZM43.3 78.5a1.1 1.1 0 1 0 2.2 0a1.1 1.1 0 1 0 -2.2 0ZM105.5 149a1 1 0 1 0 2 0a1 1 0 1 0 -2 0ZM18.2 70.3a1.3 1.3 0 1 0 2.7 0a1.3 1.3 0 1 0 -2.7 0ZM185.3 44.8a1.4 1.4 0 1 0 2.8 0a1.4 1.4 0 1 0 -2.8 0ZM114.1 142.3a1 1 0 1 0 2.1 0a1 1 0 1 0 -2.1 0ZM90.8 189.3a1.7 1.7 0 1 0 3.4 0a1.7 1.7 0 1 0 -3.4 0ZM187.8 90.8a1.7 1.7 0 1 0 3.3 0a1.7 1.7 0 1 0 -3.3 0ZM3.4 111.6a1.5 1.5 0 1 0 3 0a1.5 1.5 0 1 0 -3 0ZM93 118.6a1.6 1.6 0 1 0 3.2 0a1.6 1.6 0 1 0 -3.2 0ZM141.4 141a1 1 0 1 0 2 0a1 1 0 1 0 -2 0ZM14 146.3a1.2 1.2 0 1 0 2.4 0a1.2 1.2 0 1 0 -2.4 0ZM62 79a1.1 1.1 0 1 0 2.1 0a1.1 1.1 0 1 0 -2.1 0ZM98.7 12.9a1.2 1.2 0 1 0 2.4 0a1.2 1.2 0 1 0 -2.4 0ZM166.3 22.2a1.6 1.6 0 1 0 3.1 0a1.6 1.6 0 1 0 -3.1 0ZM51 91.3a1.1 1.1 0 1 0 2.2 0a1.1 1.1 0 1 0 -2.2 0ZM74.6 90.5a1.2 1.2 0 1 0 2.3 0a1.2 1.2 0 1 0 -2.3 0ZM159.5 6.1a1.4 1.4 0 1 0 2.8 0a1.4 1.4 0 1 0 -2.8 0ZM76.1 94.6a1.1 1.1 0 1 0 2.2 0a1.1 1.1 0 1 0 -2.2 0ZM57.7 134.6a1.1 1.1 0 1 0 2.2 0a1.1 1.1 0 1 0 -2.2 0ZM79.1 24.6a1 1 0 1 0 2.1 0a1 1 0 1 0 -2.1 0ZM51.7 187.7a1.3 1.3 0 1 0 2.5 0a1.3 1.3 0 1 0 -2.5 0ZM139.6 176.4a1.3 1.3 0 1 0 2.6 0a1.3 1.3 0 1 0 -2.6 0ZM71.2 2.4a1.1 1.1 0 1 0 2.2 0a1.1 1.1 0 1 0 -2.2 0ZM160.5 39.5a1.1 1.1 0 1 0 2.2 0a1.1 1.1 0 1 0 -2.2 0ZM127.2 105.3a1 1 0 1 0 2 0a1 1 0 1 0 -2 0ZM55.6 80.6a1.2 1.2 0 1 0 2.4 0a1.2 1.2 0 1 0 -2.4 0ZM79.5 136.5a1.3 1.3 0 1 0 2.6 0a1.3 1.3 0 1 0 -2.6 0ZM191 150.2a1.6 1.6 0 1 0 3.2 0a1.6 1.6 0 1 0 -3.2 0ZM37.7 95.9a1.3 1.3 0 1 0 2.6 0a1.3 1.3 0 1 0 -2.6 0ZM18.1 96.3a1 1 0 1 0 2.1 0a1 1 0 1 0 -2.1 0ZM171.8 145.5a1.2 1.2 0 1 0 2.3 0a1.2 1.2 0 1 0 -2.3 0ZM95.3 109a1 1 0 1 0 2 0a1 1 0 1 0 -2 0ZM32 178.4a1.4 1.4 0 1 0 2.7 0a1.4 1.4 0 1 0 -2.7 0ZM175.8 44.7a1.5 1.5 0 1 0 2.9 0a1.5 1.5 0 1 0 -2.9 0ZM106.4 67.5a1.4 1.4 0 1 0 2.8 0a1.4 1.4 0 1 0 -2.8 0ZM109.9 108.9a1.2 1.2 0 1 0 2.4 0a1.2 1.2 0 1 0 -2.4 0ZM5.1 103a1.3 1.3 0 1 0 2.7 0a1.3 1.3 0 1 0 -2.7 0ZM172 90.6a1.5 1.5 0 1 0 3 0a1.5 1.5 0 1 0 -3 0ZM55.7 78.9a1.7 1.7 0 1 0 3.4 0a1.7 1.7 0 1 0 -3.4 0ZM90.8 152.2a1.6 1.6 0 1 0 3.1 0a1.6 1.6 0 1 0 -3.1 0ZM160.5 131.2a1 1 0 1 0 2 0a1 1 0 1 0 -2 0ZM112 85.5a1.3 1.3 0 1 0 2.7 0a1.3 1.3 0 1 0 -2.7 0ZM4.9 175.2a1.1 1.1 0 1 0 2.3 0a1.1 1.1 0 1 0 -2.3 0ZM182.7 110.3a1.2 1.2 0 1 0 2.3 0a1.2 1.2 0 1 0 -2.3 0ZM85.4 20.6a1 1 0 1 0 2.1 0a1 1 0 1 0 -2.1 0ZM34.3 94.4a1.3 1.3 0 1 0 2.7 0a1.3 1.3 0 1 0 -2.7 0ZM92.5 54a1.7 1.7 0 1 0 3.3 0a1.7 1.7 0 1 0 -3.3 0ZM102 73a1.3 1.3 0 1 0 2.7 0a1.3 1.3 0 1 0 -2.7 0ZM189.8 93.7a1.5 1.5 0 1 0 3.1 0a1.5 1.5 0 1 0 -3.1 0ZM37.7 84.9a1.4 1.4 0 1 0 2.8 0a1.4 1.4 0 1 0 -2.8 0ZM81.5 42.1a1.7 1.7 0 1 0 3.4 0a1.7 1.7 0 1 0 -3.4 0ZM52.6 101.6a1.6 1.6 0 1 0 3.3 0a1.6 1.6 0 1 0 -3.3 0ZM141.2 91.1a1.2 1.2 0 1 0 2.5 0a1.2 1.2 0 1 0 -2.5 0ZM91 109.2a1.2 1.2 0 1 0 2.5 0a1.2 1.2 0 1 0 -2.5 0ZM24.8 36a1.3 1.3 0 1 0 2.6 0a1.3 1.3 0 1 0 -2.6 0ZM107.2 156a1.6 1.6 0 1 0 3.2 0a1.6 1.6 0 1 0 -3.2 0ZM11.2 77.2a1 1 0 1 0 2.1 0a1 1 0 1 0 -2.1 0ZM85.4 24.5a1.7 1.7 0 1 0 3.4 0a1.7 1.7 0 1 0 -3.4 0ZM82.5 102.6a1.1 1.1 0 1 0 2.2 0a1.1 1.1 0 1 0 -2.2 0ZM83.2 117.2a1.3 1.3 0 1 0 2.5 0a1.3 1.3 0 1 0 -2.5 0ZM37 183.1a1.1 1.1 0 1 0 2.2 0a1.1 1.1 0 1 0 -2.2 0ZM130 51.8a1.1 1.1 0 1 0 2.1 0a1.1 1.1 0 1 0 -2.1 0ZM181.2 104.8a1.6 1.6 0 1 0 3.1 0a1.6 1.6 0 1 0 -3.1 0ZM182.6 126.3a1.6 1.6 0 1 0 3.2 0a1.6 1.6 0 1 0 -3.2 0ZM27.1 70.5a1.3 1.3 0 1 0 2.5 0a1.3 1.3 0 1 0 -2.5 0ZM80.1 160.2a1.3 1.3 0 1 0 2.6 0a1.3 1.3 0 1 0 -2.6 0ZM49.6 139.9a1.1 1.1 0 1 0 2.3 0a1.1 1.1 0 1 0 -2.3 0ZM14.3 43.3a1.2 1.2 0 1 0 2.4 0a1.2 1.2 0 1 0 -2.4 0ZM87.8 126a1 1 0 1 0 2 0a1 1 0 1 0 -2 0Z"/>
<path d="M87.9 34.8L85.6 33.3L82.2 31.8L81.5 30.1L83.3 29L84.3 25.4L85.5 26.4L88.9 25.5L89.2 26.6L89.4 29.5L91.4 30.9L88.2 32.5ZM48.1 61.4L48 58.8L51.5 59.5L53.2 60.8L53.7 63.3L53.2 64.7L50.5 65.9L49.1 63.1ZM106.4 48.8L105.2 50.6L106 52.6L103 52.4L101 51.2L101.5 49.4L101.8 48.3L103.5 47.6ZM106.1 72L106.8 74.2L104.1 75L101.7 76L101.3 73.9L101.4 72.1L101.2 67.3L105.3 69.8ZM48.1 107.7L48.2 109.4L44.7 112.2L43.9 110.5L42.4 108.6L43.1 106.7L45 103.2L48.3 105.5ZM43.1 94.4L45.1 93.5L46.5 96.8L45.5 98.1L42.8 99.1L41.1 97.9L40.2 96.1L40.4 94.2ZM68.4 102.2L67.4 105.9L66.9 106.8L64.2 107.2L63.5 104.2L62.6 102.9L64.5 100.9L66.7 102.3ZM136.6 93.7L137.7 95.4L133.9 96.3L132.5 95.9L131 92.4L132.6 91L134.8 90.2L136.3 91.7ZM181.8 107.7L183.5 108.6L185.3 109.9L183.8 111.8L181.8 111.9L178.8 111.2L176.5 108.2L180.5 107.6ZM183.1 126.4L184.2 132.1L183.3 133.9L185 139.3L181.9 137.9L178.2 140.7L176.6 139.3L173 136.2L173.9 133.3L175.6 130.6L175.6 128.8L179.5 127.1ZM184.1 155.3L181.3 155.4L178.5 156L177.6 154.4L177.7 152.1L178.8 146.2L184.7 147.6L184.6 151.5ZM94.6 136L95.8 138.8L96.2 139.9L95.1 142.4L92.3 142.5L91.1 141.5L89.6 139.3L91.6 136.4ZM45.4 143.1L43.5 140.7L45.6 139.1L47.8 137.7L49.2 139.5L49.5 141.4L48.1 142.4L46.4 142.7ZM116.5 99.4L114.6 100.7L113 99.6L113 98.6L113.8 96.9L115.2 96.8L116.6 96.2L117.1 98.6ZM113.5 85.8L114.8 85.2L116 85.9L116.2 86.8L115.7 88.3L114.8 88.6L113.3 88.5L113.1 86.9ZM174.8 104.7L175.1 106.4L174.1 107.6L172 108.5L170.8 107.7L170.9 106L170.5 104.6L172.4 104.3ZM167.2 107L166.2 108.2L164.6 109.1L163.1 107.9L163.4 106.5L164 105.1L165.2 103.6L167.1 104.4ZM157.9 59.7L158.4 61.8L159 63.4L157.3 64.5L155.4 64.3L155.2 62.2L154.9 61.3L155.4 59.4ZM53.8 171.1L51.9 173.9L49.9 174.3L48.3 173.1L48.6 170L48.8 167.3L51.6 168.7L54 168.2ZM55.6 181.1L54.9 182.9L53.4 184L51.3 183.9L51.3 182.3L51.4 181.1L52.5 180L54.7 180.2ZM184.5 193.5L183.3 192.1L182.6 190.6L184 189.2L185.8 188.3L186.6 190.2L186.3 191.6L185.6 192.2ZM177.5 85.6L177.3 83.7L177.7 82.1L180.3 82.1L182.1 82.9L181.3 84.4L180.9 86.6L179.2 85.7ZM181.4 98.6L182.3 97.6L183.9 97.5L185.1 98.7L185.3 99.7L183.6 101.9L181.3 101.1L180.3 99.6Z"/>
<path d="M86.3 29.7L90 24.5M86.3 29.7L80.6 33.1M86.3 29.7L81.3 32M86.3 29.7L83.9 36.5M86.3 29.7L91.4 31.1M86.3 29.7L82.2 25.6M179 133.8L186.3 133.2M179 133.8L171.6 137.2M179 133.8L175.3 126.5M179 133.8L177 142.8M179 133.8L181.9 142.1M179 133.8L174.9 125.8" fill="none" stroke="#3fe03f" stroke-width="0.9" stroke-linecap="round"/>
</g>
<path d="M186.8 11.4a0.9 0.9 0 1 0 1.8 0a0.9 0.9 0 1 0 -1.8 0ZM92.5 180.6a0.8 0.8 0 1 0 1.6 0a0.8 0.8 0 1 0 -1.6 0ZM175.4 31.3a1 1 0 1 0 2 0a1 1 0 1 0 -2 0ZM79 35.9a0.8 0.8 0 1 0 1.6 0a0.8 0.8 0 1 0 -1.6 0Z" fill="#e0453f" filter="url(#fblur)"/>
</g>
<rect x="564.9" y="1065.6" width="19.9" height="6.8" fill="#fff"/>
<clipPath id="fc12"><rect x="0" y="0" width="192.3" height="192.7"/></clipPath>
<g transform="translate(597.9 888.7)" clip-path="url(#fc12)">
<rect x="0" y="0" width="192.3" height="192.7" fill="#04100a"/>
<g filter="url(#fblur)" fill="#58dd58">
<path d="M93.6 107.2a1.5 1.5 0 1 0 2.9 0a1.5 1.5 0 1 0 -2.9 0ZM60.6 62.2a1.4 1.4 0 1 0 2.8 0a1.4 1.4 0 1 0 -2.8 0ZM92.3 69.5a1.2 1.2 0 1 0 2.4 0a1.2 1.2 0 1 0 -2.4 0ZM62.4 33a1.3 1.3 0 1 0 2.7 0a1.3 1.3 0 1 0 -2.7 0ZM169.7 132.4a1.3 1.3 0 1 0 2.7 0a1.3 1.3 0 1 0 -2.7 0ZM64.2 83.7a1 1 0 1 0 2 0a1 1 0 1 0 -2 0ZM138.6 57.5a1.1 1.1 0 1 0 2.2 0a1.1 1.1 0 1 0 -2.2 0ZM186.1 65.9a1.6 1.6 0 1 0 3.2 0a1.6 1.6 0 1 0 -3.2 0ZM117.3 146.2a1.3 1.3 0 1 0 2.7 0a1.3 1.3 0 1 0 -2.7 0ZM33.9 136.9a1.1 1.1 0 1 0 2.2 0a1.1 1.1 0 1 0 -2.2 0ZM77.6 25.9a0.9 0.9 0 1 0 1.9 0a0.9 0.9 0 1 0 -1.9 0ZM69.8 3.7a1.2 1.2 0 1 0 2.3 0a1.2 1.2 0 1 0 -2.3 0ZM161.6 191.4a1.2 1.2 0 1 0 2.4 0a1.2 1.2 0 1 0 -2.4 0ZM20.6 67a0.9 0.9 0 1 0 1.9 0a0.9 0.9 0 1 0 -1.9 0ZM41.1 119.5a1.3 1.3 0 1 0 2.7 0a1.3 1.3 0 1 0 -2.7 0ZM5.8 94a1.2 1.2 0 1 0 2.4 0a1.2 1.2 0 1 0 -2.4 0ZM75.5 26.7a1.2 1.2 0 1 0 2.4 0a1.2 1.2 0 1 0 -2.4 0ZM19.1 131.8a1.4 1.4 0 1 0 2.7 0a1.4 1.4 0 1 0 -2.7 0ZM119.1 78.7a1.6 1.6 0 1 0 3.1 0a1.6 1.6 0 1 0 -3.1 0ZM70 39.9a1.2 1.2 0 1 0 2.3 0a1.2 1.2 0 1 0 -2.3 0ZM173.3 31.1a1.4 1.4 0 1 0 2.9 0a1.4 1.4 0 1 0 -2.9 0ZM178.3 163.5a1.2 1.2 0 1 0 2.5 0a1.2 1.2 0 1 0 -2.5 0ZM85.3 167.2a1.4 1.4 0 1 0 2.8 0a1.4 1.4 0 1 0 -2.8 0ZM153.2 35a1.3 1.3 0 1 0 2.7 0a1.3 1.3 0 1 0 -2.7 0ZM140.4 46.4a1 1 0 1 0 2.1 0a1 1 0 1 0 -2.1 0ZM159.9 109.3a1.2 1.2 0 1 0 2.4 0a1.2 1.2 0 1 0 -2.4 0ZM92.4 50.1a1.1 1.1 0 1 0 2.1 0a1.1 1.1 0 1 0 -2.1 0ZM20.3 77.6a1 1 0 1 0 2 0a1 1 0 1 0 -2 0ZM170.3 183.3a1.3 1.3 0 1 0 2.6 0a1.3 1.3 0 1 0 -2.6 0ZM17.2 115.1a1 1 0 1 0 2 0a1 1 0 1 0 -2 0ZM70.5 25.4a1.2 1.2 0 1 0 2.5 0a1.2 1.2 0 1 0 -2.5 0ZM14.3 54.4a1.1 1.1 0 1 0 2.1 0a1.1 1.1 0 1 0 -2.1 0ZM88.4 178.4a1.3 1.3 0 1 0 2.6 0a1.3 1.3 0 1 0 -2.6 0ZM148.6 139.3a1.3 1.3 0 1 0 2.5 0a1.3 1.3 0 1 0 -2.5 0ZM12.9 12.1a1 1 0 1 0 2 0a1 1 0 1 0 -2 0ZM97.7 65.8a1.6 1.6 0 1 0 3.1 0a1.6 1.6 0 1 0 -3.1 0ZM37.6 26.1a1.3 1.3 0 1 0 2.7 0a1.3 1.3 0 1 0 -2.7 0ZM115.3 11.1a1.1 1.1 0 1 0 2.3 0a1.1 1.1 0 1 0 -2.3 0ZM84.1 157.9a1.4 1.4 0 1 0 2.9 0a1.4 1.4 0 1 0 -2.9 0ZM165.7 103.2a1.6 1.6 0 1 0 3.1 0a1.6 1.6 0 1 0 -3.1 0ZM89.5 56.1a1 1 0 1 0 2 0a1 1 0 1 0 -2 0ZM158 125a1.3 1.3 0 1 0 2.7 0a1.3 1.3 0 1 0 -2.7 0ZM186 121.5a1.1 1.1 0 1 0 2.2 0a1.1 1.1 0 1 0 -2.2 0ZM132.2 177.6a1 1 0 1 0 2 0a1 1 0 1 0 -2 0ZM179.6 80.4a1 1 0 1 0 2 0a1 1 0 1 0 -2 0ZM96.4 149.9a1.2 1.2 0 1 0 2.5 0a1.2 1.2 0 1 0 -2.5 0ZM51.3 147.4a1 1 0 1 0 1.9 0a1 1 0 1 0 -1.9 0ZM127.4 70a1.3 1.3 0 1 0 2.7 0a1.3 1.3 0 1 0 -2.7 0ZM96.4 54.4a1 1 0 1 0 2.1 0a1 1 0 1 0 -2.1 0ZM156 88.1a1.1 1.1 0 1 0 2.2 0a1.1 1.1 0 1 0 -2.2 0ZM112.7 147.5a1 1 0 1 0 1.9 0a1 1 0 1 0 -1.9 0ZM86.8 30a1.4 1.4 0 1 0 2.9 0a1.4 1.4 0 1 0 -2.9 0ZM8.3 159.8a1.3 1.3 0 1 0 2.6 0a1.3 1.3 0 1 0 -2.6 0ZM98.1 103.4a1.1 1.1 0 1 0 2.2 0a1.1 1.1 0 1 0 -2.2 0ZM85.9 33.4a1.1 1.1 0 1 0 2.3 0a1.1 1.1 0 1 0 -2.3 0ZM113.3 117.6a1.1 1.1 0 1 0 2.3 0a1.1 1.1 0 1 0 -2.3 0ZM116.8 150.7a1.4 1.4 0 1 0 2.9 0a1.4 1.4 0 1 0 -2.9 0ZM0.6 96.5a1 1 0 1 0 2 0a1 1 0 1 0 -2 0ZM155.7 112.1a1.2 1.2 0 1 0 2.4 0a1.2 1.2 0 1 0 -2.4 0ZM116 98.4a1 1 0 1 0 2.1 0a1 1 0 1 0 -2.1 0ZM174 11.8a0.9 0.9 0 1 0 1.8 0a0.9 0.9 0 1 0 -1.8 0ZM55.7 28.1a1.2 1.2 0 1 0 2.3 0a1.2 1.2 0 1 0 -2.3 0Z"/>
</g>
<path d="M176.2 34a1.4 1.4 0 1 0 2.8 0a1.4 1.4 0 1 0 -2.8 0ZM45 89.6a1.3 1.3 0 1 0 2.7 0a1.3 1.3 0 1 0 -2.7 0ZM67.7 97.9a1 1 0 1 0 2 0a1 1 0 1 0 -2 0ZM182.9 188.9a1 1 0 1 0 2 0a1 1 0 1 0 -2 0ZM23.2 91.1a1.2 1.2 0 1 0 2.3 0a1.2 1.2 0 1 0 -2.3 0ZM147.3 66.4a1.2 1.2 0 1 0 2.4 0a1.2 1.2 0 1 0 -2.4 0ZM30.6 41.5a0.9 0.9 0 1 0 1.9 0a0.9 0.9 0 1 0 -1.9 0ZM103.7 108.3a1.2 1.2 0 1 0 2.4 0a1.2 1.2 0 1 0 -2.4 0ZM178 59.4a1.1 1.1 0 1 0 2.1 0a1.1 1.1 0 1 0 -2.1 0ZM88.1 181.4a1.1 1.1 0 1 0 2.1 0a1.1 1.1 0 1 0 -2.1 0ZM55 82.4a1.2 1.2 0 1 0 2.5 0a1.2 1.2 0 1 0 -2.5 0ZM52.9 34a1.3 1.3 0 1 0 2.5 0a1.3 1.3 0 1 0 -2.5 0ZM109.5 111.4a0.9 0.9 0 1 0 1.8 0a0.9 0.9 0 1 0 -1.8 0ZM47.3 20.4a1.1 1.1 0 1 0 2.2 0a1.1 1.1 0 1 0 -2.2 0ZM172 189.6a1.3 1.3 0 1 0 2.6 0a1.3 1.3 0 1 0 -2.6 0ZM70 108.9a1.3 1.3 0 1 0 2.7 0a1.3 1.3 0 1 0 -2.7 0ZM65.1 77.1a1.3 1.3 0 1 0 2.5 0a1.3 1.3 0 1 0 -2.5 0ZM65.1 91.4a1.1 1.1 0 1 0 2.2 0a1.1 1.1 0 1 0 -2.2 0ZM156.7 99.9a0.9 0.9 0 1 0 1.9 0a0.9 0.9 0 1 0 -1.9 0ZM3.1 123.5a1 1 0 1 0 1.9 0a1 1 0 1 0 -1.9 0ZM127.2 43.4a1.2 1.2 0 1 0 2.3 0a1.2 1.2 0 1 0 -2.3 0ZM65.4 125.8a1 1 0 1 0 1.9 0a1 1 0 1 0 -1.9 0Z" fill="#e0453f" filter="url(#fblur)"/>
</g>
<rect x="761.7" y="1065.6" width="19.7" height="6.8" fill="#fff"/>
<clipPath id="fc20"><rect x="0" y="0" width="193" height="193.2"/></clipPath>
<g transform="translate(203.9 1085.1)" clip-path="url(#fc20)">
<rect x="0" y="0" width="193" height="193.2" fill="#000"/>
<g filter="url(#fblur)" fill="#2ae62a">
<path d="M62 119.5a0.8 0.8 0 1 0 1.6 0a0.8 0.8 0 1 0 -1.6 0ZM187.3 158.2a1.4 1.4 0 1 0 2.8 0a1.4 1.4 0 1 0 -2.8 0ZM50.5 39.1a0.8 0.8 0 1 0 1.7 0a0.8 0.8 0 1 0 -1.7 0ZM36.8 5.6a1.2 1.2 0 1 0 2.4 0a1.2 1.2 0 1 0 -2.4 0ZM69.6 156.9a1.3 1.3 0 1 0 2.5 0a1.3 1.3 0 1 0 -2.5 0ZM66.7 32.9a1 1 0 1 0 2 0a1 1 0 1 0 -2 0ZM5.9 125a0.9 0.9 0 1 0 1.8 0a0.9 0.9 0 1 0 -1.8 0ZM28.3 170.9a1.1 1.1 0 1 0 2.1 0a1.1 1.1 0 1 0 -2.1 0ZM180.5 188.4a1.2 1.2 0 1 0 2.4 0a1.2 1.2 0 1 0 -2.4 0ZM47.7 29.2a0.9 0.9 0 1 0 1.9 0a0.9 0.9 0 1 0 -1.9 0ZM140.7 98.9a1 1 0 1 0 2 0a1 1 0 1 0 -2 0ZM3.3 68.1a1 1 0 1 0 2.1 0a1 1 0 1 0 -2.1 0ZM13.3 48.7a1 1 0 1 0 2 0a1 1 0 1 0 -2 0ZM79.3 95.4a1.1 1.1 0 1 0 2.3 0a1.1 1.1 0 1 0 -2.3 0ZM162.4 57.4a0.9 0.9 0 1 0 1.7 0a0.9 0.9 0 1 0 -1.7 0ZM57.8 42.3a1.1 1.1 0 1 0 2.3 0a1.1 1.1 0 1 0 -2.3 0ZM91.1 62.4a0.9 0.9 0 1 0 1.7 0a0.9 0.9 0 1 0 -1.7 0ZM143.3 120.3a1.2 1.2 0 1 0 2.3 0a1.2 1.2 0 1 0 -2.3 0ZM134.4 164.5a0.8 0.8 0 1 0 1.6 0a0.8 0.8 0 1 0 -1.6 0ZM35.8 91.2a1.2 1.2 0 1 0 2.4 0a1.2 1.2 0 1 0 -2.4 0ZM96.3 97.6a1 1 0 1 0 2 0a1 1 0 1 0 -2 0ZM46.2 168.1a1.4 1.4 0 1 0 2.8 0a1.4 1.4 0 1 0 -2.8 0ZM95.6 90.4a0.9 0.9 0 1 0 1.8 0a0.9 0.9 0 1 0 -1.8 0ZM114.7 41.5a1.2 1.2 0 1 0 2.4 0a1.2 1.2 0 1 0 -2.4 0ZM52.9 90.3a1.3 1.3 0 1 0 2.6 0a1.3 1.3 0 1 0 -2.6 0ZM59.6 103.3a1 1 0 1 0 2 0a1 1 0 1 0 -2 0ZM92.7 166.8a1.1 1.1 0 1 0 2.2 0a1.1 1.1 0 1 0 -2.2 0ZM184.2 79a1.1 1.1 0 1 0 2.1 0a1.1 1.1 0 1 0 -2.1 0ZM123 96.8a1.2 1.2 0 1 0 2.4 0a1.2 1.2 0 1 0 -2.4 0ZM55.4 3.6a1.1 1.1 0 1 0 2.1 0a1.1 1.1 0 1 0 -2.1 0ZM12.1 48.4a1.2 1.2 0 1 0 2.3 0a1.2 1.2 0 1 0 -2.3 0ZM131.6 175a1.2 1.2 0 1 0 2.4 0a1.2 1.2 0 1 0 -2.4 0ZM106 66.8a1.1 1.1 0 1 0 2.2 0a1.1 1.1 0 1 0 -2.2 0ZM54.9 20.6a1.1 1.1 0 1 0 2.2 0a1.1 1.1 0 1 0 -2.2 0ZM120.3 59.8a1.2 1.2 0 1 0 2.5 0a1.2 1.2 0 1 0 -2.5 0ZM100.9 60.1a1.3 1.3 0 1 0 2.6 0a1.3 1.3 0 1 0 -2.6 0ZM4.2 52.4a1 1 0 1 0 2 0a1 1 0 1 0 -2 0ZM128.1 49.3a1.4 1.4 0 1 0 2.8 0a1.4 1.4 0 1 0 -2.8 0ZM20 87a1.1 1.1 0 1 0 2.2 0a1.1 1.1 0 1 0 -2.2 0ZM142.3 49.6a0.9 0.9 0 1 0 1.8 0a0.9 0.9 0 1 0 -1.8 0ZM142 151.5a1.1 1.1 0 1 0 2.3 0a1.1 1.1 0 1 0 -2.3 0ZM172.4 76.5a1.1 1.1 0 1 0 2.1 0a1.1 1.1 0 1 0 -2.1 0ZM94.9 25.3a1.3 1.3 0 1 0 2.6 0a1.3 1.3 0 1 0 -2.6 0ZM11.5 15.8a1.3 1.3 0 1 0 2.7 0a1.3 1.3 0 1 0 -2.7 0ZM86 28.9a1.3 1.3 0 1 0 2.7 0a1.3 1.3 0 1 0 -2.7 0ZM36.4 87.7a0.8 0.8 0 1 0 1.6 0a0.8 0.8 0 1 0 -1.6 0ZM27.1 93.1a1.2 1.2 0 1 0 2.4 0a1.2 1.2 0 1 0 -2.4 0ZM24.5 146.6a1.2 1.2 0 1 0 2.4 0a1.2 1.2 0 1 0 -2.4 0ZM128.4 185.5a1.1 1.1 0 1 0 2.2 0a1.1 1.1 0 1 0 -2.2 0ZM0.6 11.7a1.3 1.3 0 1 0 2.6 0a1.3 1.3 0 1 0 -2.6 0ZM20.5 53.3a1.2 1.2 0 1 0 2.4 0a1.2 1.2 0 1 0 -2.4 0ZM140.6 145.2a1.1 1.1 0 1 0 2.3 0a1.1 1.1 0 1 0 -2.3 0ZM62.6 173.4a0.8 0.8 0 1 0 1.6 0a0.8 0.8 0 1 0 -1.6 0ZM49.2 189.7a0.9 0.9 0 1 0 1.8 0a0.9 0.9 0 1 0 -1.8 0ZM160.6 116a1.2 1.2 0 1 0 2.4 0a1.2 1.2 0 1 0 -2.4 0ZM120.6 86.9a1.3 1.3 0 1 0 2.6 0a1.3 1.3 0 1 0 -2.6 0ZM11.1 55.6a1.3 1.3 0 1 0 2.5 0a1.3 1.3 0 1 0 -2.5 0ZM140.7 123.7a1.2 1.2 0 1 0 2.4 0a1.2 1.2 0 1 0 -2.4 0ZM55.9 115.9a1.1 1.1 0 1 0 2.3 0a1.1 1.1 0 1 0 -2.3 0ZM155.6 44.9a1 1 0 1 0 1.9 0a1 1 0 1 0 -1.9 0Z"/>
<path d="M8.6 0.8L8.8 2.1L9.9 4L8.4 5.3L6.6 5.1L4.7 4.2L4.9 2.5L6.7 1.3ZM5.3 7.9L6.1 6.6L7.5 7.1L8.5 7.2L8.3 9.4L7.6 9.7L6.1 10L4.8 9ZM34.5 3.1L31.9 3.4L31.3 1.6L31.4 -0.9L33.9 -0.9L35.1 -1.8L36.5 -0.3L37.2 1.7ZM39.3 14.2L39.6 11L42.6 10.3L45.9 10.1L46.4 14.3L44.4 16.1L42.8 19.9L39.9 16.2ZM44.6 21.5L43.4 25.5L40.1 26.6L37.9 25.7L36.5 23.9L35.7 19.1L39.4 20.3L41.8 20.3ZM33.1 28.7L33.4 30.6L32.7 31.2L31.2 31L30.3 30.4L30.2 28.9L30.8 27.3L32.5 28.2ZM46.1 19.6L47.5 18.5L48.5 20.1L48.6 20.8L47.4 21.3L46.2 20.6ZM84.8 16.4L86.4 17.8L87.8 17.9L86.9 19.8L85.6 21L84.5 20.2L84 19.4L83.6 17.9ZM89.2 21.7L90.5 21.3L92.2 21.3L93 22.8L91.9 23.6L90.9 23.9L89.4 24.4L88.6 22.4ZM75.7 31.5L77.9 27.9L80.3 27.6L82 28.7L83.3 30.3L84.4 31.4L81 33.2L80.3 32.5ZM119.6 7.4L120.4 6.6L122.4 6.2L123.5 9.2L121.7 10.2L120.9 11.1L119.2 10.4L118.4 8.4ZM134.9 2.8L134.1 4L132.6 3.8L131.4 3.3L131.7 1.7L132.2 0.6L134.2 1L134.5 1.6ZM150.3 4.1L149.2 2.9L149 1.8L150.1 1L151.7 1.8L151.7 3.2ZM116.8 15.2L118.4 14.6L119 15.9L118.1 17.2L117.2 18.1L115.9 16.9ZM127.9 22.3L126.1 23.8L123.9 23L120 21.3L123.4 18.8L126.2 18.8L128.6 18.3L128.9 20.8ZM137.2 17L136.1 16L135.5 15.2L135.2 13.5L136.9 12.7L138.2 13L138.7 13.9L138.6 15.2ZM162.6 11.9L161.5 13.3L160.5 12.7L160.6 11.3L160.8 10.3L161.3 8.7L162.9 9.2L163.3 10.7ZM176.4 17.9L176.4 16L177.4 14.6L178.7 14.9L180.1 14.9L180.1 16.6L179 18.2L177.2 18.4ZM172.5 29.1L172.9 27.1L174.6 26.8L176 27.9L176.7 29.5L176.3 30.4L173.8 31.1L173.3 29.9ZM168.8 38L166.7 39.2L162.7 37.6L161.5 35.8L163.7 31.5L166.8 31.8L168.1 33.1L169.3 35.9ZM155.1 37.1L155.7 36.9L157.5 37L157.6 38.2L157.2 39.6L155.3 39.5L153.8 39L154 38.3ZM106.1 43.5L103.6 41L99.5 41.4L99.2 38.6L97.9 36.7L98.1 34L97.1 31.6L103.8 31L104.3 32.2L105.2 35.2L109.9 35.8L106 38.8ZM117.7 35.4L118.9 34.4L120.8 33.1L121.4 34.7L122.2 37.1L121.2 38L119.3 38.1L117.3 36.6ZM133.7 43.2L135.2 41.3L136.5 41L137.6 41.1L138.5 42.7L137.2 44L136.4 44.4L134.6 44.8ZM126.9 48.1L125.3 47.6L126.8 44.6L128.2 44.3L130.3 45.1L131.2 47.3L130.9 48.5L128 48.5ZM102 44.2L103 45.7L101.7 46.8L99.9 46.2L99.6 44.7L100.7 43.5ZM106.8 47.3L109 48.1L108.8 50.2L109.3 51.8L107 51.4L106.2 50.9L105.8 50L106 48.4ZM116.5 52.3L115.4 57.1L112.7 55.1L110.8 52.3L109.9 48.2L112.3 48L116.4 45.1L117.9 48.3ZM184 47L180.8 46.6L178.8 44.3L177.4 41.4L181.9 40.6L185.4 40.6L187.5 42L186 45.4ZM179.3 55.3L182.5 54.2L184.3 53.8L186 54.7L188.6 58.1L185.6 58.5L183.9 58.2L182.5 57.7ZM172.5 58.6L172.6 60.2L172.8 61.7L171.6 62L170.4 62.1L169.8 61.1L169.8 59.7L171 58.5ZM20.1 44.8L20 49.3L19.8 51.9L21.8 53.4L18.5 54.2L17.6 59.6L14.8 55.8L11.5 53.2L10.6 52.4L12.2 48.2L15 46.6L16 48.1ZM36.8 40.6L38.8 40.6L40.4 41.9L40.7 43.6L39.7 45.4L38.6 44.9L37 43.8L37.3 42.4ZM38 55.9L37 56.9L34.5 56.8L33.8 54.8L33.7 52.7L36.5 51.3L38.6 52.8L39.2 53.8ZM58.8 50.9L57.8 50.4L57.5 49.1L57.7 47.4L59.4 47.6L60.5 48.4L60.7 49.4L59.9 50.2ZM54 54.3L53.4 55.7L52.1 55.8L51.3 56.4L50.8 54.9L50.5 53.9L52 52.3L52.5 53ZM54.9 61.3L52.5 59L53.1 57.8L54.9 56.6L57 56.7L59.3 58.9L58.5 61.4L56.6 62ZM53.9 66.2L52.3 65.6L51.4 64.5L51.1 62.5L52.1 62.1L53.5 63L55 63.5L54.3 65ZM70.4 62.1L65.9 64.3L65.5 60.2L64.4 55.7L69.6 55.8L72.8 55.4L73.9 58.9L72.6 62.1ZM85.9 58.7L83.6 59.6L81.2 57.6L82 55.6L83 52.8L85.8 54L86.9 53.9L87 57.2ZM77.6 66.1L78.5 63.4L80.3 61.1L82.1 62.4L84.8 63.5L83.2 65.9L81.6 68.2L79.8 67.8ZM91.8 63.8L90.8 62.1L92.3 61.5L95 60.8L96.1 62.7L95.8 63.8L94.7 65.6L92.1 64.8ZM87.9 64.6L87.5 63.6L88.9 62.8L90.1 63.4L89.4 64.6L88.4 65.6ZM60.1 69.9L60.9 68.3L61.8 66.4L62.8 65.3L64.8 67.6L65.2 69.1L64.7 70.7L62.3 71.4ZM70.4 68.7L71.8 69.7L70.8 71.5L69.8 71.3L68.9 70.7L68.8 69.1ZM37.1 63.5L41.2 64.8L41.3 67.8L45.6 67.4L45.7 72.6L41.3 77.3L39.4 74.2L36.2 76.1L34.7 72.4L33.4 70.4L32.5 65L36.6 66ZM39.4 61.5L40.1 63L40.4 64.3L39 65.8L38.1 65.3L36.2 64.6L36 62.7L37.1 61.9ZM113.3 68.7L112.6 69.4L111.1 68.4L111.2 66.9L112.8 65.9L113.8 67.7ZM163 69.2L161.5 71.5L158.6 73L155.9 70.4L156.1 66.5L158.3 63.6L160.6 65L163.3 67.3ZM170.7 64.1L171.1 67.5L170 68.4L167 69.3L166.9 67.5L166.4 65.9L167.1 64.7L168.2 63ZM154.3 74.7L157 72.5L158.3 74.5L161.3 75.6L159.8 79.1L156.6 80.8L155.4 79L152.9 76.5ZM171 78.3L171.5 80.9L169.6 82.3L168.2 82.6L167.5 80.5L165.6 78.6L166.9 77L170.2 77ZM176.6 74.7L179.9 72.7L181.3 72.9L185.5 69.5L185.2 74.7L184.1 78.2L184.2 82.2L181.6 86.6L178.7 82.4L176.7 82.3L175.4 80.1L176 75.6ZM175.8 83.2L178.9 83.5L181.2 84.2L181.8 88L181.1 91.3L181.9 94.8L178.8 96.2L176.6 92.6L172.2 93.9L172.2 90.5L172 88L174.8 84.7ZM190.1 87.6L192.2 87.4L193.5 88.7L195.9 90.3L195.1 91.7L191.3 93.1L191 93.6L187.3 94.6L186.2 93.5L185.3 90.2L186.9 89.8L187.6 88.2ZM113 77.4L114.7 77.8L115.4 80L115.2 81L114.3 83.1L112.6 82.1L111.6 80.9L111.5 79.9ZM78.2 78.4L77 78.2L76.2 77.8L77.4 76.3L78.6 75.4L79.6 76L80.8 76.8L79.6 77.9ZM89.4 82.1L89.5 79.6L91.2 78.7L93.2 80.5L95 80.8L94.7 83.6L91.9 84.8L89.9 84.2ZM97.2 85.5L97.7 86L97.5 87.5L97.1 88L95.4 88.6L95.2 86.7L94.7 85.6L95.7 84.2ZM78.1 84.3L80.2 85.6L79.1 86.3L78 87.5L77 87.8L76.5 86.1L76 84.9L77.1 84.4ZM114.2 85.8L114.5 86.9L114 87.9L112.1 87.7L112.4 86.3L113.4 85.2ZM56.2 85.1L54.4 85.7L53.7 85.4L52 84.8L52.6 82.7L54.2 82.5L54.8 83L56.5 83.3ZM12.7 89.7L12.1 88.8L12.7 86.8L15 87L16.5 87.5L16.4 89.2L15.4 91.1L14.4 91.6ZM24.4 78.6L24.6 77.2L25.7 76.9L26.8 77.3L26.3 78.5L25.3 79.6ZM13.2 101.3L11.9 102.1L11.1 102.1L9 101.3L9.2 99.4L11 98.7L11.7 98.2L12.8 99.7ZM44.5 107.8L41.4 108.2L38.5 106.2L37.8 105.8L36.8 102.9L40.2 102.4L41.5 101.8L43.6 104.4ZM21.6 110.9L23.2 108.7L25.7 109.7L27.6 111.2L26.6 112.5L25.5 113.1L24.2 113.7L21.7 113.1ZM75.6 113.1L73.1 113L75.1 107.7L76.6 106.3L79.8 105.8L80.9 108L81.3 110.5L79.7 113.1ZM62.8 113.1L63.4 111.9L65 111.2L66 111.6L66 113.4L65.8 114.8L64.5 115L63.4 113.9ZM116.2 95.2L118.2 96.1L119.2 96.5L119.6 99.2L117.5 100.6L114.9 100.1L113.6 97.5L114.3 95.2ZM130.1 96.2L129.2 97.7L128.5 99.6L127.2 98.9L125.6 99.2L124.8 97.3L126.8 95L127.7 95ZM111.2 96.9L112.5 98.4L111.5 100.4L108.6 100.8L107 99.1L107 98.1L108 95.9L110 96.4ZM107.9 105.2L109.4 102.5L112.2 100.8L114 103.3L115.2 105.5L114.5 107.9L110.9 109.3L109 107.4ZM120.5 107L121.7 105.8L122.6 107.6L122.3 108.8L120.9 108.6L120.1 107.7ZM133.5 115.1L132.3 116.5L130.7 114.1L129.1 113L128 110.3L131.9 109.2L131.3 104.6L135.7 107.7L137 109.3L138.5 110.9L138 114.4L137.7 115.3ZM138.5 111.1L140.4 110.4L141.6 112.4L142.1 113.5L141.4 115.6L139.6 115.7L138 116.4L138.3 114.1ZM149.2 112.7L149.1 114.6L146.9 114.2L144.2 113.9L145.1 112.4L145 110.7L147 110.6L148.7 110.4ZM133.9 116.1L134.2 118.2L134.1 120L133 120.9L131.5 120.2L129.4 118.9L130.7 117.2L131.7 116.4ZM123.2 119.7L121.6 120L120 119.8L120 118.4L120.4 117.8L121.5 116.4L122.5 116.7L122.9 118.2ZM109.9 117.9L111.1 116.9L112.1 118.3L112.6 119.3L112.9 120.1L111.9 121.2L110.3 120.5L108.9 120ZM164 119.9L162.9 124L160.9 123.5L159 121.9L158 119.3L158.7 117.1L159.8 116.4L163 117.6ZM154.8 123.1L156.5 122.3L157.9 122.4L157.7 123.4L157.9 124.6L156.7 125.5L156 125.2L155.3 124.4ZM149.1 128.7L148 130.5L144.9 131.3L143.1 131.4L141.5 127.8L141.4 124.6L140.2 120.3L144 121.5L147.5 121L148.6 123.2L150.1 125.1L149.5 126.9ZM112.7 133.8L110.4 131.8L111.7 126.6L108.9 123.7L114.1 123.1L118.4 125L121.3 124.5L121.3 127.4L127 132.7L121.4 132.6L119.5 136.5L113.8 135.6ZM102.1 127.4L102.1 126L104.2 124.7L105.4 124.3L106.1 126.8L105.8 128.5L104.5 128.9L103.2 128.9ZM108.4 126.7L106.7 126.1L107.6 124.4L107.9 123.8L110.3 123.7L110.9 125.4L110.3 126.1L109.1 126.9ZM118.5 141.5L115.4 141.8L112.8 141.4L110.3 139.5L111.4 137.6L111.1 135.2L113.8 132.6L116.3 133.3L119.6 130.9L118.3 134.6L120.3 137.5L118 138.4ZM30.9 122.9L28 119.4L29.7 116.7L32 117.8L33.9 118.1L35 119.3L34.7 121.7L32.4 122.8ZM42.1 121.4L41.3 122.8L40.1 124.1L39.1 124.2L36.8 122.8L37.9 121.4L38.1 119.8L40.1 120.4ZM28 122.6L29.2 123.6L29.9 124.5L29.5 125.5L29.3 126.7L27.3 126.3L26.9 124.9L26.3 124ZM24.3 126.6L30.6 127.8L33.9 123.5L37.5 125.7L40.8 128.3L42 130.9L39.4 132.8L38 135.9L34.5 135.7L30.5 137.3L27.8 134.5L26.6 130.2ZM22.1 128.7L23.4 129.8L23.2 131.5L22.9 132.8L21.7 132.5L20.2 132L19.4 131.3L20.6 129.6ZM20.3 134.1L20.2 135.8L18.8 135.8L18.2 134.5L17.9 132.8L19.7 133.1ZM49.2 129.9L49.5 132.1L48 131.9L46.2 131.5L47 129.5L48 129.3ZM81.2 131.2L78.3 132.7L75.1 132.2L74 130.6L73.7 127.1L77.1 127.6L79.2 127.7L81.1 127.8ZM85.4 125.7L85.3 127.3L84.5 128.3L82.5 128.1L81.4 127.1L81.7 125.9L82.5 125.1L83.8 124.1ZM82.8 134.6L83.9 133.7L85.5 133.1L86.5 134.3L86.4 135.6L85.3 136.7L84.3 136.8L82.9 135.4ZM65.9 131.9L65.1 132.6L63.4 131.7L64.4 129.9L65.8 129.8L66.2 130.8ZM60 134.8L60.6 136L59.3 137.6L58.4 136.8L57.4 135.2L58.1 134.5ZM187.3 109.5L182.3 111.8L182.5 107.9L177.6 107.6L177.8 104.4L176.2 101.8L181.4 99.8L184 95.4L186.9 101L189.6 100.8L190.6 105.7L190.2 106.9ZM173.9 108.5L175.4 104.8L178.3 106.5L180 108.3L180.5 110.7L178.9 114.3L175.8 115.3L173.3 111.1ZM190 117L189.1 121.7L184.9 121.6L182.8 119.6L181.8 117.7L181.4 114.6L181.8 113.1L182.9 111.5L185.6 109L187.2 111.9L191.4 110.4L190.2 115.8ZM187 123.2L187.8 121.5L190.9 122.4L191.1 125.1L196.4 125.3L191.6 129.1L190.4 130.8L186.9 131.5L186.1 128.6L183.1 127.9L183.3 124.8L182.3 123.6ZM188.9 133.5L187 136.3L185.1 135.4L181.6 133.1L184.2 129.9L185.9 129.2L189.2 128.8L190.6 131.7ZM181.7 144L180.2 144.9L178.2 146.5L177.5 142.9L175.9 139.3L179.5 139.3L181.8 137.9L185.7 142.5ZM149.5 139.5L147.5 137.5L148.9 133.8L151.6 135L154.1 135L153.6 136.9L153.2 139.6L150.5 139.7ZM158.6 145.8L157.1 147.8L153.8 148.7L152.7 149.3L149.5 149.6L147.5 149.8L146.1 144.3L146.2 143.1L148.3 140.2L154.5 135.9L155.4 141.6L159.5 142.9ZM151.7 149.4L153.5 149.5L155.7 149.6L158.2 148.5L159.9 150.7L159.9 153.4L158 155.3L156.6 156.9L156.1 158.3L152.9 157L151.3 155.2L149.5 152.8ZM159 153.9L160.7 150.2L163 150.9L164.3 153.7L165.3 155.8L163.2 156.5L160.8 156.6L158.5 155.5ZM166 156.2L169.1 158.4L170.1 160.2L167.9 161.8L167 162.8L165.3 161.8L162.4 159L162.6 155.9ZM182.1 160.3L182.3 161.8L181.8 163.3L179.9 163.3L179 161.6L179 160.2L179.5 158.7L181.3 158.6ZM131.1 151.5L131.4 152.6L127.9 154.9L127.9 156.9L124.4 153.7L123.2 151.7L121.1 148.6L123.3 146.5L125.9 146.6L126.6 147.3L129.2 144.8L129.9 149.4ZM136.8 153L136.1 155.4L133.7 157.9L131.7 156.9L129 157.6L129.2 153.6L131 150.1L132.9 150.3ZM136.4 162.9L134.7 159.1L135.9 157.2L133.5 155L136.3 154.6L138.1 150.8L140 152L143.1 154.7L142.9 156L141.1 158.5L142.9 162.6L138.4 159.8ZM121.2 161.3L119.8 160.9L118.5 159L119.4 157.6L121.5 156.4L122.6 158.1L124.2 159.3L123.6 161ZM114.6 163.1L112.2 161.1L110.5 159.3L111.6 157.2L112.8 156.7L115.6 158.2L116 159.7L115.3 160.9ZM106.2 158.9L105.3 160.6L103.5 161.5L102.8 160.6L101.6 158.8L103.2 157.6L104.3 157L106.6 157.8ZM112.9 142.6L113.7 143.8L112.7 145L111.3 144.4L110.2 142.9L111 141.9ZM21.1 146.4L19.8 148.9L16.6 148.4L15.5 145.9L15.5 144.3L16.9 143L18.2 139.7L22.7 141.1ZM27 147.4L31.4 144L33.9 145.2L35.7 146.2L35.4 148.3L34.7 149.2L32.1 149.8L29.1 148.9ZM27.4 152.5L27.2 151L26.3 150L28 149.2L28.9 149.4L30.6 149.3L30.5 151L29.4 151.8ZM5.8 151.8L4.2 152.3L3.5 150.1L4 149L6.7 149.3L6.2 150.8ZM30.5 160.9L30.8 157.3L30.9 154.5L33.1 154.7L35.4 155.2L36.9 157L35.9 160.4L33.1 159.9ZM31.8 166.9L30.8 166.3L29.4 164.6L30.9 164.3L32 164L33.9 164.3L33 165.8L32.7 167.5ZM9.5 159.2L9.7 160.8L9.3 161.5L8.2 162.1L6.8 162.2L5.8 160.9L7.5 159.7L7.7 159ZM50.6 158.4L52.5 161.9L50.1 163.4L50 166.5L46.2 164.8L44.4 161L40.6 161.1L43.6 156.4L45.1 156.2L46.4 153L49.5 155.2L49.9 157.1ZM53.1 171.1L51 173.4L49.1 175.8L48 174.4L45.9 172.8L45.5 169.5L44.5 168.7L45.4 166.4L48.7 165.8L52.3 163.3L51.8 167.7L56.4 170.4ZM58.9 169.1L57.6 170.3L56.3 170.9L55.5 170.3L54.4 168.9L55.5 168.1L57 167.5L58.3 167.5ZM61.8 165.2L60.6 162.2L62.5 162L64.5 161.6L66.9 163L65.5 165.6L65 168.1L61.4 167.4ZM69.9 161.6L74.3 157.6L82.2 154L84 159.1L87.1 161.2L89 161.9L90.3 170.1L85.6 170.1L82.8 171.6L78.3 170.1L72.5 171.3L71.6 166.8ZM87.6 157L88.4 156.4L91.5 157L91.1 159.3L90.7 160.2L88.3 160L87.1 159.4L86.9 158ZM90.8 172.6L89.4 171.4L90.6 169.6L91.9 169.4L93.6 170.5L93.9 171.9L93.2 172.8L91.8 173.2ZM100.2 177.3L99.8 179.1L98 179.7L96.1 180.7L94.7 179L96.2 175.6L97.5 175.7L99.4 176ZM100.8 166.3L101.7 164.1L105 163.8L105.6 164.9L107.1 166.4L106.2 167.8L104.4 168.8L102.3 167.2ZM110.7 173.9L108.2 172L106.4 168.1L108.9 166.4L110.8 165.8L114.9 166.9L114.1 169.1L114.9 171.9ZM106.6 173.1L106.4 174.8L104.7 176.2L103 176.4L102.4 174.5L102.6 172.9L104 172.5L105.6 172.2ZM110.5 187L110.1 184.6L109.9 183.5L109.5 182L112.2 178.8L114.2 176.5L115.6 179.1L118.2 180.8L117.1 182.7L118.8 185.2L118.2 188.2L112.5 188ZM107.7 186.5L110 187.3L110.4 190.7L109.9 193.1L107.7 193.1L103.8 193.8L105 190.6L104.9 187.8ZM121.9 190.6L117.4 191.6L115.8 190.9L116.4 187.1L115.2 185.6L116.2 182.5L117.7 181.1L121.2 182.6L123 182.7L126.9 186.1L124.8 188.3L125.7 191.1ZM131.7 183.7L132.3 186.2L131.4 188.6L130.7 190.8L131 192.6L126.1 193.1L124.6 191.2L124.7 189.9L124.5 187.2L123.9 186.4L126 184L128.6 183.8ZM124.3 180.5L124.5 179.2L125.9 178.5L127.3 178.7L127.7 179.8L127 181.2L125.9 182.4L124.9 181.1ZM142.6 164.7L143.3 162.9L146.3 163.6L146.1 165.9L146.5 167.6L145.1 169.3L142.2 169L140.6 166.5ZM144.4 175.3L141.3 174.2L140.6 172.1L143.4 169.9L146.2 168.8L149.3 170.1L147.8 173.5L146.2 175.2ZM155.1 173.7L159.4 172.5L157.7 176.8L159 181.1L154.1 179.2L152.7 177.3L149.8 175.5L154.2 174.2ZM167.1 170L165.8 168.6L165.4 167.6L165.9 165.8L168 166.4L168.7 167.1L169.5 168.8L168.4 169.3ZM173.1 173.4L171.1 173.3L171.2 171.5L171.5 169.8L172.8 170.2L174.2 170.6L174.4 171.6L173.8 172.7ZM0.3 176.9L1.3 175.6L-0.4 174L3.8 172.9L5 171.9L9.3 168.6L10.9 174.3L7.7 176L9.2 179.9L7.7 181.7L3.3 179.4L1.3 182.6ZM21.9 171.8L23.6 171.6L24 172.2L23.5 174.2L22.7 174.9L21.3 174.9L20.7 173.3L21.1 172.5ZM35.4 173.5L34.9 174.4L32.8 173.8L32 172.7L32.3 170.9L33.6 170.6L35.5 171L35.5 172.4ZM37.5 171.8L39.9 172.3L43 171.4L42.2 174.9L40 177L37.9 176.5L35.7 177.2L36.1 174.4ZM30.3 187.5L26.6 192.6L20.2 193.3L17.7 190.5L18.4 187.7L14 182.2L17.7 179.3L20.8 178.7L22 177.7L26 175.8L28.8 180.5L31.9 185.8ZM59.5 178L61.8 175.4L63.1 178.2L66 178.7L65.2 182.4L64.4 186L62.8 186.4L60.3 184.7L57.9 183.2L55.2 181.9L55.8 179.6L57.2 178.5ZM65.6 186.9L64.6 188L63.6 189.6L62.3 189.7L60.3 189.1L60.3 188L61.8 186.6L64 184.7ZM49.8 193.8L48.6 192.6L48.8 191.6L49.4 189.8L51.3 190.6L52.8 191.4L52.2 192.4L50.7 193.3Z"/>
<path d="M102.7 36.7L109.8 34.1M102.7 36.7L107.3 43.1M102.7 36.7L97.3 42.1M102.7 36.7L107.9 34.7M113.6 50.7L108.8 54.3M113.6 50.7L118.5 53M113.6 50.7L115.9 55.3M113.6 50.7L117.5 53.5M183 43.7L187.2 41.3M183 43.7L180.3 49.9M183 43.7L178.6 38M183 43.7L177.9 45.9M16.8 51.5L13.3 44.7M16.8 51.5L25.2 52.8M16.8 51.5L20.5 46.7M16.8 51.5L23.6 55.3M69.9 59.3L74.4 54M69.9 59.3L66.9 54.4M69.9 59.3L65.5 55.3M69.9 59.3L63.7 55.9M37.9 69.4L28.3 67.1M37.9 69.4L32.6 74.2M37.9 69.4L42 63.5M37.9 69.4L38.2 76.9M37.9 69.4L44.7 62.1M37.9 69.4L31.4 75.4M37.9 69.4L35.5 61.5M180.7 77.2L187.5 75.3M180.7 77.2L186.2 73.1M180.7 77.2L181.7 83.5M180.7 77.2L181.6 86.2M180.7 77.2L181.3 70.9M180.7 77.2L183.6 70.7M180.7 77.2L179.8 69.3M177.5 88.9L177.1 79M177.5 88.9L179 80.8M177.5 88.9L185.2 91.5M177.5 88.9L186.2 89.5M190 90.5L184 90.9M190 90.5L196.2 92.8M190 90.5L197.6 90.3M190 90.5L196.4 94.3M190 90.5L183.6 89.9M112 105.3L114.8 100.5M112 105.3L114.9 100.1M112 105.3L110.3 110.1M112 105.3L107.6 102.1M133.9 111.5L137.1 118.2M133.9 111.5L134.8 105.3M133.9 111.5L126.6 109.4M133.9 111.5L137 116M133.9 111.5L133 105.4M133.9 111.5L139.3 111.8M146.3 126.4L142.8 118.7M146.3 126.4L147.2 132.8M146.3 126.4L146.2 132.9M146.3 126.4L139.8 121.4M146.3 126.4L140.4 129.5M116.7 129.5L124.2 135.4M116.7 129.5L111.7 136.6M116.7 129.5L116.7 120.9M116.7 129.5L111.2 123.6M116.7 129.5L124.3 129.8M116.7 129.5L119.3 137.6M116.7 129.5L122 137.2M115.1 137.3L121.6 135.7M115.1 137.3L120.9 132.1M115.1 137.3L109.3 141.4M115.1 137.3L121.4 139.1M115.1 137.3L108.3 136.1M115.1 137.3L119.4 130.6M115.1 137.3L113.5 130.5M34 131L26.8 128.6M34 131L41.7 133M34 131L29.6 122M34 131L42.2 128.6M34 131L28.3 122.4M183.8 104.5L187.7 113.6M183.8 104.5L176.3 105.4M183.8 104.5L181.7 112.4M183.8 104.5L174.7 102.8M177.5 109.2L175.7 104.4M177.5 109.2L176.4 116.1M177.5 109.2L181.9 114.2M177.5 109.2L177.2 114.9M177.5 109.2L173.6 112.2M177.5 109.2L175.4 116M177.5 109.2L173.3 113.6M186.1 115.4L186.5 106.4M186.1 115.4L194.3 119.6M186.1 115.4L178.9 116M186.1 115.4L191.9 107.9M188.5 126.4L190.6 134.5M188.5 126.4L195.8 128.7M188.5 126.4L182.9 131.2M188.5 126.4L189.7 120.7M188.5 126.4L182.9 130.3M152.6 145.1L146.7 137.8M152.6 145.1L145.7 138.3M152.6 145.1L146.3 151.9M152.6 145.1L146.2 141.5M152.6 145.1L160.1 149.2M155.7 152.9L159.2 146.1M155.7 152.9L163.6 149.6M155.7 152.9L162 156.7M155.7 152.9L161 157.2M126.8 150.5L121.2 154.6M126.8 150.5L129.3 156.9M126.8 150.5L120.2 157.1M126.8 150.5L121.5 158M126.8 150.5L126.8 143.4M126.8 150.5L121.7 157M132.3 154.4L138.5 156.2M132.3 154.4L130.6 148.2M132.3 154.4L137.6 150.8M132.3 154.4L128.6 148.6M132.3 154.4L127.6 159.1M132.3 154.4L126.6 158.1M132.3 154.4L127 153.4M138.5 156.8L137.1 163M138.5 156.8L140.7 151.6M138.5 156.8L133.4 160.2M138.5 156.8L137.4 150.8M138.5 156.8L132.6 153.3M47.3 159.1L46.2 150.3M47.3 159.1L50 165.1M47.3 159.1L56.2 159.6M47.3 159.1L52.8 155.4M47.3 159.1L53.3 161.7M47.3 159.1L41.2 155M49.6 170L52.2 175.5M49.6 170L43.5 175.6M49.6 170L41.7 172.9M49.6 170L54.1 164.4M49.6 170L45.3 177.3M49.6 170L57.4 171.5M49.6 170L44.1 176.2M80.8 164.6L87.4 177.6M80.8 164.6L77 150.7M80.8 164.6L78.6 152.3M80.8 164.6L95.9 163.7M80.8 164.6L92.9 155.3M80.8 164.6L82.6 150.4M111.2 169.3L116.5 165.9M111.2 169.3L104.9 167.4M111.2 169.3L117.8 168.6M111.2 169.3L116.7 164.5M113.6 183.3L113 189.7M113.6 183.3L113.4 189M113.6 183.3L111.4 178.1M113.6 183.3L106.3 185M113.6 183.3L107.9 183.5M113.6 183.3L119.9 187.5M113.6 183.3L117.4 188.3M119.8 186.4L120 180M119.8 186.4L119 177.4M119.8 186.4L114 180.2M119.8 186.4L117.2 193.2M127.6 188L125.8 180.8M127.6 188L133.7 186.8M127.6 188L122.9 181.2M127.6 188L127.5 194.7M127.6 188L123.8 195.2M127.6 188L124.2 193.9M127.6 188L122.4 183.3M4.4 176.3L-3 176.3M4.4 176.3L9.9 182.1M4.4 176.3L12.1 176M4.4 176.3L9.6 181.4M4.4 176.3L11.1 179.6M4.4 176.3L10.8 173.3M4.4 176.3L4.5 167.3M22.3 184.1L33.9 177.8M22.3 184.1L19.2 171.5M22.3 184.1L15.6 173.2M22.3 184.1L13.3 178.9M60.5 181L60.1 187.8M60.5 181L63.6 188.1M60.5 181L58.3 189.5M60.5 181L53.1 182.4" fill="none" stroke="#2ae62a" stroke-width="0.9" stroke-linecap="round"/>
</g>
<path d="M23.8 159a2.2 2.2 0 1 0 4.4 0a2.2 2.2 0 1 0 -4.4 0ZM140.2 6a1.8 1.8 0 1 0 3.6 0a1.8 1.8 0 1 0 -3.6 0Z" fill="#e0453f" filter="url(#fblur)"/>
</g>
<rect x="368.4" y="1261.9" width="20" height="6.2" fill="#fff"/>
<clipPath id="fc21"><rect x="0" y="0" width="192.8" height="193.2"/></clipPath>
<g transform="translate(400.6 1085.1)" clip-path="url(#fc21)">
<rect x="0" y="0" width="192.8" height="193.2" fill="#000"/>
<g filter="url(#fblur)" fill="#2fe62f">
<path d="M68.8 41.6L65.8 37.6L67.8 34.5L67.7 33.5L69.6 31.2L71 28.1L74.6 25.9L76.3 32L74.9 33.3L75.7 35.8L75.3 40L72 37.9ZM-0.4 47.1L-1.7 42.5L2.7 43.1L4.3 44.8L5.4 47.5L6.1 50.2L1.8 49.4L-0.1 48.5ZM32.6 69.6L34.6 72.6L33.4 74.4L31.7 78.4L30 78.1L27.6 77.3L24.8 75.4L25 74.6L26.5 72.3L25.1 70.2L28.1 69.1L29.6 68.4ZM51.8 141.6L49.5 138.3L53.2 134.9L56.2 134.3L58.6 135.4L60.6 139.2L58.4 142.1L55.2 140.9ZM164.9 121.4L165.5 123.7L166.5 127.1L164.2 128.8L165.4 133.7L161.1 131.8L156.9 131.3L157.6 128L157.3 125.6L158.3 125.1L159.1 122.3L161.9 123.3ZM175.1 57.6L174.8 54.7L175.9 49L180 50.1L182.6 51.1L183.3 54.1L181.4 58.3L176.7 60.6ZM96.2 102.5L93.1 103.4L93 99.2L93.1 96.7L96.7 96.6L97.5 98.3L98.1 99.5L98.6 101.8ZM110.3 89.7L112.5 88.5L113.6 88.2L115.8 89.3L115.4 91.9L114.3 93.1L112.2 93.2L109.9 91.2ZM178.1 104.7L178 107.8L176.3 107.9L174.9 109.2L173.4 106.4L173.6 105.1L175.2 103.8L176.5 103.5ZM156.1 67.7L157.3 69.4L156.7 71.3L155.8 72L153 73.7L151.8 70.3L152 69.1L154.8 66.8ZM122.5 66.4L123.7 65.2L124.8 62.9L126.3 63.8L127.8 63.6L127.3 66L126.3 68.3L124.8 67.2ZM33.1 53.8L33.8 55.9L34.1 57.9L32.3 57.7L30.9 57.5L30.4 56.7L30.5 55.4L31.6 54.4ZM50.6 74.3L51.9 75L52.4 76.1L52.7 77.8L50.6 78.1L48.7 78.3L48.1 76.8L49.2 74.9ZM192.2 88.4L194.2 90L193.7 91.8L191.5 93L190.1 92.4L189.6 91.3L188.5 89.6L190.4 88.8ZM82.6 189.1L80.7 189.2L79.6 189.1L78.6 187.7L78.6 186.3L80.3 184.1L81.4 185.6L82.4 187.2ZM92 180.4L90.7 178.9L91 177.6L92.2 177L93.7 176.9L94.1 178.1L94.3 179.6L93 180.8ZM118 148.9L119.4 150.2L120.6 151.1L119.8 152.7L117.7 152.8L115.6 152.9L115.3 151.2L116.9 150ZM7.8 7.5L9.1 5.7L10.6 5.4L12 6.7L11.4 7.8L11.4 9L10.3 10.1L8.5 9ZM96.5 86.3L97.6 85.5L99.2 87.4L98.9 88.9L97.4 89.6L96.4 88ZM55.4 70.1L54 69.7L54.7 68.5L55.8 67.7L57 68.7L56.4 69.7ZM152.2 66.1L150 66.6L149 65.3L147.3 63.9L148.6 61.5L150.2 61.4L152.1 62.4L153.4 63.8ZM45.3 161.5L44.7 160.9L42.7 159.6L43.7 158.5L44 157.1L45.7 157.4L46.7 158.3L46.1 160ZM163.2 64.6L163.8 67L163.8 69L162.7 68.8L160.8 69.7L160.2 68.3L159.8 66.7L161.6 65.9ZM113 138.2L114.1 138.6L113.6 139.7L112.9 140.1L111.6 139.3L111.8 138.5ZM19.5 38.1L17.6 37.3L17.6 35.8L17.8 34.8L19.3 34.4L22 35.4L21.7 37.2L20.6 39.2ZM72.4 188.5L72.9 187.3L74.5 187.1L74.7 188.3L74.9 189.8L74.4 190.6L73.1 191.3L72 189.4ZM181.8 81.5L182.9 81.7L183.4 82.2L183 83.5L182.1 83.8L181.5 82.3ZM134.3 69.2L133.3 69.7L132.1 69.5L130.7 67.9L132.3 66.7L133.4 66.2L134.6 67L135 68.1ZM50.6 131.1L50.4 133.1L49.1 132.9L48 132.1L48 130.3L50.1 130.1ZM134.9 32.8L133 35.5L131.5 34.9L129.2 35.4L128.6 32.2L131 31.1L131.7 31.1L134.3 31.3ZM43.1 152.7L42.6 154.5L41.2 154.8L39.7 154.9L38.2 153.8L39.1 152.9L39.5 151.2L41.5 151.9ZM164.4 95.5L163.4 95.9L162.6 95.3L162.1 94.5L163.4 93.6L164.3 94.4ZM91.4 61.5L89.4 59.9L88.6 59.3L89.2 57.1L90.2 56.1L92.2 57.5L92.6 57.9L92.8 60.1ZM36.7 34.2L35.7 33.4L34.8 32.3L35.1 31.3L35.4 30.3L37.1 30L37.6 31.7L37.9 32.7ZM85 42.3L85.7 42.3L86.2 43.4L85.9 43.8L84.6 44.6L83.9 42.9ZM91.1 106.8L91.5 107.8L89.4 107.7L88.2 107.6L87.8 106.6L88.5 105.7L89.3 104.7L90.7 105.7ZM33.2 69.2L33 70.8L32 70.4L31.2 69.9L31.8 68.8L32.6 68.1ZM56.6 59.8L55 60.6L54.5 60.7L53.1 60.1L52.3 58.8L53.5 58.4L55.2 57.8L56 58.2ZM56 127L54.6 126.2L55.4 124.8L56.4 125.2L57.9 126L56.7 127.3ZM31.1 54.8L30 53.6L29.8 52.2L31.4 51.6L32.3 52.7L32.3 53.9ZM77.7 136.9L79.5 137.9L79.3 138.8L78.8 140.7L76.4 141.7L75.7 139.5L75.9 138.8L76.1 136.5ZM143.4 125.6L143.1 123.7L144.5 122.4L145.7 123.5L146.6 124.5L146.5 125.6L145.3 126.2L144.5 126.2ZM60 13.3L58.7 13.2L56.4 11.7L55.7 10.6L57.1 7.6L58.9 8.1L61.9 9.3L60.6 11.4ZM104.3 161.9L102.7 160.7L103.7 159.4L105.1 159.2L106.2 159.9L105.1 161.6ZM80.9 85.5L81.9 85L83.1 84.9L84.8 86.3L83.6 87.3L83 89.1L81.4 88.4L79.7 87.5ZM60.5 12.1L61.1 10.7L62.4 11.5L63.3 12.4L61.9 13.4L60.2 13.7ZM-0.5 127.7L-2.3 127L-1.3 124.4L-1 123.3L0.8 124.2L2.6 125.3L2.3 126.9L0.9 128ZM175.9 102L173.7 103L172.9 102L172.5 100.2L173.3 99.3L175.1 98L175.9 99.2L176.9 101.5ZM166.3 137.9L163.7 137.1L162.7 137L162.6 134.6L164.3 133.2L165.7 133.2L166.7 134.7L167 137ZM52.3 55.8L50.1 56L49.2 55L47.9 52.2L49.3 51.5L51.8 52.1L52.9 53.2L53.5 54.8ZM1.7 29.6L3.4 29.1L4.5 30.3L3.8 31.4L2.4 32.2L1.1 31.4ZM93.4 95L94.4 95.7L95.2 96.6L94.6 98L92.9 98L91.8 97.4L90.7 95.8L92.3 95.4ZM84.8 82.8L85.6 80.7L89.1 79.7L90 81.5L90.8 83.4L90 85.6L88.7 85.8L86.7 83.6ZM73.2 113L72.8 111.8L73.7 111.1L75.1 110.6L75.2 112.1L74.5 113.4ZM152.4 173.7L151.7 175.6L150.4 174.9L149.7 174.1L149 173L149.6 171.6L151.5 171.6L152.3 173.1ZM179.5 98.1L178.8 99L177.5 99L177 98.2L177.9 97.3L178.8 97.4ZM157.6 70.4L158.4 71.8L157.7 72.5L157.1 72.4L156 71.9L156.5 70.7ZM65.9 57.8L66 59.1L65.6 59.9L64.2 59.7L63.6 58.3L65 57.5ZM114.1 144.3L115.5 144L115.9 144.7L116.2 146.6L114.4 146.5L114 145.5ZM76.5 103L78.1 102.5L80 103.5L80.5 104.6L79.5 106L77.5 106.4L76 106.7L75.4 104.9ZM157.6 49.6L158.1 51.5L157 53L155.7 52.3L154.9 51.2L154.1 49.1L155.8 49.2L157.6 48.4ZM146.5 100.4L147.2 99.5L148.2 99.2L149.9 99.7L149.3 101.8L147.5 101.5ZM178.4 37.2L179.8 36.6L181.5 36.6L181.7 38.1L180.5 38.8L179 38.9ZM55 46.1L54.8 47.6L54.5 48.9L52.2 48.6L50.7 47.3L51 45.5L52.7 44.1L54.2 44.4ZM157.5 102.2L158.7 101.3L160.1 101.5L160.4 101.9L160.6 103.9L159.8 104L158.6 105.2L156.7 103.4ZM24.3 56.3L26.4 56.3L27.6 58.6L27.3 59.6L24.6 61.1L24.1 59.8L23.6 58.8L23.3 56.4ZM104.7 111L105.6 111.3L106.9 110.9L107.2 112.4L106.5 113.4L105.8 114L104.4 113.5L103.4 112.6ZM142.6 69.1L143.1 68.5L144.5 67.3L145.9 67.9L146 69.5L145.3 70.6L144.3 70.8L143.8 70.7ZM116.3 170.6L117.5 170.5L117.5 172.3L117.1 173.4L115.4 173.7L114.2 172.8L113.4 172.1L114.8 170.7ZM78.4 29.9L80.7 29.3L81.3 30.8L80.9 32.1L79.4 32L78.9 31ZM43.8 28.4L41.9 27.5L41.7 25.8L42.5 24.8L44.5 25.2L44.4 26.9ZM30 33.9L28.5 32.1L28.9 31L30.3 29.6L31.2 29.8L32.2 31.4L32.2 32.1L31.2 33.9ZM115 95.5L113.3 96.6L112 95.6L110.2 93.9L112.7 92.4L114.3 92.4L116.3 92L116.4 95ZM166.9 188.2L167.2 186.8L168.1 185.9L169.4 184.9L170.5 186.5L170.4 187.9L169.8 188.8L168 189.2ZM7.8 26.5L7.7 28.2L6.8 29.2L4.8 28.1L4.9 26.4L6.5 25.7ZM166 68.7L166.2 67.5L167.7 66.8L168.2 67.9L168.1 68.9L166.9 69.3ZM53.5 24.2L54.5 24L54.8 25.1L53.9 25.8L53.2 25.7L52.3 24.8ZM118.6 79.7L119.5 77.2L121.6 76.7L123.5 78.3L124.6 79.7L123.3 81.5L121.1 82.5L119 82.1ZM106.5 155L105.9 153.5L105.6 151.9L107.3 151.1L108.3 151.6L110.4 153.2L108.8 154.4L107.3 155.3ZM3.9 49.3L2.1 48.7L1.9 47.5L2.6 46.3L4.2 46.8L4.7 48.6ZM77.2 83.6L76.8 81.8L78.6 80.1L80.3 81L81.5 82.2L80.8 83.5L79.6 84.8L78.5 84.6ZM189.9 106.2L190.8 104.8L192.6 104.4L193.2 105.3L192.3 107.5L191.1 107.7ZM134.5 34.5L136.2 33.6L136.4 34.7L136.3 35.9L134.7 36.4L133.5 35.9ZM73.4 127.8L75.1 129.4L74.5 131.4L72.4 131.6L71.6 130.6L71.9 128.5ZM74.5 108.8L75 107.7L75.6 106.3L77.3 106L78.9 107L79.1 109.2L77.2 109.8L75.6 110.2ZM122.8 97.8L124.2 97.2L125.5 98.2L126 99.4L125.1 100.2L122.8 99.7ZM67 6.7L66 6L66.2 4.7L67.9 3.7L69.3 4L70.1 4.8L69.5 6.2L68.8 7ZM62.5 139.3L63.6 138.1L64.9 138.3L67.2 138.9L66.9 141.4L65.3 142.1L63.7 142.7L61.6 141.3ZM160.8 66.8L159.1 67.1L158.3 67.2L156.4 67.6L156.3 65.3L157.5 63.5L159.1 63.9L160.5 64.9ZM60.9 172.4L62.2 171.6L63.1 172.9L63 173.7L61.4 175.4L60.5 173.8ZM55.3 112.3L55.7 113.2L55.7 114.5L55 115.7L53.5 114.9L53.1 114.3L52.1 113.3L53.6 111.7ZM171 67.6L170.4 65.7L172.2 65.1L172.9 65.6L173.7 66.4L173.5 67.1L173.5 68.4L171.8 69ZM90.2 95.9L89.7 96.8L88 96.1L88.5 94.8L89.7 93.5L91 94.6ZM96.1 76.5L94.5 77.6L92.7 76.7L93.6 74.8L94.1 73.6L95.6 75ZM70.3 48.4L68.9 47.3L69 46.4L70.4 44.6L72 45.2L73.3 46.2L73.5 47.9L72.1 48.7ZM33.1 189.1L33.5 190.3L34.7 191.2L33.2 193.4L31.8 193.3L29.8 192L30.4 190.7L30.7 189.1ZM90.8 37.8L90.4 35.7L91.8 35.6L93.2 35.4L94.2 37.3L92.3 37.8ZM92.2 98.9L92.2 100.7L92.5 103L90.8 104.1L89.6 102.7L87.6 101.8L87.8 100.2L90.2 99.3ZM19.1 64.7L20.3 64.4L22.3 65.3L21.2 66.5L19.7 67.7L18.7 66.7ZM38.7 44.9L38.8 46.3L37.6 46.8L36 46.9L35.7 45.1L37 44.1ZM19.9 67.4L18.1 67.1L16.8 66.3L17.4 65.2L18.9 64.9L19.3 65.9ZM156.5 49.5L155.9 50.3L154.7 50.9L153.1 50.5L152.4 49L153.8 48.6L154.5 47.9L155.4 48.2ZM97.9 23.7L99 22.2L99.9 22.6L100.9 24.1L101 25.7L100.4 26.8L98.3 26.6L97.8 25.6ZM187.5 171.1L186.4 170.1L185.4 169.3L186.1 167.1L187.5 168.2L188.6 169.2ZM2.1 59.6L2.6 58.3L5 59.9L5.1 61.1L3.6 62.4L2.7 62.9L1.3 62.6L0.9 61ZM75.6 187.6L74.6 187.8L73.4 187.5L73.8 185.6L76 185.3L76.4 186.4ZM48 133.3L46.5 133.4L45 133.6L44.1 131.9L44.8 130.8L45.4 129.3L47.2 130.2L47.9 131.5ZM167.2 124.9L167.1 123.1L167.9 122.5L169.8 122.8L170.2 124.6L168.7 126ZM91.4 108.7L92.7 108.6L93.8 109.1L94.7 111.4L92.9 111.4L92.1 112.5L90.9 111.6L90 109.7ZM14.1 108.5L13.3 108.9L11.8 110L11.1 109.4L10.8 107.5L11.5 106.8L12.2 105.6L13.7 107.2ZM119.9 179.9L118.4 180.7L117 180.5L116.8 178.3L118.3 178.2L119.6 178.2ZM144.6 67.6L144.2 66.4L144.8 64.7L146.1 65.7L147.6 66.3L147.3 67.6L147.4 68.7L145.6 68.4ZM168 30.7L166.9 29.7L167.9 28.6L169.2 27L170.6 28.6L171 29.9L170 30.9L168.6 32.6ZM141.1 108.1L142.5 106.8L144.1 106L144.8 106.5L146.9 107.5L145.3 109L143.6 110.1L142.4 110.5ZM63.8 66.2L64.8 65.2L66 66.5L66.5 67.3L65.2 68.1L64.2 67.8ZM83.3 23.8L82 23.9L81.1 22.5L81.2 20.9L82.6 21.2L83.6 22.4ZM91.3 90.4L91.8 89.2L92.8 88L95 88.7L94.9 90.7L93.1 90.7ZM147.8 172.9L148.6 172.4L149.8 172.6L149.9 173.4L149.7 174.3L148.9 174.1ZM181.6 72.8L181 74.3L179.1 75.3L178.4 74.9L177.1 73.6L177.4 72L179.2 70.8L180 71.2ZM147.7 72.7L147.3 71.9L148.1 70.9L150.1 71L150.6 71.6L150.3 72.9L149.9 73.5L148.7 74ZM141.5 100.4L139.3 100.3L139.5 98.2L140.9 97.3L142.4 96.9L143.7 97.7L143.5 99.3L142.8 100.3ZM170.5 76L171.4 74.8L173.7 74.1L175.1 74.5L176.6 76L175.4 78.2L173.4 77.8L171.1 77.3ZM126.3 57.9L125.1 58.5L123.7 58.8L124.1 57L124.8 56.2L126.4 56.6ZM103.1 73.8L103.8 75.3L102.4 76.4L100.7 76.2L100.9 74.5L101.7 73.9ZM155.3 34L157.3 35.3L158 36.6L156.3 38.8L154.9 38.9L152.8 38.4L152.7 36.5L153.6 34.7ZM187.7 106L187.3 104.5L187.5 103.4L188.1 102.1L189.8 102.7L190.8 103.7L191.1 105.4L189.3 105.5ZM145.6 59.5L144.6 58.8L145.8 56L148.4 56.7L149.8 58.5L150 60L148.4 61.1L146.4 61.2ZM185 119.6L184.7 120.4L183.6 121.1L182.3 120.3L183.1 118.9L184 118.6ZM163.6 182.6L162.5 184.2L161.8 185.7L159.7 184.2L158.8 183.5L159.7 180.9L162 180.2L162.5 181.6ZM155.2 75.5L154.5 74.6L153.8 73.1L154.2 71.6L156 72.5L157.5 72.5L157.7 74L156.8 74.8ZM110.7 188.8L111.2 189.9L110.8 191.4L109.7 192.4L108 191.8L108.1 190.9L107.4 189.6L108.9 189.3ZM90.8 41.5L88.2 41.7L88 39.8L87.2 37.8L88.4 36.6L89.5 36.6L91.8 36.6L91.5 39.5ZM45.9 169.5L45.9 168.2L47.2 168.1L47.7 169L48.2 170L46.3 170.2ZM177.9 148.4L178.9 149.6L178 151L176.5 150.7L175.3 149.8L174.3 149L175.3 147.4L176.6 147.8ZM188.2 45.7L187.4 43.4L187.7 41.7L189.5 40.6L190.7 41.3L192.1 43L191.5 43.9L190.3 44.8ZM126.9 113L126.5 113.9L125.4 113.5L125.1 112.3L125.4 111.3L126.6 112.1ZM179 45.2L178.6 43.4L178.9 41.6L179.9 41.2L181.9 41L183.7 42.7L182.3 45L181.3 46.2ZM167.6 151.8L166.2 152.2L164.9 151.1L165.2 148.9L167.1 148.1L168.3 148.7L170.2 149L169.8 151.3ZM43 114.4L41.9 114.8L41.1 114.3L41.3 113.1L42.4 112.6L43.6 113ZM57.8 190.3L58.1 191.4L59.1 192.4L57.8 194.1L56.7 194.8L55.5 193.4L55.3 192.1L56.1 191.3ZM118 106.7L116.6 106.2L116 106.2L115 105.3L115.6 104.1L116.4 102.8L118 102.9L118.9 104.9ZM13.2 91L12.5 90L12.1 88.6L13.1 88.7L14.5 89.2L14.2 89.9ZM26.4 100.8L24.6 102.3L23.6 101.9L21.9 99.7L23.5 97.6L24 95.9L27.1 96.5L28.1 99.3ZM77 108L77.9 108.5L77.7 110.5L76.1 111L75.2 110.7L73.6 110L74.1 108.9L75.9 107.5ZM162.8 100.3L163.4 99.1L164.6 99.4L165.6 100.6L164 101.7L162.9 101.7ZM12.4 50L11.6 48.7L13.3 47.5L15.6 46.9L17.3 48.8L17.2 50.5L15.2 52.1L12.9 52.3ZM94.6 61.9L93.3 62.3L91.9 62.2L90.8 60.7L91.2 59.8L92.8 58.8L93.8 59.4L95.8 59.8ZM181.3 112.5L183.3 113.6L183.4 114.2L182.7 115.4L181.7 115.6L180.1 115.5L179.5 114.4L180.8 113.4ZM159.3 119.2L157.7 119L158.2 118L159.2 116.8L160 118L160.3 119.3ZM96 59.7L97.1 60.2L97.3 61.1L96.3 62.1L95.5 61.1L95 60ZM78.6 35.1L79.1 36.9L78.3 37.5L77.2 38.1L76.2 37.1L76.7 35.7ZM63.5 121.4L63.6 123.3L61.9 123.9L59.5 124.6L59.2 122.3L59.1 120.8L61.3 119.7L63 119.9ZM100.9 162.6L101.9 163.2L103.5 163.8L103.2 165.1L102.9 166L101.2 167.2L99.6 165.6L99.6 163.6ZM90.7 30.1L91.6 29.5L92.5 30.3L91.9 31.9L90.9 31.9L89.7 31.4ZM167.3 100.3L165.8 101.5L164.4 102.2L163.2 101.4L162.7 99.8L163.9 99L164.9 97.5L166.2 99.4ZM15.3 110.1L15.7 110.9L15.2 111.8L14.2 111.7L13.7 110.7L14.6 110ZM48.2 82.8L47.5 80L48.6 78.4L50 77.6L51.6 80.2L52.1 81.9L52.2 83.5L49.2 84ZM173.8 102.4L173 103.2L171.3 103.1L170.7 101L171.5 98.9L173.6 98.2L175.1 99.6L175.9 101.8ZM157.1 44.6L155.5 45L155 43.4L154 42.3L155.7 40.5L156.5 40.6L158.1 41.4L157.8 43.5ZM86.9 33.7L87 34.6L85.7 35.3L85.3 34.6L84.6 33.6L85.8 32.9ZM100.9 104.9L99.7 104.8L99.4 102.7L100.6 100.9L101.5 101.6L103 102L103.6 104.2L102.5 104.3ZM137.6 46.7L138.2 47.9L138.3 49.9L136.9 51.2L136 50.7L133.7 50.1L135 47.9L135.4 46.7ZM125 39.5L125.5 38.7L126.5 38.2L127.3 38.8L126.5 40L125.9 40.7ZM44.2 64.7L42.3 63.9L40.8 61.5L43.6 60.4L44.8 58.9L47.1 60.6L47.1 62.6L45.7 63.7ZM80.7 95L81.1 96.5L81.6 98L80.6 98.8L79.3 98.9L78.6 97.8L78.1 96.8L79.2 95.4ZM154.2 129.3L153.9 128.2L154 127L155.7 127.4L155.9 128.7L155.2 129.2ZM149.5 156.9L147.6 155.6L147.4 153.8L149.5 153.1L150.4 152.3L151.9 154.1L151.9 155.4L150.5 155.9ZM77.6 138.7L78.1 138.2L78.7 137.4L80.2 137.8L80.6 138.6L80.8 140.4L79.2 140.3L77.4 140.5ZM50.1 82.2L53 81.3L53.8 81.7L56.1 83.1L55.5 85.6L53.6 85.7L51 85.6L50.1 84.1ZM118 84.5L116.7 83.7L116.9 81.9L118.3 81.1L119.3 81.6L120.7 82.7L119.6 83.7L119 85ZM18.3 126.8L16.8 126.5L16.6 124.9L18.1 123.8L19.6 124L20.5 125.1L20.5 126.3L19.5 127.4ZM11.7 61.4L13.7 61.7L13.1 63.3L13.1 65.2L11.5 64.5L9.6 64.7L9.5 62.8L10.6 61.7ZM105.6 81L106.8 81.2L108.2 82.6L108.2 84.3L105.9 84.1L104.2 84.5L104.2 82L103.6 81ZM41.7 29.1L40.9 28.4L40.3 27.1L40.2 25.9L41.5 25.3L43 25.6L44.2 27.1L43.6 28.2ZM150.2 61.3L151.2 59.9L151.7 59L153.1 58.7L154.6 58.7L154.5 60.8L153.3 61.9L152.4 61.9ZM152.2 137L153.7 138.5L152.4 139.7L150.7 141.7L148.9 140.9L147.9 138.5L148 136.1L149.7 135.1ZM88.2 191.2L87.8 190.1L89.3 189L89.8 189.3L90.2 190.5L89.6 191.1ZM60.7 4.7L62.3 5.2L64 5.8L63.1 8.3L61 7.8L59.8 8.6L59.7 6.3L59.8 5.2ZM188.8 119.7L188.4 117.9L189.5 117.4L190.4 117.4L191.4 118.2L191.4 119.6L190.6 120.9L189.6 120.8ZM128.6 167.9L128.7 166.7L130.8 166.9L130.9 167.9L130.4 168.8L129.5 169.4ZM65.1 3L64.3 1.9L65.8 -0.4L67.7 -0.8L69.9 0.8L69.2 2.5L68.4 3.6L66.1 3.9ZM167 170.7L166.9 169.2L166.5 167.4L168.1 167.3L169.5 168.4L169.8 169.5L169.6 171.8L167.8 171ZM53 30.2L55.3 30.8L55.9 32.6L57 34.5L55.2 35.4L52.9 34.5L51.3 33.7L51.5 31.7ZM93.3 30.5L93.3 28.8L93.8 27.5L94.9 27L96.8 27.4L97.3 29.4L96.2 30.7L95 30.7ZM159 176.5L159.6 178.7L157.7 179.4L155.4 179.9L153.5 178.9L153.7 176L155 175.7L158.1 174.8ZM25.8 99.1L24.9 99.7L23.6 98.7L24.3 97.9L25.3 96.8L26.2 98.3ZM165.2 102.8L165.7 101.9L167.2 101.6L167.9 102.5L167.6 103.8L166.6 103.9ZM70.6 64L71.6 62.9L72.4 63L73.2 64.1L73.9 65.4L72.7 65.8L70.8 66L70.8 64.8ZM48.7 50.4L49.1 48.6L50.4 46.5L52 47.2L54.2 48.3L54.3 50.1L51.8 51.4L50.2 51.1ZM60.3 28.1L59.1 29.3L56.3 29.3L55.8 28.3L55.8 25.7L57.8 24.3L59.6 23.6L60.7 25.8ZM18.5 140.2L19.4 139.4L20.3 139.2L21.2 140.6L20.1 141.3L19.4 141.3ZM19.4 27.9L20.5 28.8L20.2 29.6L18.6 29.8L17.9 29.2L18.4 27.7ZM32.1 67.8L30.8 68.6L28.9 69L27.1 68.5L26.7 67.6L26.4 65.4L29 64.8L30.1 66.1ZM72.6 179.3L72.3 177.7L72.7 177L74 176.4L75 177.4L74.3 178.8ZM69.6 124.7L70.6 127.1L71.5 128.3L70.3 130L68.6 129.8L67.1 128.4L66.4 126.6L68.1 125.6ZM69.7 186L69.3 187.6L67.6 188.1L66.7 187.2L66.8 186.1L68.4 185.3ZM44.3 27L44.9 28.3L45.1 29.5L43.5 30.2L42.8 28.8L42.5 27.5ZM129.2 64.4L129.5 66.1L127.3 66.7L126.4 67.5L124.8 66.5L125.4 64.6L126.5 63.4L127.8 63.8ZM154.8 127.8L155.2 129.4L153.4 131.1L152.8 131.1L151.4 130L151.4 128.9L151.5 127.3L153.2 127.1ZM60.7 58.7L59.1 60.5L57.6 58.7L57.4 57.7L57.9 55.5L59.8 55.6L61.5 55L62 57.2ZM126.1 58.3L124.9 59.3L124 58.8L124 57.5L125.5 56.9L126.5 57.6ZM28.7 72.7L27.9 73.8L26.5 73.6L26.6 72.2L27.3 71.5L28.6 71.4ZM44.9 61.4L45.7 60.9L46.6 61.5L46.7 62.6L45.6 63.4L44.8 62.5ZM93.9 34.3L93.2 37.1L92 37.3L90 37.2L88.6 36.6L88.6 35.1L89.7 33.4L92 33.5ZM132.4 107.6L131.4 107.7L129.8 106.4L130.7 105.2L131.6 104L133.1 104.3L133.5 105.7L133.1 106.9ZM95.6 38L94.6 37.3L94.9 36.3L95.6 36L96.7 36.4L96.1 37.4ZM48.9 54.5L48.1 53.9L47.8 52.2L48.8 51.6L50.2 52.2L50.4 53.4ZM58.2 56.7L56.7 55.3L58.9 53.9L60.1 53.7L61.4 54.3L63.3 56.2L60.7 58.8L59.2 58.3ZM76.6 181.9L77.2 183.6L78.6 185.4L76.3 186.3L74.9 186.8L73.1 187L72.7 183.9L73.3 182.4ZM77.2 119.7L76.9 121.5L75.5 122L73.5 122.3L73.1 120.6L73.1 119L74.5 118.7L76.2 118.2ZM81.4 144.2L80.4 143.9L80.2 142.2L82.1 141.1L83.1 142.3L83.2 144.1ZM76.9 107L77.8 107.9L79.5 108.4L79.2 109.7L77.9 111.3L77.2 111L76.3 110L75.9 108.3ZM152.3 79.7L153.5 78.9L156 79.2L155.7 80.6L156.4 82.4L154.5 83.6L152.8 82.2L152.4 81ZM166.6 128.2L168.4 130.1L169.2 131.4L166.9 133.7L164.9 132.8L163.3 130.7L164.4 129L165.7 128.4ZM64.8 137L65.6 135.2L66.7 135.4L67.2 136L68.5 137.3L67.2 138.2L65.4 139L65.1 137.5ZM113.2 91.4L115.1 90.9L116.7 92L117.6 93.3L116.4 95L115.5 96.1L113.9 95.5L113.1 93.1ZM48 41.3L48.7 39.5L49.9 39.5L51.8 39.9L50.7 41.9L49.6 42.6ZM154.5 140.7L153.3 141.4L152.3 141L152.1 140L153.2 139.1L154.3 139.6ZM133.7 88.7L134 87.3L134 86.1L136.3 85L136.9 86.3L138.5 87.6L137.8 89L136.1 89.3ZM86.2 6.2L84.9 7.7L84.2 6.8L84.1 5.3L84.6 4.6L85.7 5ZM68.9 72.1L69.3 70.5L70.5 69.4L71.8 70.1L71.5 71.5L70.9 72.5ZM159.5 51.2L160.4 49.8L161 48.4L162.6 49.5L163.3 50.7L162.7 51.7L161.7 52.9L160.4 53.1ZM173.6 104.1L171.2 104.1L171.3 101.9L172.6 100.8L173.5 99.6L176 101.1L176.4 102.9L175.7 104.7ZM135.6 95.3L137.2 96L138.3 96.6L137.3 98.6L135.7 99.8L134.9 98.7L134 97.7L133.9 95.5ZM87.6 188.7L89.3 188.8L91.5 189.8L90.4 191.6L89.9 193.5L87.8 193.9L85.8 191.7L86.1 189.6ZM171.2 34.5L172.2 37.2L170.8 38.1L169.2 40.1L168.1 38.5L167.6 37.1L167.3 34.2L169.8 34.6ZM1.4 76L2.6 76.6L2.9 77.4L2.5 77.9L1.4 78L1.4 76.9ZM93.6 86.1L94.8 87.2L95 88.4L94.1 89.7L92.3 89.9L91.2 87.9L90.9 87.1L92.1 86ZM59.8 48.3L59.8 46.2L61.1 45.6L62.3 46.7L62.7 48.7L60.7 49.3ZM128 115.3L127.5 114.7L126.9 113.2L128.6 112.3L129.6 112.8L130.6 113.7L131.2 115.1L129.5 116.1ZM152.8 120.6L151.9 120.7L151 119.2L152.3 118.1L153.7 118.8L153.4 119.9ZM73.4 39.2L70.3 38.7L69.9 37.4L69.4 35.7L71.8 34.4L72.4 34.7L74.8 35.5L73.8 38ZM21.4 63.7L19.9 65.1L17.7 64.8L17.8 63L18.8 61.8L19.2 60.8L21 61.6L21.3 62.6ZM160.1 32.6L159.5 34.1L158.6 34.4L157.3 33.9L157.9 33.1L158.4 32ZM39.8 170.7L39.1 167.6L38.8 166.3L41.6 166.3L43.3 166L44 168.6L42.8 169.6L41.9 171.3ZM4.1 21.3L3.9 20L4.6 18.7L6.2 19.2L5.9 20.4L5.1 21.1ZM8.2 145.5L9.4 143.6L10.6 142.1L11.9 143.3L13.4 144.9L12.7 145.6L10.7 146.8L9.3 147.3ZM49.1 149.4L49.2 150.7L48.8 152.8L47.9 152.1L46.1 151.4L47 149.7ZM83.8 36.9L82.6 38.5L82.7 40.3L80.4 41.3L79 38.7L79.2 37.2L80.1 36.5L82.3 35.3ZM186 54L186.5 56.3L185.3 57.4L183.6 57.8L183.3 56.5L182.7 55.2L183.6 54.6L184.7 54.4ZM86.1 75.6L86.9 76.2L86.7 78L86.1 79.9L83.8 79L82.5 78.5L82.6 75.6L83.8 75.6ZM88.3 37.1L86.6 36.3L88.3 35L89.1 34.7L90.7 35.8L90 37.3ZM137.8 88.2L137.5 85.8L138.8 84.2L141 84.4L141.8 85L142.1 87.7L140.7 88.6L139.1 88.9ZM78.5 85.3L79.6 85.4L80.1 86.3L79 87.7L77.7 87.1L77.4 85.6ZM180.6 111.5L181.5 112.1L182.3 113.3L180.4 113.7L179.2 113.2L179.5 111.5ZM83.4 32.7L84.7 31.1L86.4 31.4L86.5 33.2L85.9 34.4L83.9 34.3ZM101.1 65.8L102 64.3L102.2 63.6L103.9 63.7L105.2 63.4L104.8 65.6L104.7 66.8L102.6 67.2ZM56 173.3L57.3 173L57.8 174.7L57.3 176.7L56 177.1L54.5 176.4L54.8 175L55.1 174.2ZM118.9 39.7L116.6 38.5L118.3 36.8L119.8 36.4L120.7 36.4L122.3 37.8L121.8 39.9L120.6 41.1ZM10 27.7L9.5 26.8L10.1 25.4L11.3 26.1L11.7 26.8L10.9 28.1ZM39.3 34.3L40.5 34.7L42 35.3L41.1 37.1L39.5 36.8L39.2 36ZM81.8 172.2L82.6 173.9L81.9 175.1L80.4 174.8L80 173.7L80.2 172.4ZM85.4 173.4L84.8 172.5L84.7 171.5L85.8 170.8L86.9 171.6L86.7 172.7ZM167.3 162.1L168 163L167.8 164.5L166.6 164.1L165.8 163L166.1 161.9ZM49.4 101.1L47.7 103.1L46.4 101.2L44.8 100.5L45.4 97.9L48.1 97L49.2 97.3L49.5 99.9ZM169 34.8L168.4 34.8L167.6 33.7L168.4 33.2L169.2 33.1L169.9 33.8ZM84.2 7.9L84 5.9L83.6 4.9L85.3 4.6L86.7 4.2L86.8 5.7L86.8 7L85.4 7.1ZM63.1 35.3L63.5 36.8L62.7 37.9L61.8 38.5L61 36.8L61.3 36.2ZM55.8 59.9L55.2 57.7L57 56.7L58.1 57.5L59.3 58.6L59.7 59.9L57.8 61.3L55.8 61ZM62.2 47.9L61.2 47.5L60.7 46.7L61.8 46L63 46.1L63.2 47.1ZM171.2 68L170 68.5L168.4 67.9L168.8 65.9L169.4 65.2L171.4 64.9L172.4 64.9L173.6 67.4ZM190.4 100.9L189.3 102.2L187.6 102L187.2 99.7L189.2 99.2L190.5 99.9ZM75.1 34.1L74.7 34.7L72.9 35L73 32.9L73.9 31.8L75.6 32.7ZM94.6 29L95 27.2L96.8 26.4L97.6 28.2L98.7 28.5L97.1 30.1L95.9 30.5L95 30.2ZM169.4 88.3L169.9 87.2L171 87.4L170.9 88.7L170.7 89.8L169.3 89.4ZM148.1 108.9L147 108.4L146.6 106.8L146.8 105.4L148.5 106.3L149 107.4ZM24.1 43.3L24.8 43.2L25.2 44L25.2 44.9L24 44.8L22.9 44ZM33.1 187.2L34.8 186.6L36 187L37 187.9L38 189.4L35.8 190.9L34.1 190.3L32.5 188.8ZM136.7 60.2L135.7 60.8L134.3 59.4L134.9 57.6L135.9 57.7L137.3 56.9L137.5 58.2L137.7 59ZM173.7 116.2L175.2 115.8L175.2 117.5L175.2 118.7L173.5 117.8L172.9 117ZM189.6 59.2L189.2 58.4L189.4 57.6L190.3 57L190.9 58.2L190.5 59.4ZM37.6 71L36.7 69.6L37.5 69.1L39 68.9L39.4 70.2L38.8 71.7ZM125.9 162.4L125 163.7L123.8 162.6L123 162.3L123.7 160.8L124.1 159.8L125.5 159.8L126.2 161.1ZM92.4 138.8L92.3 137.5L93.8 136.8L95.5 137.4L95.5 139.2L94.1 139.3ZM125 56.2L126.3 55.4L127.4 57.3L126.3 58.8L125.2 58.3L124.7 57ZM116.9 66.1L118.2 65L120.8 64.9L120.3 66.6L120.6 68L118.6 69.1L116.6 68.6L116.6 66.8ZM108.3 152.1L107.2 153.8L105.3 153.3L103.2 152.2L104 149.9L104.7 148.1L107.6 149L108 149.9ZM142.8 49.8L145.2 47.8L145.8 49L146.4 51.4L146.6 53L143.6 53.6L142.6 53L140.6 51.5ZM77.6 110.9L76.3 111.4L75.4 111.8L73.6 111.4L74.2 110.2L75 108.9L75.8 109.2L77.5 109.1ZM78.5 23.1L75.9 24.4L74.4 23.8L74.4 21.6L74.4 19.9L76.5 19.9L78 19.1L79 20.9ZM52.8 33.8L50.8 32.9L51.1 31.2L53.1 30.7L54.8 30.8L55.5 31.5L55.6 34L53.8 33.6ZM80.1 77.4L81.7 79.7L82.8 81.6L81.4 82.4L79.6 83.2L78.2 82.1L76.2 81L77.7 78.6ZM68.7 67.3L69.7 68.9L68.4 70.3L66.8 70.6L65.8 69.9L64.8 68.2L65.7 66.9L67.3 65.7ZM147 33.5L147.3 31.7L147.2 30L148.6 29.5L149.7 29.3L150.7 31.4L150.8 32.9L148.9 34.2ZM92.7 115.3L91.5 115.2L90.4 113.9L91.9 113L93.4 112.5L93.9 114.3ZM88.4 132.4L88.6 131.2L90.1 130.4L91.3 131.1L91.4 132.2L90 132.6ZM53.6 36.4L54.5 35.9L56.3 36.1L56.4 37L57 38.7L55.1 38.9L54.1 38.5L53.3 37.9ZM114.2 112.7L116.1 112.5L115.9 114.5L115.2 115.7L113.3 114.6L112.4 112.7ZM68.7 69.2L69.3 67.8L69.9 67.5L70.8 68.2L70.8 69.2L69.7 69.4ZM96.2 185.6L95.6 186.3L94.5 186.7L93.5 185.8L93.8 184.6L95.1 184.8ZM180 127.8L181.4 126.7L182.8 126.5L183.5 126.7L184 128.6L183.3 129.5L182.5 130.1L181 129.6ZM5.8 44.5L4.6 45.5L4.1 44.7L4.1 43.7L5 42.7L5.8 43.5ZM182.7 102.3L184.3 103.6L186.2 105.1L186 106.4L183.3 107L181.7 108.1L181 105.4L180.6 103.7ZM74.2 99.6L73.2 100.6L72 101L71.3 99.7L71.7 98.9L72.8 98.7ZM108.7 191.6L107.8 190.8L108.6 189.3L109.9 189.5L110.6 190.2L109.9 191.3ZM145.6 70L143.5 70.3L141.6 70.3L140.2 68.7L139.3 67.1L142.1 66.4L144.4 65.6L145.3 67ZM68.8 58.1L69 59.5L67.4 60.6L66.5 59.2L65.9 58L67.8 57.3ZM181.8 113.5L183.2 113.9L183.4 114.7L183 116.1L182.3 115.7L181.5 114.7ZM114.6 115.3L113.8 114.2L115.2 113.3L116.2 113.6L117 115L116 115.6ZM106.5 94.5L106.7 91.9L106.7 89.8L108.7 89L110.2 90.4L112.2 91.6L110.7 93.5L109.3 94.3ZM120 106.5L121.6 107.8L121.4 109.3L121.2 110.6L120.6 111.4L118.6 110.3L117.5 109.9L118.5 107.6ZM95.9 34.6L95.8 35.9L94.5 37.7L93.6 36.8L92 36L92.1 33.2L93.7 32.2L95.6 33.4ZM123.1 71.4L120.5 69.7L121.1 68.6L121.2 67.2L123 66.8L124.7 66.6L124.9 67.9L124.2 70.3ZM186.1 117.9L186.6 116.9L188.2 115L189.8 116L189.9 116.9L190.6 118.7L189.8 119.9L187.1 119.4ZM169 142.8L168.3 143.9L166.9 143.6L165.9 142.1L167.3 141.1L168.3 141.4ZM51.1 20.8L49.5 19.5L49.5 17.2L50.1 16.2L52 15.6L53.9 16L53.9 18.3L52.7 19.6ZM18.8 43.1L18.9 44.6L17.2 45.1L15.8 44.4L15.9 42.7L17.5 42.1ZM59.8 59.5L58.6 59.6L57.4 58.8L57.7 57.8L59.3 57.4L60.1 58.2ZM54.8 62.3L55.1 60.6L55.9 59.5L57.5 60.3L57.6 61.8L56.5 62.7ZM84.5 84.7L83.2 85L81.1 84.7L81.4 83.1L81.7 81.5L82.8 80.1L84.5 81L86.4 82.5ZM132.9 50.9L133.5 52.5L132.2 53.1L131.2 52.4L130.6 51.6L131.8 51ZM149.7 141.5L150.2 139.3L151.8 139.3L153.2 140.2L154.1 141.9L153.1 143.8L151.4 143.8L149.6 142.7ZM93 176.4L91.3 177L90.1 176.3L88.1 174.4L90 173.1L91 172.1L92.1 172.9L93.2 173.6ZM56.7 99.3L57.2 97.4L58.8 98L59.7 99.3L58.9 101.2L57.7 100.7ZM98.3 150.1L97.6 151.2L96.9 152L95.5 152.5L93.9 151.1L95 149.6L96.4 148.5L97.8 148.6ZM100.6 151.1L102.4 150.7L103.5 152.3L102.2 153.2L100.9 153.5L100.4 152.5ZM111.1 29.1L112.5 31L111.7 32.5L110.4 32.3L108.3 33.5L107.6 31.8L107.7 30.4L109.6 28.8ZM33.6 59.6L35.6 60.1L35.9 62L34.4 63.8L32.3 63L31.2 61.5L31.9 60.5L32.8 58.4ZM145.8 38.1L145.2 38.6L142.9 38.7L142.1 36.5L143.1 35.4L144.1 34.7L145.9 35.6L146.3 37.1ZM74.7 103.6L73 105.2L71.9 104.2L71 102.1L71.8 100.7L73.2 100.9L74.8 101.2L75.2 102.9ZM124.7 28.8L126.2 29.7L126.7 31.4L125.3 32.7L122.9 32.2L121.3 31.3L122.6 29.5L123.3 29ZM61.8 54.1L60.8 52.4L60.1 50.4L61.9 50.3L63.3 50.1L65 51.7L64 52.6L63.3 53.2ZM34.6 112.5L35.1 113.8L35.2 115.2L34.5 116.7L31.7 115.9L30.8 114.9L31.1 112.4L32.2 111ZM109.1 158.5L108.3 159.7L106.7 161.7L105.8 160.1L105.3 158.5L105.3 157L107 157.1L108.3 156.8ZM106.3 107.3L106.4 108.8L105.1 110L102.2 109.5L100.9 107.6L102.7 105L103.8 104.4L106 104.4ZM155.7 133.6L157.4 134L158.6 136.6L158.4 137.6L157.6 139.8L155.7 139.7L154 138.1L153.5 135.8ZM60.5 146.4L59.1 143.6L61.4 143.3L63.8 142.7L64.1 143.9L63.6 146.1L63.5 147.2L60.1 148.3ZM89.5 12.2L88.9 10.5L89.9 9L91.7 9.3L92.2 10.2L91.5 11.8ZM184 32.8L183.9 31.6L184.6 30.4L186 30.6L186.4 31.9L185.6 33.3ZM160.4 87.5L161.8 87L162.7 89.2L162.7 90.5L161.2 92.4L159.5 92.1L158.8 90.7L159 88.9ZM70.4 34.1L70.6 32.6L70.7 30L72.5 29.3L74.1 30.6L74.7 31.4L75.6 33.6L72.8 34.9ZM146.3 39.5L145.9 40.3L144.9 41.9L143.8 41.1L142.9 40.2L142.8 38.1L144.6 37.2L145.6 38ZM146.3 143.2L145.7 142.8L145 140.1L146.1 139.2L148.6 139.9L149.7 140.3L149 142.3L147.8 143.9ZM106.2 167.9L105.9 167.1L106.9 166.5L108.3 166.3L108.5 167.8L107.2 168.3ZM9.7 91.5L8.9 92.1L7.4 92.3L7.3 91.3L8.1 90.3L8.9 90.3ZM188.5 36.5L189.6 36.5L191.3 36.9L192.6 38.5L192 40.3L189.8 41.1L188.1 40L188.3 38.2ZM15.8 89.8L16.6 90.7L15.8 91.6L15.1 91.8L13.7 91.1L14.5 89.6ZM170.9 25.2L169.6 24.4L170.2 22L172 22.1L173.3 23.2L173.9 24.1L173.8 25.9L172.1 26.3ZM38.6 128.8L39.9 129.4L40.9 130.6L40.5 132.1L39.5 132.8L38.5 133L37.8 131.6L36.9 130.5ZM148.4 64.1L147.9 62.3L147.7 60.8L149.3 60.5L151 61.3L151 62.2L151 63.8L149.6 64.1ZM105.4 112.9L104.5 112.3L104.8 111.4L105 110.4L106.4 111.2L106.4 112.2ZM166.5 87.9L164.9 87.3L164.8 86.3L165.5 85.5L166.6 85.7L166.8 86.8ZM76.4 42.3L76.4 41.2L77.9 41L78.6 42.3L78.1 43.1L76.6 43.3ZM185.8 68.7L188.7 69.6L187.8 71.5L187.1 72.6L185.1 74.7L184.2 72.6L183.9 70.9L184.4 69.1ZM58.1 136.6L57.4 138L56 138.6L54.6 138L54.9 136.1L55.3 135.1L56 133.9L57.2 134.9ZM144.2 70.8L142.3 69.2L143 67.5L144 66.9L145.7 66.4L146 67.8L147.1 68.6L145.6 70.2ZM77.1 186.3L77.9 187.8L76.7 188.5L75.5 188.2L74.9 187.1L75.7 186.3ZM121.2 9.9L120.9 8.3L121.8 7.6L123.1 7.7L123.6 10L122.2 10.2ZM101.9 68L101.4 66.5L101.9 64.7L104.1 65.1L104.5 66.9L103.6 68ZM83.1 35.4L84.7 36.4L84.8 37.8L83.8 38.8L82.4 39.6L80.5 38.4L80.7 36.2L82.2 35.6ZM119.4 42.7L120.8 44.1L120.2 45.5L118.8 46.2L118.4 44.9L118.1 43.6ZM104.4 92.8L102.7 92.5L101.5 92.5L101.1 91.2L101.9 89.8L103.2 89L104.3 89.4L104.1 91.2ZM162.1 138.3L163.2 138.8L163.2 140.4L162 140.9L160.8 140L161.2 139.1ZM67.6 40.4L68.8 39.4L70.1 39.8L69.8 42.2L69.5 42.8L68.4 43.3L67.1 42.9L66.4 41.7ZM42.3 169.6L42.4 168.6L42.9 167.7L44.2 167.4L45 169.3L43.8 169.4ZM107.7 23.9L108.8 25.2L110.1 25.9L108.9 27.6L107.7 28.4L106.2 27.2L106 26.5L106.8 24.8ZM126.3 115L127.9 115.1L130 115.4L129.6 117L128.6 119.8L127.5 119.5L124.9 118.3L125.8 116.6ZM127.8 116.3L126.9 115.1L127.5 112.9L128.8 112.8L130.4 113.9L129.6 115.3ZM147.3 124L149.5 124L150.8 125.9L150.6 127.2L149.5 128.1L148.2 128.6L147.2 127.9L146.8 125.9ZM89.9 95.9L88.7 96.1L88.3 95.5L88.7 94.4L89.6 93.9L90.5 94.8ZM191.4 29L189.2 29.2L189.4 27.5L190.6 26L191.4 25.4L193.7 25.9L193 28.2L192.5 29.3ZM145.5 53.1L144.4 54.1L143.1 53.4L142.9 52.4L143.2 51.3L144.4 51.7ZM159.3 95.7L158.6 96.5L157.5 96L156.1 95L156.1 93.2L158.3 92.9L160 92.6L160.8 94.2ZM97.2 69.1L96.4 70.1L95.6 69L94.2 68L94.9 66.9L95.8 66.5L96.9 66.6L97.6 67.7ZM17.3 24.1L15.4 23.5L15.8 22.2L16.2 20.1L18.4 19.9L20.4 20.1L21.3 22.4L19.3 25.6ZM118.1 90.7L117.4 92.4L116.4 93.8L115.1 93.3L114.2 93L114.7 91.4L115.7 90.4L117 89.9ZM111.5 36.2L110.7 37.6L109.3 36.4L107.6 36.2L108.6 34.2L109.7 32.9L111.8 33.5L112.4 34.7ZM100.2 74.3L101.5 72.8L102.7 73.5L102.7 74.5L102.2 75.6L100.7 75.2ZM109.2 66.4L109.5 68.5L109.5 70.5L106.8 71.4L106 69.7L105 68.9L105.8 67.2L107.1 66.8ZM108.9 86.5L110.5 86.8L110.5 88.2L109.7 88.8L108.6 88.8L107.9 87.9ZM11.5 148L11.2 145.8L11.6 144.7L13.2 143.2L14.2 144.3L15.8 145.2L15.1 147.5L12.6 147.1ZM46 56.4L47.8 59L47.4 60.9L45.8 61.5L43.9 61.1L42.3 60L42.6 57.3L44.7 56.4ZM153.5 126.5L153.8 128.1L151.8 128.3L150.1 128.2L150.4 125.8L152 124.9ZM58.5 181.4L59.9 182.8L60.7 183.7L59 185.5L57.3 186.6L56.9 185L56.1 183.4L56.9 180.8ZM162.9 155L162.8 153.9L164.2 153.9L164.9 154.4L165.1 155.4L163.7 155.8ZM22.2 1.8L22.4 2.7L21.8 3.9L20.5 3.8L19.9 2.8L21.1 1.8ZM7.5 32.2L6.5 31.5L7.2 29.7L9 30L9.3 31.3L8.7 32.1ZM65 140.3L63.8 139.8L63.9 138.3L64.9 137.2L66.9 138.6L66.8 139.9ZM96.1 165L96.6 165.7L95.2 167.6L93.6 168.8L92.7 167.3L92.2 166.3L92.1 164.8L94.1 164.5ZM42.2 83.1L43.4 82.3L44.3 83.3L44.8 84.1L43.7 85.6L42.4 84.7ZM157.9 124L159.3 124.4L160.4 124.7L160.1 126L158.8 126.5L157.8 125.2ZM104 191.5L103.1 189L103.9 187.3L106.8 186.1L107.9 188.1L108.4 189.3L108.3 191.4L106.3 191.9ZM161.5 142.5L162.5 142.7L161.9 144.4L160.6 144.8L159.2 144.2L159.8 142.8ZM184.1 132.1L182.7 132.4L181.9 131.7L182.8 130.6L184.2 130.1L184.9 131ZM172.9 106.7L174.9 107.4L174.8 108.3L173.2 109.9L171.4 110L170.6 109L171.3 107L172 105.9ZM186.6 107.3L187.7 108.2L188.1 110.2L185.3 110.9L183.5 111L182.6 109.9L183.8 107.5L184.6 107ZM94.7 81.1L95.3 82.1L95.9 83.5L94.6 83.5L93.7 82.9L93.9 82ZM145.6 71L144.5 70L144 69L143.8 67.2L145.9 66.2L147.3 67L147.5 68.2L147 69.6ZM151.2 74.4L153 74.4L152.8 76.4L151.8 77.6L150.2 76.2L149.8 74.8ZM106.5 169.4L105.1 169.2L105.3 168.1L106.7 167.3L107.7 167.7L107.2 169.3ZM105 41.8L102.8 42.3L101.9 41.6L101.1 40.1L101.2 37.9L103.8 37L105.3 37.7L106.1 39.3ZM165 134.9L166 135.2L167.1 135.9L166.6 137L165.2 137.3L164.4 136.1ZM186.3 27.1L185.3 27.1L185 25.7L185.6 24.6L187.3 24.8L187.1 26ZM77.4 187.8L75.5 189L73.7 188.1L73.3 187.2L72.8 185.4L75.2 184.5L76.5 185.3L77.6 186.4ZM86.1 176.8L86.9 176L87.8 175.2L89.8 176.2L89.5 177.7L87.6 178.2ZM108.4 41.9L109.1 40L111 40.2L111 42.4L110.5 43.4L108.6 42.8ZM44.8 59.8L44.2 60.9L43.2 60.5L43 59.5L43.4 58.2L45 58.6ZM111.5 37.4L111.3 36.3L112 35.7L113.3 35.7L113.6 36.7L113 37.3ZM152.4 57L151 57.2L151 55.3L152.2 55L153.5 55.5L153.5 56.7ZM76.7 154.8L77.6 156.1L77.1 157L76.3 157.2L75.5 156.8L75.7 155.6ZM81 45.1L79.4 44.6L78.5 44.1L78.8 42.1L79.9 41.3L82.2 40.8L82.8 42.5L82.7 44.3ZM48.5 172.1L47.4 171.5L47.1 170.8L47.7 170L49.1 170.2L49.5 171.1ZM60.8 149.2L60.1 149.7L58.3 149.3L56.6 147.5L57.4 146.3L59.7 145.4L61.4 145.4L61.1 148.1ZM117.7 93.3L115.8 92.6L115.8 91L117.9 90.4L119.6 90.3L119.8 91L119.8 92.4L119.2 93.3ZM71.7 139.1L72.5 138.2L73.4 139.1L73.5 140.4L72.5 140.6L71.9 140ZM67.7 125L69 126.6L68.4 127.2L66.7 128L65 126.9L64.2 125.8L64.8 124.5L66.6 123.2ZM116.6 81.1L115.8 81.2L114.5 80.9L113.9 79.2L115 78L117 78.5L118.3 78.6L118.6 80.7ZM59.1 90.8L57.6 88.9L59.3 86.6L60 84.8L61.8 85.1L63.6 87.7L62.1 88.9L60.7 89.7ZM182.2 110.7L183.2 111.4L182.8 112.6L182.3 113.7L181.1 113.8L180.3 112.8L180.5 111.9L181 111.2ZM161.8 101.6L163.2 103.5L161.2 104.4L160.3 105.7L159.3 104.2L158.2 102.9L158.3 101.3L160 101.7ZM76.5 76L77.9 77L75.9 78.1L75.1 79.1L73.5 77.5L73.6 76.5L75.1 75.5L75.7 75.4ZM34.8 57.4L33.4 59.7L32.1 59.7L30.9 57.9L31.5 56.5L33.4 56.8ZM153.5 39.5L154.3 40.5L153.8 42.4L151.9 42.8L150.4 42.7L151 40.9L151 39.6L152 38.8ZM112 131.7L111.1 132.6L109.8 132.1L109.5 131L110.4 130.1L111.9 130.2ZM169.6 60.5L167.3 60.5L167.4 59.2L167.4 57.7L169.5 57.6L170 59.2ZM73.8 179.8L75 179L76.6 178.9L77.2 180.6L77.6 181.9L76.6 183.2L75.1 183L74 182ZM167 113L166.9 114.6L165.6 115L164.8 113.7L164.5 112.2L166.8 112.2ZM179.2 107.9L178.6 105.4L180 105.6L182.4 105.2L182.8 106.9L183.3 108.5L180.8 110.3L179.8 109.7ZM184.1 29.3L183.3 30.1L182 30.3L180.8 29.2L181.3 27.7L183.6 28ZM150 114.4L149 115.4L148 113.9L147.8 113L149.1 112.4L150.5 112.8ZM63.7 39.4L61.5 39.9L61.1 38.7L61.1 37.3L62.2 35.4L63.5 36.2L64.9 36.3L64.9 37.9ZM161.8 141.4L162.8 141.1L164.1 141.9L163.6 143.1L162.3 144.2L161.7 143ZM86.2 20.2L84.4 21.8L82.6 20.5L81.3 18.7L83.1 16.6L84.9 16.6L86.7 17.4L86.8 19ZM189.2 159.9L187.6 158.8L187.9 157.2L189.1 156.9L190.5 157.3L189.8 158.6ZM181.1 115.2L182.1 115.1L183.6 116.4L183 117.3L182.1 118.2L180.4 118.8L179.2 116.8L179.8 115.1ZM169.3 90.1L168.2 91.5L166.1 90.8L166.1 89.5L166.3 87.3L167.6 87.9L169.3 88.3L169.4 89.5ZM189.5 67.8L191.1 68.3L192.5 68.9L191.3 70.9L190.1 70.5L189.6 69.6ZM89 104.7L88.3 106.1L86.8 107L86.4 105.5L86.6 103.8L88 104.2ZM86.6 185.6L88 186.8L87.4 188.8L85.3 190.1L84.5 188.3L84.1 186.9L84.2 186L85.7 184.3ZM23.3 15L20.5 14.8L18.2 14.9L18.7 12.9L19.2 11L20.4 10.8L22.1 11.4L23.5 12.7ZM98.5 165L99.8 164.3L102.3 163.5L103.4 165.1L103.4 166.6L101.6 167.1L100.7 167.2L99.2 166.2ZM188.6 28.9L188.1 27.6L189.6 26.8L190.2 27.9L190.6 29.3L189.6 29.6ZM99.2 106.6L97.7 106.5L96.7 106.1L95.8 104L96.8 102.9L98.7 102.1L100.3 103.7L100.1 104.9ZM48.3 32.2L48.4 32.8L47.4 33.5L46.4 33.4L46.3 32.3L47.1 31.5ZM149.4 122L149.2 123.4L146.2 123.3L144.7 121.2L146.5 120.2L147 117.9L149.1 118.3L150 120.6ZM150.7 31.5L151.7 30.8L153.3 30.5L153.8 32.6L153 33.6L151.2 33.5ZM117.3 44.3L116.9 42.7L117.9 40.4L120 40.7L122.1 40.6L123 42.2L121.7 43.6L119.6 45.7ZM30.6 35.7L31 34.8L31.3 33.4L32.9 33.8L33.1 35L32.2 36.7ZM117.7 101.3L118.7 100.1L120.9 99.6L121.7 101.1L120.8 102.1L120 103.2L118.4 104.4L116.7 102.5ZM157.3 121.8L156.3 121.6L155.9 120.5L156.9 119.4L157.9 120.2L158.4 121.6ZM29.6 119.4L30.4 120L31.1 121L30.4 122L28.6 121.4L28.8 120ZM22.2 102.2L19.8 101.4L19.2 101.3L18.3 99.4L19 97.7L21.4 97.1L22.4 98.9L23.7 100.4ZM61.5 159.8L62.1 158.4L64.5 158.8L64.3 159.9L64.1 162.2L62.6 162.4L61.8 163.3L60.6 161.4ZM90 26L89.6 24L90.5 23.1L91.8 23.5L92.3 25.1L91.9 26ZM154.6 53L153.2 53.1L152.1 51.3L153.2 49.5L153.7 47.5L156.3 49L157.7 50.7L156.1 52.3ZM60.2 118.4L58.6 116.7L58.8 114.8L59.2 113.2L60.7 112.7L62.2 113.8L62.3 115.8L61.5 117.4ZM78.5 126.7L77.3 126.1L76 126.2L76.2 124.7L77.1 122.9L78.4 123.8L79.3 123.7L79.1 125.7ZM89.4 172.2L89.3 174.3L87.8 173.5L86.5 172.9L85.8 172.1L87 170.5L87.8 170.1L89 170.7ZM137.9 62.8L139.3 63.6L140.1 64.9L138.8 65.7L137.3 65.7L137.5 64.4ZM70.9 20.8L72.1 20L73.8 20.9L74.4 21.9L74.4 24.3L72 24.6L71.4 23.8L69.8 22.5ZM184.6 121.1L183.1 120.4L182.6 118.5L183.9 117.1L184.5 115.7L185.7 116.9L187.1 118.3L186.5 120.3ZM139.1 163.4L140.4 162.8L141.6 163.9L140.5 165.5L138.9 165.5L138.4 163.9ZM167.5 161.4L168.9 161.2L169.8 161.1L170.9 163L170.3 163.5L168.7 165.2L167.4 164.8L166.6 162.8ZM93 147.6L93 144.5L94.8 143.4L96 144.4L98.3 145.1L97.7 146.7L97.6 148.6L95.3 147.5ZM18.2 59L16.9 57.6L18.4 57.2L19.2 57.2L20.4 58.4L19.2 59.7ZM95.6 180.7L94.2 181.7L93.8 180.5L94.2 179.4L94.9 179.4L96.1 180.2ZM50.8 30.6L52.5 31.8L52.8 33.8L52.1 34.5L50.1 34.8L47.9 34.8L48 33L47.9 30.9ZM42.6 36.1L43.7 34.8L45.2 34.4L46.5 36.4L45.6 37.9L43.3 37.7ZM165.5 138.3L165.3 137.6L166 137.1L167.4 137.2L167 138.3L166.1 139.2ZM4.1 160.9L5.1 160.6L6.2 160.9L6 162.5L4.9 162.4L4.3 161.7ZM45.1 62.7L43.5 61.1L43.6 59.5L45.2 58.5L46.1 57.4L47.6 60L47.8 60.8L46.5 62.2ZM80.1 74.5L80.1 75.5L79 75.5L77.9 75.4L77.3 74.3L77.9 73.2L78.7 72.2L80.5 73.5ZM69 70.9L67.5 72.4L65.8 73.9L65.1 72.9L64.8 71.2L64.6 69.7L66.6 69L67.8 70ZM132.8 102.7L131.2 104L130.4 103.5L130.3 102.2L131 101L132.7 101.8ZM91 176.1L90 175L91 173.8L92.2 172.4L93.7 173.8L95.2 175L94.1 177L92 177.8ZM66.1 133.8L64.9 133.7L63.7 133L63.6 130.2L64.8 130.3L67 129.9L67.1 131.2L67.8 133.4ZM88.4 189.6L87.5 190.6L85.9 191.1L85.2 189.3L84.9 187.4L86.9 186.2L88.2 186.6L89.6 188.1ZM109.1 67.3L109 68.4L108.3 69.5L106.7 69.3L105.9 67.7L106 66L107.8 64.9L108.7 66.3ZM143 65L144.8 65.5L145.6 66.4L144.7 68L143.5 68.3L142.9 67ZM34.7 98.1L34.9 95.9L36.2 95.5L38.8 93.8L39.3 95.9L40.1 98.1L38.3 100.1L36.8 99ZM40.9 66.5L39.3 66.7L39.1 65L40.5 63.8L41.7 64.2L41.4 65.4ZM103.4 28.5L103.6 29.5L102.2 30.7L100.7 31L100.2 29.4L100.5 28L100.9 27.3L102.5 28ZM91.6 91.7L90.2 92.5L88.8 90.6L88.8 89.3L90.6 87.7L92.8 87.8L93.2 89.7L93.4 91ZM88.9 179L87.6 180.7L86.4 180.4L85.5 179.3L84.3 178.2L86 176.9L87.4 176.5L88.5 178.2ZM150 130.4L149.6 130.8L148.2 131.6L147.2 130.6L146.7 129.4L148.1 128.3L149.9 127.6L151.2 129.1ZM100 149.1L99.2 150L98.2 149L97.6 148L99.1 147.5L99.7 147.8ZM70.9 178.1L71 176.7L72.6 177L73.7 178.3L72.9 180.2L71.1 180.1ZM167.3 85.1L166.1 85.4L165.1 83.7L165.9 82.9L166.6 81.8L167.7 82L168.5 83.5L168.3 85.4ZM66.8 138.2L65.9 139.8L63.1 139L63.9 137.2L63.9 135.4L65.4 134.5L66.7 136.4L67.1 137.2ZM58.7 143.5L60.1 143.8L61.6 144.7L62 146.1L60.3 146.9L58.5 145.2ZM10.9 0.1L13 -1.6L14.2 -0.1L15.6 0.5L14.7 1.9L13.8 3.8L11.8 2.7L10.8 0.8ZM79.4 23.9L78.2 23L77.6 21.2L79.3 21L80.4 21.5L80.8 22.8ZM70.7 26.3L70.3 28.5L68.2 28.7L67 27.5L66 25.7L66.4 24L68.8 23.8L70.7 23.9ZM168.1 97.1L168.9 97.7L168.5 99.6L165.9 99.7L164.4 99.3L164.4 97.8L165.3 95.5L166.8 96.2ZM134.6 114.9L133 114.9L132.9 113.1L134.3 112.4L135.2 113.1L136.2 114.5ZM185.8 102.4L186 100.8L187.7 100.7L188.8 102.2L187.8 102.7L186.3 103.4ZM88.8 181.8L89.9 180.4L90.7 182.1L92.1 182.8L90.4 184.1L88.9 185.4L87.6 183.8L88.2 182.4ZM85.7 71.2L85.6 70.3L87 70.4L87.9 70.6L87.4 72.2L86.4 71.9ZM72.4 168.9L73.4 167.8L75.1 168L75.6 170.5L73.7 170.5L72.2 170ZM75 104.8L75.1 105.9L74.2 107L72.9 106.7L72.2 106.2L72.4 104.5L73.1 103.8L74.5 104ZM75.7 96.2L74.4 96.1L72.8 94.9L72.7 93.7L72.9 92.8L75.4 91.9L76.1 92.5L76.4 94.8ZM94.4 37.8L95.5 37.9L96.7 38.6L95.6 40.1L94.1 40L93.4 38.9ZM161.5 44.7L160.9 46.1L160.2 45.3L159.8 44.4L160.4 43.5L161.6 43.7ZM130.1 73.4L128.8 72.5L129.4 71.3L130.6 71L132.1 71.6L131.7 72.8ZM51.6 159.8L52.2 161.2L51.3 161.7L50.2 161.7L49.5 160.4L51 159.1ZM142.8 107.3L142.1 106.7L141.6 105.1L143.4 105.1L144.6 105.5L144.5 107ZM191.2 68.1L192 70.8L191.9 72.3L190.2 73.8L188.3 72.2L187.2 71.9L187.9 69.1L189.3 69.3ZM43.2 189L43.1 191L42.4 191.6L41.2 192.7L40 192.1L39.3 189.4L40.4 188L42.2 188.3ZM108 122.4L108.3 124.1L108.4 125.4L106.9 127.5L105.3 127.7L105 125.4L104.9 123.9L106.2 122.4ZM126.7 99.5L126.6 98.1L126.7 96.3L128.5 96.3L129.8 97.4L130.7 98.2L129.7 100.2L129 101.2ZM72.5 26.8L71.5 26.9L70.7 26.3L71.2 24.8L72.4 24.6L73.2 25.7ZM77.5 130L77.7 131.6L76.4 132L75.1 132.2L74.3 130.8L74.5 129.9L75.6 129L77.2 129ZM139.9 111.4L141.9 111.2L142.7 112.9L142.1 113.8L141.4 114.8L139.8 115.5L138.1 114.2L139.1 112.6ZM74.9 133.7L73 133.3L71.5 132.4L71.6 131.2L73 130.1L73.9 130.1L75.4 131.5L74.9 132.4ZM85 8.5L86.2 9.1L86.2 10.7L86.3 12.6L83.8 13.9L81.4 11.9L81.4 9.6L82.8 9.5ZM94.2 45.2L93.4 46.5L92.1 46.8L90.6 46.7L89.1 46.1L89.5 43.4L91.2 42.9L93.2 42.7ZM166 74.8L164.9 73.9L163.3 73.1L164.2 71.3L164.7 70.7L166.7 71.1L167 72.2L168 73.3ZM127.8 46.9L128.7 44.9L129.7 44.6L130.7 45.5L131.8 46.8L131 47.5L130.2 49L128.3 47.5ZM80.4 168.4L80.8 167L82.9 167.4L83.2 169L84 170.7L82 172.6L80.2 171.3L79 170.7ZM167.5 107.5L167.6 105.8L168.7 105.4L170.5 105.4L172 107.1L171.7 109.2L169.3 110.6L167.5 109ZM97.7 156L100.1 156.2L100.4 157.7L101.2 159.7L99.2 160.1L97.7 160.3L96.5 158.9L97.1 157.6ZM128 97.3L128.7 99.3L129.6 100L129.1 102.4L126.7 103.2L125.4 101L124.3 98.7L125.5 97.4ZM153 24.2L153.9 23.7L155.2 23.9L155.6 25.1L154.1 26.4L153.2 25.6ZM152.5 119.5L150.6 120.7L149.7 119.9L150.1 117.9L151.4 117.8L152.4 118.2ZM74.7 137.8L76.3 138.5L76.2 139.6L75.3 141L73.7 140.4L74 138.8ZM100.9 137.4L100.1 138.9L99.4 139L97.8 138.6L98.8 137.2L99.7 136.4ZM50.1 74.1L47.6 73.3L46.5 72L45.4 70.3L46.5 69L48.9 68.1L51.4 69.8L50.2 71.9ZM76.7 188.2L75.7 187.8L74.4 186.9L74.3 184.9L75.4 183.8L76.5 184L77.7 185.1L78 186.8ZM140.8 61.4L139.5 62.1L139 59.9L140.1 59.2L141.3 59.3L142.3 59.8ZM83.9 20.3L83.2 20.6L82.2 19.8L82.6 18.1L84.4 17.8L84.6 19.6ZM41.9 187.9L41.4 189.1L40.4 189.8L38.9 189.6L38.5 187.6L40.4 186.4ZM168.9 125.3L167.5 125.6L166 125.5L164.9 124.1L165.4 123.1L167.1 122.3L168.6 121.9L169.2 123.5ZM77.5 75.4L78.1 74.2L79.6 73.6L80.3 74.8L80.5 76.4L78.6 76.9ZM83.2 94.3L84.8 94L85.1 96.3L85.2 97.7L83.7 98.2L81.9 97.8L81.2 97.2L82.5 95ZM170 72.6L171.2 72.8L173 74.6L172.1 77.1L170.3 78.6L167.9 77.9L167.4 76.2L168.4 74.3ZM114.3 177.5L114.4 176.3L116.1 176.4L116.5 177.6L115.9 178.6L115 178.5ZM96 44L95.6 45.6L93.7 46.5L91.6 47.1L91.6 44.9L92.1 43.2L92.9 41.6L95.3 42.5ZM165.1 114.8L164.1 116.8L161.5 116.7L161.3 113.9L161.7 112.4L163.1 112.2L165.4 112L166 113.8ZM47.9 35.9L46.9 34.5L47.7 33.8L48.9 33.9L49.8 34.5L49.6 36.2ZM57.9 35.4L56.7 35.5L54.8 34.6L54 33.6L54.6 32L56.4 31.8L58 32L58.7 34ZM153.9 137.3L152.3 137.1L151.8 135.5L153 133.4L154.3 134.4L155 135.5ZM78.1 22.6L79.8 21.4L81.6 22.7L81.9 23.6L82.8 25.5L79.9 25.9L78.2 26.7L76.7 23.8ZM171 120.2L171.3 121.4L170.2 121.8L168.5 121.9L168.5 120.6L168.8 119.6L169.5 119.1L171.5 118.9ZM72.5 69L71 69.5L69.7 69.3L68.4 69.8L67.8 67.7L69.8 66.8L70.4 65.9L71.9 66.7ZM43.2 29.1L44.5 28.7L45.3 30.3L44.2 30.9L42.9 31.2L42.5 30.1ZM117.7 49.1L118.1 48L119.6 47.9L121.7 47.3L121.6 49.4L121.6 50.8L119.9 51.4L118.2 51.1ZM80.6 182.8L80.3 184.9L80.1 186L78.6 187.1L76.5 187.1L76.4 184.4L76.7 182.3L78.2 182.2ZM67.4 112.3L66.4 113.9L65.5 114.6L64.4 113.3L64.4 111.7L66.5 111.2ZM116.3 45.2L117.6 45.8L118.3 47.4L117.6 48.7L116 49.6L114.5 49.3L114.8 47.3L115 44.9ZM154.2 136.4L154.4 137.4L153.6 138.3L153.1 137.6L152.6 136.9L153.6 136.3ZM120.3 43.7L122.7 42.1L124 43.4L124.3 44.2L124.1 45.5L123.5 46.2L121.1 46.5L120.2 45.6ZM89.6 129.6L88 129.6L86.7 129.2L86.9 127.8L87.5 127.4L89.1 126.6L89.8 127.7L89.9 128.5ZM100.4 72.4L100.6 73.6L100.1 74.6L98.2 74.8L98.2 73.1L98.4 71.9ZM138.2 118.9L140.3 119.6L140.9 120.8L139.5 122.1L138.1 121.8L138.2 120.3ZM99.1 65L100 64.2L101.5 64.1L101.6 66L100.4 66.4L99.1 66.5ZM10.4 1L12 2.1L11.3 3.3L10.3 4L8.3 3L8.9 0.9ZM50.5 52.4L51.8 51.3L52.6 52.3L53.3 53.4L51.5 54.8L50.3 54.1ZM52 14L53.1 14.8L53.8 16.5L52.4 18L51.3 19.2L50.1 17.5L48.9 16.5L49.4 15ZM150.3 150.9L150.5 152.1L149.8 154L147.4 153.6L146.6 152L147.4 151L148.1 150.3L149.3 149ZM188.3 164.3L186.7 164.4L185.5 165.1L185.2 163.2L185.2 161.8L186.9 161.7L187.4 161.8L189.3 162.9ZM100.7 77.8L102.2 78.4L101.6 80.1L100.7 80.3L99.7 79.5L100.1 78.5ZM12.2 141.5L11.6 140.1L13.4 138.3L14.9 138.3L16.3 139.4L16.1 141L15.6 142.6L13.7 142.3ZM16.7 149.4L17.5 152.7L16.7 154.8L15 155.2L13.3 154.6L12 151.9L13.5 151.1L14.9 149.5ZM66.5 38.7L68.3 39.2L69.2 40.5L67.8 41.3L66.5 41.1L66.3 40ZM86.9 27.9L84.7 26.8L84.1 24.4L85.9 22.7L87.2 23.2L88.6 24L88.4 25.6L87.9 26.8ZM119.1 165.5L119.9 163.7L121.3 162.7L122.2 163.9L122.5 165.3L120.8 166.3ZM58.9 64.2L58.2 65.6L57.4 66.4L56.4 67.9L55.5 66L55.4 64.8L56.1 63.7L57.1 63ZM49.6 117.9L49.7 120.9L48.1 121.5L46.6 122.6L44.2 121.8L44 119.2L46.2 116.9L48.1 117.4ZM155.4 33.7L156.8 34.5L157.3 37.2L154.6 37.7L153.7 36.9L152.2 35.7L151.9 34.3L153.8 33.8ZM179.1 74.2L179 73.4L180.4 73L180.8 74L180.9 75.3L179.7 75.5ZM14.1 0.8L13.8 1.8L12.9 3.2L11.7 4.8L10.3 3.2L10 2.2L10.3 -0.3L11.8 -0.9ZM50.4 46.4L50.8 48.1L48.9 49.1L47.1 48.5L46.3 47.5L47.7 45.8L48.5 45.3L50.1 45.5ZM160.2 102L160.7 103.7L160.3 105.8L159.1 105.5L157.7 105.1L156 104.1L156.5 102.5L158.2 101.8ZM49.4 142.1L50.8 140.4L52.1 140.5L53.1 142.3L53 144.9L51.2 146.1L49.6 145.1L48.7 143.5ZM158.1 108.4L158.8 109.4L159.2 110.5L157.1 111L155.7 109.9L156 108.6ZM92.5 134.5L93.2 136.8L93.3 138.4L91.7 139.1L90.4 139.5L88.7 137.4L88.9 135.8L90.6 135.7ZM98.3 95.7L97.8 96.8L96.5 96.7L94.1 96.5L94.2 95.6L95.1 93.9L96.9 93.4L98.3 94.5ZM164.5 35.7L164.8 37.3L163.2 38.2L162.4 37.1L162.2 36L163.1 35.5ZM132.3 153.6L133.1 152.3L134.6 152.4L135.5 154.2L135.5 155.3L134.1 156.1L133.3 156.2L132.4 154.9ZM112.4 147.6L111.2 148.7L110 149.5L108.5 148.6L109.6 146.6L110.7 146.6ZM92 48.3L91.4 47.4L91.9 46L93.5 46.1L93.6 47.5L93.2 48.7ZM84.4 182.3L85.1 183.1L84.8 183.8L83.9 184.5L83 183.9L83.2 182.9ZM51.7 39.9L53.2 38.5L54.1 40.6L54.2 42.5L52.7 44.7L51.8 43.4L50.2 42.7L49.7 40.7ZM166.9 76.1L167.7 77.2L166.9 78.4L165 78.3L164.5 75.9L165.9 75.3ZM147.9 152.8L145.3 152.1L143.7 152.8L142.8 149.8L143.5 148.6L145.2 147.2L147.7 148.9L148.7 149.6ZM100.1 150.1L100.2 151.9L97.5 152.1L96 152.6L95.6 150.1L95.7 148.2L98.5 147.6L99.8 148.6ZM141.3 84.5L141.8 82.4L143.3 80.6L145.4 81.4L145.5 82.7L146.2 84.1L146.3 85.7L143.6 86.4ZM109.2 176.6L108.2 177.8L107.2 177.2L106.4 176.1L107.2 175.4L108.6 175.7ZM104 35.5L105 34L106.5 34L107.2 35.1L106.7 37L105.1 36.4ZM180 115L179.4 114L180.6 112.9L181.9 112.8L182.3 114.4L181.3 115.3ZM65.8 1.3L65.9 -0.5L66.8 -0.7L67.8 -0.1L67.9 1L66.6 1.6ZM48.9 110.1L48.7 111.2L47.8 111.9L46.6 111.1L46 110.1L46.3 108.8L47.4 107.7L48.2 109ZM102.3 144.6L103.1 147.1L102.3 148.6L99.9 149L98.2 147.2L97.9 146L98.6 144.5L100.6 144.6ZM80 92.6L79 93.8L77.4 95.3L76.2 94.2L75.8 92.8L76 90.5L77.4 90L78.4 91.2ZM95.5 81.6L94.6 80.3L94.3 78.5L96.3 77.2L98.5 78.5L99.8 79L98.9 81.8L96.9 82.7ZM73.6 174.5L73.5 176.4L72.3 177.4L71.8 176.2L71.5 175.2L72.4 174.2ZM9 44.9L8 44.8L6.6 44.8L4.6 43L6.2 41.9L7.8 40.5L9.7 41.2L9.5 42.9ZM162.8 95.3L163 93.8L165.4 93.1L166.5 96.1L166.1 97.3L165.6 98.6L162.3 99.1L161.6 96.9ZM0.6 112.1L2.3 111.3L4.1 111.9L5.3 112.6L4.3 114.9L3.4 115.5L2 115.4L1 113.7ZM159 48.1L160 46.6L160.8 46.1L162.5 45.9L162.5 47.1L162.5 48.4L160.9 50L159.8 48.8ZM76 81.3L76.7 79.7L77.2 79.2L78.7 79.3L78.9 80.2L79.2 81.7L77.9 82.7L76.7 81.8ZM80.9 95.8L79.3 95.3L79.8 94.2L80.6 93.3L81.9 94.4L82.5 95.4ZM172.7 54.7L173.3 52.8L174.7 53L175.9 54.4L175.3 56.3L173.6 55.9ZM156 89.2L156.4 87.8L158.3 88.2L159.3 89.6L158.4 91L156.5 91ZM154.4 64.9L153.4 65.9L152.5 65.5L151.6 64.3L152.9 63L154.2 63.2ZM177 99.8L175.7 99.9L174.9 98.8L174.9 97.2L177.1 96.9L178.1 96.4L178.8 98.1L177.8 100ZM153.3 39L154.3 41.7L152.7 42.7L151.4 43.5L150.4 42.1L150 41.1L149.5 39.1L151.7 38.9ZM83 130L82.8 130.8L81.9 132.4L80 132.1L80.1 130.4L80.4 129.2L81.3 128.2L82.4 128.1ZM144.8 115.2L144.6 113.6L145.6 113L147.5 113L148.1 113.5L147.8 115.4L147.3 115.8L146.1 116ZM28.3 28.2L28.7 30.2L28.5 31L27.2 32.5L25.8 31.4L25.1 31.1L25.4 28.9L26.9 28ZM135.5 42.6L136.7 42.1L136.9 42.9L136.7 44.1L135.5 44.3L134.8 43.7ZM188.5 109.9L188 112.3L186.5 113.9L184.9 113.1L184.6 112.2L184.6 110.4L185.4 109.3L187 108.7ZM146.6 119.7L147.7 120.9L146.1 122.4L145 122.7L144.6 121L145.2 119.7ZM34.3 29.5L35.8 30L35.5 31.4L33.9 31.7L32.6 31L33.4 29.9ZM169.3 114.1L168.8 113.1L169.7 111.8L171.3 111.7L172.4 113.4L171.1 114.7ZM164.3 139.4L166.4 138.7L167.5 139.5L168.3 141.7L167.4 142.4L165.6 142.5L164.3 142.5L164.6 141ZM88.1 181.1L87.4 181.5L86.5 180.9L84.9 179.7L85.7 179.1L86.5 178.4L88.3 178.2L89.2 179.6ZM59.9 138.9L60.5 140.2L59.1 141.5L57.8 140.1L56.6 138.4L57 137.3L58.1 137.1L60.1 137ZM97.3 78.3L99.2 78.3L98.8 80.1L98.3 82.7L96.8 82.6L94.8 81.3L95.2 79.4L95.7 78.3ZM57.2 63.8L58.2 64L58.1 65.7L56.8 66.6L55.9 65.7L56.3 64.2ZM117.3 4.2L117.8 6.5L116.2 8.1L115.1 7.8L113.3 7.2L112.8 5.6L113.9 4.5L115.3 4.4ZM177.8 109.6L176.5 108.2L176.9 106.6L178.3 106.9L178.9 107.6L179.5 109ZM191.2 124L189.5 125.1L187.4 123.9L188 121.8L188.7 120.1L189.8 120.5L192 120.6L192.7 122ZM19.5 46.7L20.5 46.8L21.1 47.9L20.5 49.1L19.7 48.5L19 47.5ZM164.2 151.9L165 152.5L164.3 153.7L163.7 154L162.3 152.8L163 152ZM162.7 151.1L162.2 149.8L163.2 148.4L165.5 148L166.2 148.8L166.5 150.8L166 152.4L164.3 152.1ZM23 190.8L23.5 192.4L22.3 193.6L20.7 193.5L21.1 192.1L21.3 190.7ZM50.4 44.3L51.4 43L54.3 43.2L54.5 45.2L54.8 48.2L52.8 49.1L51 48.6L49.3 46.7ZM185.9 148.5L184.4 147.5L185.3 146.2L186.2 145.7L187.5 146.8L186.9 148.3ZM31.2 121.9L30.4 123.6L28.5 123.5L28.1 122.2L27.4 121.6L27.5 120.3L29.2 119.9L30.4 120.8ZM77.7 37.8L77.8 36L79.1 35.2L80.1 36.8L80 38.3L78.3 39.4ZM66.9 24.5L66 24.7L64.7 24.3L65.2 22.9L65.9 22.7L67 23.4ZM77.4 188.8L76.4 187.7L77.1 186.9L78.9 186.5L79.8 187L80.2 188.3L80.2 189.8L78 190.5ZM161.9 75.1L161 73.7L161.5 72.6L162.4 71.9L164 72.2L164.8 73.5L164.6 74.4L162.9 75.7ZM49.9 59.5L50.7 60.3L49.9 61.8L48.7 62L48.2 60.7L48.8 59.3ZM72.2 37.1L73.3 37.1L73.8 38.8L73.1 39.4L72 39.8L71.3 38.1ZM165.6 175.3L165.5 174.2L166.8 173.1L169 172.7L168.9 174.8L170 176.2L167.7 177.4L166.6 176.8ZM31.1 186.9L30.9 187.7L29.9 187.5L29.1 186.7L30.1 186L30.7 186.1ZM137.7 163.5L136.5 162.7L136.6 161.1L138.2 161.6L139.6 162.1L138.9 163.7ZM67 55.6L67.2 54.3L68.7 53.8L70.6 54.3L69.6 55.8L68.7 57.1ZM86.3 187.6L84.9 187.7L83.8 187.8L83.1 186.4L83.6 184.6L84.6 183.8L86.7 184.8L87 185.9ZM156.8 134.9L155.9 133.4L157.3 131.7L159.1 131.6L160.6 132.2L160.6 133.7L160.9 134.7L159.1 135.5ZM54.4 111.6L53.4 110.8L52.8 110.2L53.4 108.9L55.3 109L55.4 110.7ZM150.7 90.1L151.7 90.4L151.6 92.4L150.5 93L149 92.6L147.9 92.4L148.2 90.1L149.9 89.7ZM76.9 83.9L75.5 84.3L74.4 83.2L75.4 82L76.7 82L77.2 82.9ZM106.4 84.1L105.9 82.4L107.4 82.5L108.1 82.6L108.4 84.2L106.9 85.2ZM45.4 39.6L46.6 39.4L47.9 40.6L48.2 41.5L46.8 43.1L46 42.9L44.4 42.3L44.6 40.6ZM64.4 1.2L64.9 3.7L64.7 5.2L62.9 6L60.5 5.4L59.7 3L60.8 0.9L62.7 1.2ZM115.4 119.8L114.1 118.6L114.4 117.3L115.7 117.4L117.1 117.8L118.1 119L117.6 120.8L116.3 120.5ZM81.2 128.4L80.7 126.5L82.6 125.7L84.3 125.9L85.2 127.1L85.7 129.4L84.1 129.9L82.9 130.1ZM93.2 145.3L93.5 147.5L92.2 149.2L90 148.4L88.3 147.6L88.6 146.5L89.6 144.3L91.1 145.2ZM147.3 150.2L146.1 149.8L146.1 148.8L146.9 148L148.1 148.7L148 149.6ZM169.6 92.2L168 93.9L166.7 95.3L165 95L163.7 92.8L163.6 91.2L166.5 90.3L168.9 90.4ZM72.7 95.9L72.1 94.8L71.5 93.6L72.6 92.8L74.4 92.8L75 94L74.4 95.1L73.4 96.2ZM112.2 95.3L111.6 94.2L110.2 92.5L112.3 90.3L114.3 91.5L114.7 92L115.8 94.2L114.9 95.8ZM76.5 75.6L75 76L73.5 74.4L74.5 71.9L75.8 71.6L77.3 70.9L78.6 72.8L77.9 74.4ZM94.5 107.7L93.2 108.7L91.9 106.8L90.7 105.2L92.8 103.8L94.8 102.7L95.8 104.5L95.3 105.8ZM5.3 146.6L4 145.9L4.9 144.8L5.6 143.9L6.5 144.9L6.9 146ZM165.2 72.1L166.3 71.1L168.1 71.2L167.6 72.6L166.7 73.6L165.4 73.7ZM179.9 105L181.1 103.3L182.5 104.2L182.8 105.8L181.4 106.8L179.9 106.4ZM127.4 105L126.8 106.1L125.2 105.8L125.1 104.3L126.2 104L127.6 104ZM88.4 73.1L89.7 73L91.4 72.5L92.9 74.5L92.5 76.3L90.5 76.1L88.9 76.6L88.3 74.8ZM98.1 77.6L97.5 79.3L96.5 79.4L94.8 78L95 76.6L94.7 75.5L97 74.8L98.1 76.4ZM55 117.7L54 118.7L52.5 118L52 116.6L52.9 115.3L54.5 116.1ZM85.3 52.4L84.5 51.9L84 51L84.6 50L85.3 50.5L86.3 51.6ZM115.6 78.6L113.8 79.7L112.6 78.9L112.1 77.8L111.2 76.1L113.3 74.9L115 75.1L115.6 77.7ZM160.3 142.9L161.5 142.9L162.2 144.8L161 145.8L159.8 146L158.3 145.1L157.6 143.6L158.8 143ZM28.2 101.1L27 104.2L25.7 104.6L24 103.1L22.7 101.1L24.2 100.2L25.1 99.9L26.5 100.3Z"/>
<path d="M71 34.3L72.2 26.9M71 34.3L77.4 31M71 34.3L71.1 41M71 34.3L72.2 28.1M71 34.3L68.6 41.6M71 34.3L66.8 40.6M71 34.3L66.1 30.3M28.9 73.3L21.7 75.3M28.9 73.3L35.5 71.2M28.9 73.3L23.1 71.1M28.9 73.3L23.8 77.3M55.4 138.1L48.9 139M55.4 138.1L50 137.5M55.4 138.1L60.9 136.3M55.4 138.1L52.7 131.4M55.4 138.1L55.7 132.5M55.4 138.1L52.2 134.1M161.5 126.4L163.4 120.3M161.5 126.4L156.7 118.8M161.5 126.4L163.1 118.1M161.5 126.4L154.9 127.3M161.5 126.4L163.2 119.4M161.5 126.4L164.3 117.7" fill="none" stroke="#2fe62f" stroke-width="0.9" stroke-linecap="round"/>
</g>
<path d="M161 50a1 1 0 1 0 2 0a1 1 0 1 0 -2 0ZM169 65a1 1 0 1 0 2 0a1 1 0 1 0 -2 0Z" fill="#e0453f" filter="url(#fblur)"/>
</g>
<rect x="564.9" y="1261.9" width="19.9" height="6.2" fill="#fff"/>
<clipPath id="fc22"><rect x="0" y="0" width="192.3" height="193.2"/></clipPath>
<g transform="translate(597.9 1085.1)" clip-path="url(#fc22)">
<rect x="0" y="0" width="192.3" height="193.2" fill="#000"/>
<g filter="url(#fblur)" fill="#52e052">
<path d="M45.8 116.6a1.1 1.1 0 1 0 2.2 0a1.1 1.1 0 1 0 -2.2 0ZM85.1 105a1.1 1.1 0 1 0 2.3 0a1.1 1.1 0 1 0 -2.3 0ZM82 65.5a1 1 0 1 0 2 0a1 1 0 1 0 -2 0ZM10.5 75.5a0.9 0.9 0 1 0 1.8 0a0.9 0.9 0 1 0 -1.8 0ZM127 85.9a1.2 1.2 0 1 0 2.3 0a1.2 1.2 0 1 0 -2.3 0ZM105.1 115.6a0.8 0.8 0 1 0 1.6 0a0.8 0.8 0 1 0 -1.6 0ZM174.3 115.1a1.2 1.2 0 1 0 2.4 0a1.2 1.2 0 1 0 -2.4 0ZM56.4 72.1a1.3 1.3 0 1 0 2.6 0a1.3 1.3 0 1 0 -2.6 0ZM123.7 44.8a1.1 1.1 0 1 0 2.1 0a1.1 1.1 0 1 0 -2.1 0ZM165.5 34.4a1.2 1.2 0 1 0 2.3 0a1.2 1.2 0 1 0 -2.3 0ZM172.5 79.7a0.9 0.9 0 1 0 1.7 0a0.9 0.9 0 1 0 -1.7 0ZM92 101.5a0.9 0.9 0 1 0 1.9 0a0.9 0.9 0 1 0 -1.9 0ZM89.3 191.4a1 1 0 1 0 2 0a1 1 0 1 0 -2 0ZM42.3 145.8a1.1 1.1 0 1 0 2.1 0a1.1 1.1 0 1 0 -2.1 0ZM147.9 138.3a0.9 0.9 0 1 0 1.8 0a0.9 0.9 0 1 0 -1.8 0ZM113.5 20a1 1 0 1 0 1.9 0a1 1 0 1 0 -1.9 0ZM88.9 187.6a0.8 0.8 0 1 0 1.6 0a0.8 0.8 0 1 0 -1.6 0ZM105.1 111a1.2 1.2 0 1 0 2.4 0a1.2 1.2 0 1 0 -2.4 0ZM36.9 183.1a0.9 0.9 0 1 0 1.9 0a0.9 0.9 0 1 0 -1.9 0ZM99.7 130.2a1.4 1.4 0 1 0 2.8 0a1.4 1.4 0 1 0 -2.8 0ZM171 62.2a1.2 1.2 0 1 0 2.3 0a1.2 1.2 0 1 0 -2.3 0ZM28.9 190.1a0.9 0.9 0 1 0 1.8 0a0.9 0.9 0 1 0 -1.8 0ZM158.6 76.8a1 1 0 1 0 1.9 0a1 1 0 1 0 -1.9 0ZM5.1 133.6a1.2 1.2 0 1 0 2.5 0a1.2 1.2 0 1 0 -2.5 0ZM97.4 173.4a1.3 1.3 0 1 0 2.7 0a1.3 1.3 0 1 0 -2.7 0ZM12.2 117.6a1.1 1.1 0 1 0 2.3 0a1.1 1.1 0 1 0 -2.3 0ZM52.1 119.5a1 1 0 1 0 2 0a1 1 0 1 0 -2 0ZM120.2 88.5a1 1 0 1 0 2 0a1 1 0 1 0 -2 0ZM129 79a1.2 1.2 0 1 0 2.4 0a1.2 1.2 0 1 0 -2.4 0ZM67.7 119a1.4 1.4 0 1 0 2.8 0a1.4 1.4 0 1 0 -2.8 0ZM5.9 104.6a1.2 1.2 0 1 0 2.3 0a1.2 1.2 0 1 0 -2.3 0ZM146.8 110.8a1.1 1.1 0 1 0 2.1 0a1.1 1.1 0 1 0 -2.1 0ZM41.4 163.1a0.9 0.9 0 1 0 1.9 0a0.9 0.9 0 1 0 -1.9 0ZM63 98.9a1.3 1.3 0 1 0 2.5 0a1.3 1.3 0 1 0 -2.5 0ZM50.3 57.3a1.3 1.3 0 1 0 2.7 0a1.3 1.3 0 1 0 -2.7 0ZM72.4 168.6a0.9 0.9 0 1 0 1.8 0a0.9 0.9 0 1 0 -1.8 0ZM74 86.9a0.9 0.9 0 1 0 1.7 0a0.9 0.9 0 1 0 -1.7 0ZM37.9 107.3a1.3 1.3 0 1 0 2.6 0a1.3 1.3 0 1 0 -2.6 0ZM123 104.8a1.3 1.3 0 1 0 2.5 0a1.3 1.3 0 1 0 -2.5 0ZM74.1 141.8a1 1 0 1 0 2.1 0a1 1 0 1 0 -2.1 0ZM84.8 90.8a0.9 0.9 0 1 0 1.7 0a0.9 0.9 0 1 0 -1.7 0ZM10.1 139.6a0.8 0.8 0 1 0 1.6 0a0.8 0.8 0 1 0 -1.6 0ZM119.1 123.3a1 1 0 1 0 2.1 0a1 1 0 1 0 -2.1 0ZM7.8 9.2a0.9 0.9 0 1 0 1.7 0a0.9 0.9 0 1 0 -1.7 0ZM111.5 83a0.8 0.8 0 1 0 1.7 0a0.8 0.8 0 1 0 -1.7 0ZM37.6 132a1 1 0 1 0 2.1 0a1 1 0 1 0 -2.1 0ZM52.2 13.2a1.2 1.2 0 1 0 2.5 0a1.2 1.2 0 1 0 -2.5 0ZM73.4 189.2a1.4 1.4 0 1 0 2.8 0a1.4 1.4 0 1 0 -2.8 0ZM43.9 10a1.1 1.1 0 1 0 2.2 0a1.1 1.1 0 1 0 -2.2 0ZM90.7 151.9a0.8 0.8 0 1 0 1.7 0a0.8 0.8 0 1 0 -1.7 0ZM13.8 67.7a1 1 0 1 0 2 0a1 1 0 1 0 -2 0ZM83 16.6a1.2 1.2 0 1 0 2.4 0a1.2 1.2 0 1 0 -2.4 0ZM106.9 112.4a1.1 1.1 0 1 0 2.1 0a1.1 1.1 0 1 0 -2.1 0ZM70 129a1 1 0 1 0 2 0a1 1 0 1 0 -2 0ZM169.2 60.8a1.3 1.3 0 1 0 2.6 0a1.3 1.3 0 1 0 -2.6 0ZM37.1 10.4a1.2 1.2 0 1 0 2.3 0a1.2 1.2 0 1 0 -2.3 0ZM45.3 153.7a1.2 1.2 0 1 0 2.4 0a1.2 1.2 0 1 0 -2.4 0ZM44.3 83.9a1.2 1.2 0 1 0 2.4 0a1.2 1.2 0 1 0 -2.4 0ZM63.6 43.8a1 1 0 1 0 1.9 0a1 1 0 1 0 -1.9 0ZM24.7 95.5a1.2 1.2 0 1 0 2.3 0a1.2 1.2 0 1 0 -2.3 0ZM55.5 53a0.8 0.8 0 1 0 1.6 0a0.8 0.8 0 1 0 -1.6 0ZM113.2 105.1a1.2 1.2 0 1 0 2.4 0a1.2 1.2 0 1 0 -2.4 0ZM163 85.8a1.1 1.1 0 1 0 2.1 0a1.1 1.1 0 1 0 -2.1 0ZM83.8 141.3a0.9 0.9 0 1 0 1.8 0a0.9 0.9 0 1 0 -1.8 0ZM21.5 110.1a1 1 0 1 0 2 0a1 1 0 1 0 -2 0ZM109.4 105.9a1.1 1.1 0 1 0 2.1 0a1.1 1.1 0 1 0 -2.1 0ZM70.9 122.4a1.3 1.3 0 1 0 2.5 0a1.3 1.3 0 1 0 -2.5 0ZM161.3 24.6a1.3 1.3 0 1 0 2.6 0a1.3 1.3 0 1 0 -2.6 0ZM73.6 33.1a1 1 0 1 0 2.1 0a1 1 0 1 0 -2.1 0ZM168.6 155.5a0.8 0.8 0 1 0 1.6 0a0.8 0.8 0 1 0 -1.6 0ZM86.4 107.4a0.9 0.9 0 1 0 1.8 0a0.9 0.9 0 1 0 -1.8 0ZM17.5 50.7a0.8 0.8 0 1 0 1.7 0a0.8 0.8 0 1 0 -1.7 0ZM103.5 161.8a1.2 1.2 0 1 0 2.3 0a1.2 1.2 0 1 0 -2.3 0ZM78.1 29.1a1 1 0 1 0 2.1 0a1 1 0 1 0 -2.1 0ZM152.4 71.7a1.4 1.4 0 1 0 2.7 0a1.4 1.4 0 1 0 -2.7 0ZM118.4 90.5a1.3 1.3 0 1 0 2.6 0a1.3 1.3 0 1 0 -2.6 0ZM24.2 100.2a1.3 1.3 0 1 0 2.7 0a1.3 1.3 0 1 0 -2.7 0ZM187.9 145.2a1.3 1.3 0 1 0 2.7 0a1.3 1.3 0 1 0 -2.7 0ZM143.3 1.5a1.2 1.2 0 1 0 2.3 0a1.2 1.2 0 1 0 -2.3 0ZM58 146.6a1 1 0 1 0 1.9 0a1 1 0 1 0 -1.9 0ZM79.1 182a0.8 0.8 0 1 0 1.7 0a0.8 0.8 0 1 0 -1.7 0ZM113.2 132.3a1.2 1.2 0 1 0 2.4 0a1.2 1.2 0 1 0 -2.4 0ZM99.4 150.9a0.9 0.9 0 1 0 1.7 0a0.9 0.9 0 1 0 -1.7 0ZM-0.8 187.4a1.1 1.1 0 1 0 2.3 0a1.1 1.1 0 1 0 -2.3 0ZM116.1 127.3a1.3 1.3 0 1 0 2.6 0a1.3 1.3 0 1 0 -2.6 0ZM32.9 161.5a0.9 0.9 0 1 0 1.8 0a0.9 0.9 0 1 0 -1.8 0ZM7 64.1a1 1 0 1 0 2.1 0a1 1 0 1 0 -2.1 0ZM87.9 185.9a0.9 0.9 0 1 0 1.8 0a0.9 0.9 0 1 0 -1.8 0ZM77.8 154.2a1.3 1.3 0 1 0 2.7 0a1.3 1.3 0 1 0 -2.7 0ZM148.5 19.7a1.4 1.4 0 1 0 2.7 0a1.4 1.4 0 1 0 -2.7 0ZM122.6 81a1.3 1.3 0 1 0 2.7 0a1.3 1.3 0 1 0 -2.7 0ZM171.9 8.4a0.8 0.8 0 1 0 1.6 0a0.8 0.8 0 1 0 -1.6 0ZM133.7 41.1a1.3 1.3 0 1 0 2.6 0a1.3 1.3 0 1 0 -2.6 0ZM47.4 77.2a1.1 1.1 0 1 0 2.3 0a1.1 1.1 0 1 0 -2.3 0ZM116.7 173.7a1 1 0 1 0 2.1 0a1 1 0 1 0 -2.1 0ZM88.2 153.8a1.3 1.3 0 1 0 2.6 0a1.3 1.3 0 1 0 -2.6 0ZM75.4 173a1.1 1.1 0 1 0 2.2 0a1.1 1.1 0 1 0 -2.2 0ZM97.7 120.3a0.9 0.9 0 1 0 1.9 0a0.9 0.9 0 1 0 -1.9 0ZM146 119.9a1.4 1.4 0 1 0 2.8 0a1.4 1.4 0 1 0 -2.8 0ZM19.1 104a1.2 1.2 0 1 0 2.4 0a1.2 1.2 0 1 0 -2.4 0ZM63.2 110.1a1.1 1.1 0 1 0 2.1 0a1.1 1.1 0 1 0 -2.1 0ZM136 127.7a1.3 1.3 0 1 0 2.5 0a1.3 1.3 0 1 0 -2.5 0ZM77.2 128.3a0.9 0.9 0 1 0 1.8 0a0.9 0.9 0 1 0 -1.8 0ZM78.5 179a0.9 0.9 0 1 0 1.9 0a0.9 0.9 0 1 0 -1.9 0ZM70.8 47.8a1 1 0 1 0 2 0a1 1 0 1 0 -2 0ZM6.7 94a1 1 0 1 0 2.1 0a1 1 0 1 0 -2.1 0ZM126.4 137.8a1 1 0 1 0 2 0a1 1 0 1 0 -2 0ZM82.6 126.6a1.4 1.4 0 1 0 2.7 0a1.4 1.4 0 1 0 -2.7 0ZM157.5 186.8a1.3 1.3 0 1 0 2.5 0a1.3 1.3 0 1 0 -2.5 0ZM125.6 186.2a1 1 0 1 0 2 0a1 1 0 1 0 -2 0ZM77 69.7a0.9 0.9 0 1 0 1.8 0a0.9 0.9 0 1 0 -1.8 0ZM140.3 46.1a1.3 1.3 0 1 0 2.5 0a1.3 1.3 0 1 0 -2.5 0ZM113.9 50.9a0.8 0.8 0 1 0 1.7 0a0.8 0.8 0 1 0 -1.7 0ZM79.1 96.8a1.1 1.1 0 1 0 2.2 0a1.1 1.1 0 1 0 -2.2 0ZM85.3 168.2a1.1 1.1 0 1 0 2.2 0a1.1 1.1 0 1 0 -2.2 0ZM17.2 145.8a1.3 1.3 0 1 0 2.6 0a1.3 1.3 0 1 0 -2.6 0ZM151.6 126.8a1.4 1.4 0 1 0 2.8 0a1.4 1.4 0 1 0 -2.8 0ZM18.3 136.1a0.9 0.9 0 1 0 1.8 0a0.9 0.9 0 1 0 -1.8 0ZM58.7 55.4a1.1 1.1 0 1 0 2.2 0a1.1 1.1 0 1 0 -2.2 0ZM79.8 188.6a1.1 1.1 0 1 0 2.3 0a1.1 1.1 0 1 0 -2.3 0ZM14 154.8a1.1 1.1 0 1 0 2.2 0a1.1 1.1 0 1 0 -2.2 0ZM83.7 62.9a0.9 0.9 0 1 0 1.8 0a0.9 0.9 0 1 0 -1.8 0ZM50.3 97.3a1 1 0 1 0 2 0a1 1 0 1 0 -2 0ZM137.8 137.8a1.2 1.2 0 1 0 2.4 0a1.2 1.2 0 1 0 -2.4 0ZM108.7 153.8a1.1 1.1 0 1 0 2.1 0a1.1 1.1 0 1 0 -2.1 0ZM37.3 68.1a0.9 0.9 0 1 0 1.8 0a0.9 0.9 0 1 0 -1.8 0ZM95.7 58.5a1.4 1.4 0 1 0 2.7 0a1.4 1.4 0 1 0 -2.7 0ZM105.8 107.7a1.3 1.3 0 1 0 2.5 0a1.3 1.3 0 1 0 -2.5 0ZM66 120.4a1.1 1.1 0 1 0 2.2 0a1.1 1.1 0 1 0 -2.2 0ZM99.9 10a1 1 0 1 0 2.1 0a1 1 0 1 0 -2.1 0ZM74.6 37.6a1.3 1.3 0 1 0 2.7 0a1.3 1.3 0 1 0 -2.7 0ZM69.2 181.3a1.3 1.3 0 1 0 2.6 0a1.3 1.3 0 1 0 -2.6 0ZM81.7 105.9a1.2 1.2 0 1 0 2.3 0a1.2 1.2 0 1 0 -2.3 0ZM124.3 110.8a1.4 1.4 0 1 0 2.8 0a1.4 1.4 0 1 0 -2.8 0ZM99.4 106.5a1.1 1.1 0 1 0 2.2 0a1.1 1.1 0 1 0 -2.2 0ZM21.7 77.1a1.4 1.4 0 1 0 2.8 0a1.4 1.4 0 1 0 -2.8 0ZM7.8 77.1a1.3 1.3 0 1 0 2.7 0a1.3 1.3 0 1 0 -2.7 0ZM9.7 72a0.8 0.8 0 1 0 1.7 0a0.8 0.8 0 1 0 -1.7 0ZM10.7 91.9a1.1 1.1 0 1 0 2.2 0a1.1 1.1 0 1 0 -2.2 0ZM25.5 5.4a1 1 0 1 0 2.1 0a1 1 0 1 0 -2.1 0ZM149.2 106.7a0.9 0.9 0 1 0 1.7 0a0.9 0.9 0 1 0 -1.7 0ZM138.3 15.1a1.1 1.1 0 1 0 2.3 0a1.1 1.1 0 1 0 -2.3 0ZM34.6 125.6a1.2 1.2 0 1 0 2.4 0a1.2 1.2 0 1 0 -2.4 0ZM13.6 71.2a1 1 0 1 0 2 0a1 1 0 1 0 -2 0ZM102.8 45.7a1.1 1.1 0 1 0 2.2 0a1.1 1.1 0 1 0 -2.2 0ZM87.8 54.8a1.4 1.4 0 1 0 2.8 0a1.4 1.4 0 1 0 -2.8 0ZM185.9 142.9a1.3 1.3 0 1 0 2.6 0a1.3 1.3 0 1 0 -2.6 0ZM132.2 114a0.9 0.9 0 1 0 1.8 0a0.9 0.9 0 1 0 -1.8 0ZM146.1 144a0.8 0.8 0 1 0 1.6 0a0.8 0.8 0 1 0 -1.6 0ZM58.6 27.8a0.8 0.8 0 1 0 1.6 0a0.8 0.8 0 1 0 -1.6 0Z"/>
<path d="M137.7 80.1L137.2 80.6L133.5 80.5L129.4 77.2L134.4 73.4L134 72.5L138.5 67.6L141.1 64.2L142.6 72.5L144.8 74.1L145.1 79.1L141.2 78.4ZM111.3 57.6L113.2 57.7L116.3 56.7L116.6 58.8L118.2 59.7L117.1 61.7L117.9 65.5L113.4 67.8L111.4 64.3L110.8 62.6L106.8 61.6L109.1 58.8ZM131.8 47L132.7 47.4L134.4 49.6L136.8 51.3L132 51.9L129.5 53L128.3 51.5L128.9 49ZM182.1 43.6L182.3 41.7L183.9 39.6L185.5 40.7L187.9 41.6L186.6 45.1L185.1 45.3L182.6 46.4ZM89.8 30.9L89.7 28.7L91.3 28.2L95 28.9L94.5 30.9L93.4 33.5L91.5 34.1L89.1 33ZM22.3 13.8L23.8 16.3L24.2 18.8L20.9 20.1L19.3 18.7L17.9 17L19.1 15.3L19.8 12.2ZM25.9 0.8L27.3 2.4L27.3 4.3L25.4 6.5L23.1 5.6L21.7 4.3L22.1 1.8L24.8 -0.6ZM60 66L58.8 66.1L56 65.4L57 63.5L56.8 61.7L58.8 62L60.2 61.6L60.9 64.6ZM143.7 39.9L143.5 38.1L144.3 37.1L145.6 36.3L147 37L147.9 38.3L147.4 39.2L146.1 40.3ZM155.2 72.3L156.6 73L156.8 74.6L156.9 75.7L154.4 76.7L153.6 75.1L152.8 73.1L153.9 72.2ZM122.2 22.2L121.3 23L120.1 24.2L118.6 24L117 23.1L117.4 21.7L118.9 20.3L120.9 20.2ZM112.9 -0.3L113.9 -0.7L114.7 1L114.8 2.5L114.4 3.6L112.1 3.9L110.7 2.4L111.6 1.1ZM126.4 59.4L128 58.9L128.8 58.8L130.7 58.5L130.9 60.3L129.5 61.3L128.4 61.4L127.3 61.5ZM104.7 16.4L103.5 17.4L102.3 17L101.7 15.3L102.1 12.8L103.6 12.3L105.2 13.6L105.3 14.6ZM121.4 75.5L120.7 73.9L121.5 73.2L121.9 72L123.8 73.1L124 73.6L123.8 75.2L122.5 75.8ZM84.9 17.8L86.6 18L87.7 19L87.2 21L85.2 21.1L84 19.7Z"/>
<path d="M138.1 75.7L135.5 67.6M138.1 75.7L144.2 68.2M138.1 75.7L129.7 70.8M138.1 75.7L127.5 71.7M138.1 75.7L130.5 79.5M138.1 75.7L130 69.7M138.1 75.7L134.4 84.2M113.9 60.8L112.6 65.9M113.9 60.8L118.4 63.5M113.9 60.8L108.1 60.1M113.9 60.8L116.1 55" fill="none" stroke="#52e052" stroke-width="0.9" stroke-linecap="round"/>
</g>
<path d="M80.3 109a0.9 0.9 0 1 0 1.7 0a0.9 0.9 0 1 0 -1.7 0ZM112.1 154.1a1 1 0 1 0 2 0a1 1 0 1 0 -2 0ZM128.1 155.6a0.9 0.9 0 1 0 1.7 0a0.9 0.9 0 1 0 -1.7 0ZM89.7 161.3a1 1 0 1 0 2 0a1 1 0 1 0 -2 0ZM109.2 121.7a0.7 0.7 0 1 0 1.4 0a0.7 0.7 0 1 0 -1.4 0ZM164.2 123.7a0.9 0.9 0 1 0 1.8 0a0.9 0.9 0 1 0 -1.8 0Z" fill="#e0453f" filter="url(#fblur)"/>
</g>
<rect x="761.7" y="1261.9" width="19.7" height="6.2" fill="#fff"/>
</g>
<g id="panelE">
<text class="pl" transform="translate(823.51 626.7) scale(1.0884 1)" font-size="33">(E)</text>
<rect x="1014.1" y="1041.4" width="37" height="157.6" fill="#33CC33" stroke="#000" stroke-width="2"/>
<rect x="1061.9" y="1084.4" width="37" height="114.6" fill="#3399FF" stroke="#000" stroke-width="2"/>
<rect x="1109.7" y="1102" width="37" height="97" fill="#FF4D4D" stroke="#000" stroke-width="2"/>
<rect x="1185" y="1002.2" width="37" height="196.8" fill="#33CC33" stroke="#000" stroke-width="2"/>
<rect x="1233" y="1004.4" width="37" height="194.6" fill="#3399FF" stroke="#000" stroke-width="2"/>
<rect x="1280.8" y="1047.3" width="37" height="151.7" fill="#FF4D4D" stroke="#000" stroke-width="2"/>
<rect x="1355.8" y="832.9" width="37" height="366.1" fill="#33CC33" stroke="#000" stroke-width="2"/>
<rect x="1404" y="866.3" width="37" height="332.7" fill="#3399FF" stroke="#000" stroke-width="2"/>
<rect x="1452.2" y="977.5" width="37" height="221.5" fill="#FF4D4D" stroke="#000" stroke-width="2"/>
<line x1="996" y1="1038.4" x2="1509.5" y2="1038.4" stroke="#FFC000" stroke-width="2.4" stroke-dasharray="8 7.7" stroke-dashoffset="5.4"/>
<path d="M1032.6 1019.4V1060.9M1028 1019.4H1037.2M1028 1060.9H1037.2" stroke="#000" stroke-width="2.4" fill="none"/>
<path d="M1080.4 1069.1V1097.1M1075.8 1069.1H1085M1075.8 1097.1H1085" stroke="#000" stroke-width="2.4" fill="none"/>
<path d="M1128.2 1096.8V1106.3M1123.6 1096.8H1132.8M1123.6 1106.3H1132.8" stroke="#000" stroke-width="2.4" fill="none"/>
<path d="M1203.5 991.6V1010.9M1198.9 991.6H1208.1M1198.9 1010.9H1208.1" stroke="#000" stroke-width="2.4" fill="none"/>
<path d="M1251.5 996.9V1010.9M1246.9 996.9H1256.1M1246.9 1010.9H1256.1" stroke="#000" stroke-width="2.4" fill="none"/>
<path d="M1299.3 1029.5V1064.9M1294.7 1029.5H1303.9M1294.7 1064.9H1303.9" stroke="#000" stroke-width="2.4" fill="none"/>
<path d="M1374.3 797.7V865.3M1369.7 797.7H1378.9M1369.7 865.3H1378.9" stroke="#000" stroke-width="2.4" fill="none"/>
<path d="M1422.5 837.4V892.7M1417.9 837.4H1427.1M1417.9 892.7H1427.1" stroke="#000" stroke-width="2.4" fill="none"/>
<path d="M1470.7 933.2V1019.8M1466.1 933.2H1475.3M1466.1 1019.8H1475.3" stroke="#000" stroke-width="2.4" fill="none"/>
<line x1="994.8" y1="642" x2="994.8" y2="1206.5" stroke="#000" stroke-width="2.6" />
<line x1="986.8" y1="1199" x2="1509.3" y2="1199" stroke="#000" stroke-width="2.6" />
<path d="M986.8 1119.6H994.8M986.8 1040.2H994.8M986.8 960.8H994.8M986.8 881.4H994.8M986.8 802H994.8M986.8 722.6H994.8M986.8 643.2H994.8M1165.4 1199V1206.5M1337.3 1199V1206.5M1508.1 1199V1206.5" stroke="#000" stroke-width="2.3" fill="none"/>
<text transform="translate(950.82 1206.5) scale(1.0500 1)" font-size="24">0</text>
<text transform="translate(936.8 1127.1) scale(1.0500 1)" font-size="24">50</text>
<text transform="translate(922.79 1047.7) scale(1.0500 1)" font-size="24">100</text>
<text transform="translate(922.79 968.3) scale(1.0500 1)" font-size="24">150</text>
<text transform="translate(922.79 888.9) scale(1.0500 1)" font-size="24">200</text>
<text transform="translate(922.79 809.5) scale(1.0500 1)" font-size="24">250</text>
<text transform="translate(922.79 730.1) scale(1.0500 1)" font-size="24">300</text>
<text transform="translate(922.79 650.7) scale(1.0500 1)" font-size="24">350</text>
<text transform="translate(1045.53 1238) scale(1.0181 1)" font-size="24.5">Day 1</text>
<text transform="translate(1217.47 1238) scale(1.0564 1)" font-size="24.5">Day 3</text>
<text transform="translate(1387.86 1238) scale(1.0644 1)" font-size="24.5">Day 7</text>
<rect x="1023.2" y="635.3" width="14.5" height="14.6" fill="#33CC33" stroke="#000" stroke-width="1.6"/>
<text transform="translate(1044.3 651.3) scale(1.0012 1)" font-size="27">1.5%</text>
<rect x="1134.4" y="635.3" width="14.5" height="14.6" fill="#3399FF" stroke="#000" stroke-width="1.6"/>
<text transform="translate(1156.27 651.3) scale(0.9884 1)" font-size="27">2.0%</text>
<rect x="1245.6" y="635.3" width="14.5" height="14.6" fill="#FF4D4D" stroke="#000" stroke-width="1.6"/>
<text transform="translate(1267.47 651.3) scale(0.9884 1)" font-size="27">2.5%</text>
<path d="M1375.1 759.2V747.7H1419.9V798.6M1402.5 706.8V697.3H1469.5V880" fill="none" stroke="#000" stroke-width="2.2"/>
<text transform="translate(1381.21 736.9) scale(1.0114 1)" font-size="23.5">NS</text>
<text transform="translate(1413.78 702.19) scale(1.0756 1)" font-size="37.63">***</text>
<text transform="translate(896 1061.76) rotate(-90) scale(0.9954 1)" font-size="34">Relative viability (%)</text>
<text transform="translate(0 1279.6) scale(1.0252 1)" font-size="29" xml:space="preserve"><tspan x="1132.68">Culture </tspan><tspan x="1243.53">time</tspan></text>
</g>
</svg>
</body></html>
